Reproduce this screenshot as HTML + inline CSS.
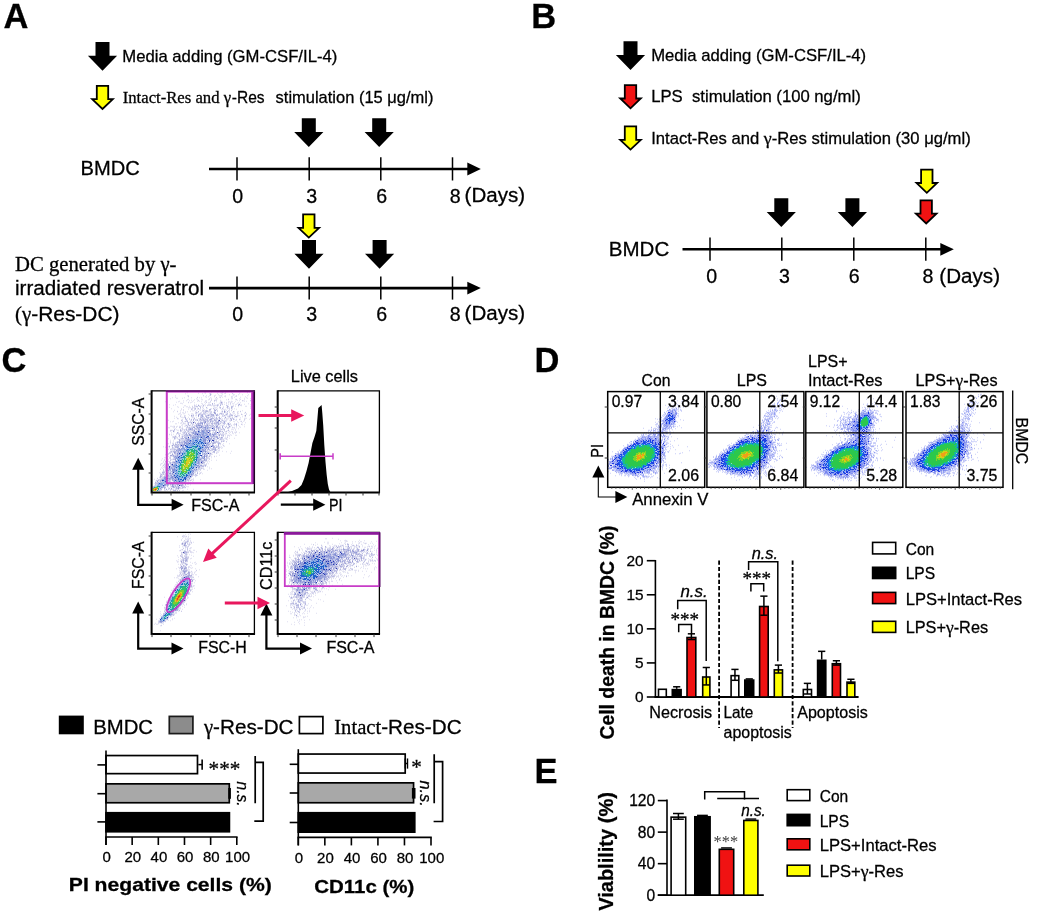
<!DOCTYPE html>
<html lang="en"><head><meta charset="utf-8"><title>Figure</title>
<style>html,body{margin:0;padding:0;background:#fff}svg{display:block;font-family:"Liberation Sans", Arial, Helvetica, sans-serif;fill:#000}text{stroke:#000;stroke-width:.28px}text.ns{stroke:none}</style></head><body>
<svg width="1038" height="917" viewBox="0 0 1038 917">
<rect width="1038" height="917" fill="#fff"/>
<!-- Panel A -->
<text x="3.4" y="28" font-size="34.5" font-weight="bold">A</text>
<polygon points="95.5,42 109.5,42 109.5,55.7 117.1,55.7 102.5,70.7 87.9,55.7 95.5,55.7" fill="#000"/>
<text x="122.3" y="62" font-size="16.2" textLength="215" lengthAdjust="spacingAndGlyphs">Media adding (GM-CSF/IL-4)</text>
<polygon points="96.8,85.8 108.2,85.8 108.2,99.2 112.8,99.2 102.5,109 92.2,99.2 96.8,99.2" fill="#ffff00" stroke="#000" stroke-width="1.8" stroke-linejoin="miter"/>
<text x="122.7" y="102.8" font-size="16" font-family='"Liberation Serif", "Times New Roman", Times, serif' textLength="108.4" lengthAdjust="spacingAndGlyphs">Intact-Res and γ</text>
<text x="231.8" y="102.8" font-size="16.4" textLength="32.8" lengthAdjust="spacingAndGlyphs">-Res</text>
<text x="275.6" y="102.8" font-size="16.4" textLength="157.8" lengthAdjust="spacingAndGlyphs">stimulation (15 μg/ml)</text>
<polygon points="301.8,118.2 315.8,118.2 315.8,131.9 323.4,131.9 308.8,146.9 294.2,131.9 301.8,131.9" fill="#000"/>
<polygon points="372.2,118.2 386.2,118.2 386.2,131.9 393.8,131.9 379.2,146.9 364.6,131.9 372.2,131.9" fill="#000"/>
<text x="80.6" y="175.3" font-size="20.6" textLength="59.2" lengthAdjust="spacingAndGlyphs">BMDC</text>
<line x1="209" y1="169" x2="470.8" y2="169" stroke="#000" stroke-width="2.6"/>
<polygon points="467.3,162.6 480.8,169 467.3,175.4" fill="#000"/>
<line x1="237" y1="157.3" x2="237" y2="180.5" stroke="#000" stroke-width="1.5"/>
<line x1="309.2" y1="157.3" x2="309.2" y2="180.5" stroke="#000" stroke-width="1.5"/>
<line x1="380.8" y1="157.3" x2="380.8" y2="180.5" stroke="#000" stroke-width="1.5"/>
<line x1="452.5" y1="157.3" x2="452.5" y2="180.5" stroke="#000" stroke-width="1.5"/>
<text x="237.6" y="202.8" font-size="19.6" text-anchor="middle">0</text>
<text x="311.6" y="202.8" font-size="19.6" text-anchor="middle">3</text>
<text x="381.6" y="202.8" font-size="19.6" text-anchor="middle">6</text>
<text x="455.2" y="202.8" font-size="19.6" text-anchor="middle">8</text>
<text x="464.6" y="202.4" font-size="20" textLength="60.5" lengthAdjust="spacingAndGlyphs">(Days)</text>
<polygon points="303.1,214.4 314.5,214.4 314.5,227.8 319.1,227.8 308.8,237.6 298.5,227.8 303.1,227.8" fill="#ffff00" stroke="#000" stroke-width="1.8" stroke-linejoin="miter"/>
<polygon points="302,240 316,240 316,253.7 323.6,253.7 309,268.7 294.4,253.7 302,253.7" fill="#000"/>
<polygon points="372.6,240 386.6,240 386.6,253.7 394.2,253.7 379.6,268.7 365,253.7 372.6,253.7" fill="#000"/>
<text x="15" y="271.3" font-size="20.3" font-family='"Liberation Serif", "Times New Roman", Times, serif' textLength="161.5" lengthAdjust="spacingAndGlyphs">DC generated by γ-</text>
<text x="15" y="295.2" font-size="20" textLength="189" lengthAdjust="spacingAndGlyphs">irradiated resveratrol</text>
<text x="15" y="320.8" font-size="20" textLength="104.5" lengthAdjust="spacingAndGlyphs"><tspan font-family='"Liberation Serif", "Times New Roman", Times, serif' font-size="20">(γ</tspan>-Res-DC)</text>
<line x1="209" y1="288.1" x2="470.8" y2="288.1" stroke="#000" stroke-width="2.6"/>
<polygon points="467.3,281.7 480.8,288.1 467.3,294.5" fill="#000"/>
<line x1="237" y1="276.4" x2="237" y2="299.6" stroke="#000" stroke-width="1.5"/>
<line x1="309.2" y1="276.4" x2="309.2" y2="299.6" stroke="#000" stroke-width="1.5"/>
<line x1="380.8" y1="276.4" x2="380.8" y2="299.6" stroke="#000" stroke-width="1.5"/>
<line x1="452.5" y1="276.4" x2="452.5" y2="299.6" stroke="#000" stroke-width="1.5"/>
<text x="237.6" y="321" font-size="19.6" text-anchor="middle">0</text>
<text x="311.6" y="321" font-size="19.6" text-anchor="middle">3</text>
<text x="381.6" y="321" font-size="19.6" text-anchor="middle">6</text>
<text x="455.2" y="321" font-size="19.6" text-anchor="middle">8</text>
<text x="464.6" y="320.4" font-size="20" textLength="60.5" lengthAdjust="spacingAndGlyphs">(Days)</text>
<!-- Panel B -->
<text x="531.2" y="28" font-size="34.5" font-weight="bold">B</text>
<polygon points="623.5,41.3 637.5,41.3 637.5,55 645.1,55 630.5,70 615.9,55 623.5,55" fill="#000"/>
<text x="651.2" y="61.3" font-size="16.2" textLength="215" lengthAdjust="spacingAndGlyphs">Media adding (GM-CSF/IL-4)</text>
<polygon points="624.8,85.1 636.2,85.1 636.2,98.5 640.8,98.5 630.5,108.3 620.2,98.5 624.8,98.5" fill="#f01212" stroke="#000" stroke-width="1.8" stroke-linejoin="miter"/>
<text x="651.2" y="102" font-size="16.4" textLength="209.5" lengthAdjust="spacingAndGlyphs">LPS  stimulation (100 ng/ml)</text>
<polygon points="624.8,126.4 636.2,126.4 636.2,139.8 640.8,139.8 630.5,149.6 620.2,139.8 624.8,139.8" fill="#ffff00" stroke="#000" stroke-width="1.8" stroke-linejoin="miter"/>
<text x="651.2" y="143.8" font-size="16.2" textLength="319.5" lengthAdjust="spacingAndGlyphs">Intact-Res and <tspan font-family='"Liberation Serif", "Times New Roman", Times, serif' font-size="17.5">γ</tspan>-Res stimulation (30 μg/ml)</text>
<polygon points="921.1,169.6 932.5,169.6 932.5,183 937.1,183 926.8,192.8 916.5,183 921.1,183" fill="#ffff00" stroke="#000" stroke-width="1.8" stroke-linejoin="miter"/>
<polygon points="920.5,200.3 931.9,200.3 931.9,213.7 936.5,213.7 926.2,223.5 915.9,213.7 920.5,213.7" fill="#f01212" stroke="#000" stroke-width="1.8" stroke-linejoin="miter"/>
<polygon points="774.3,198.2 788.3,198.2 788.3,211.9 795.9,211.9 781.3,226.9 766.7,211.9 774.3,211.9" fill="#000"/>
<polygon points="845.4,198.2 859.4,198.2 859.4,211.9 867,211.9 852.4,226.9 837.8,211.9 845.4,211.9" fill="#000"/>
<text x="608.8" y="255.8" font-size="20.6" textLength="60.4" lengthAdjust="spacingAndGlyphs">BMDC</text>
<line x1="682.5" y1="249.3" x2="943.8" y2="249.3" stroke="#000" stroke-width="2.6"/>
<polygon points="940.3,242.9 953.8,249.3 940.3,255.7" fill="#000"/>
<line x1="710" y1="237.6" x2="710" y2="260.8" stroke="#000" stroke-width="1.5"/>
<line x1="781.8" y1="237.6" x2="781.8" y2="260.8" stroke="#000" stroke-width="1.5"/>
<line x1="853.8" y1="237.6" x2="853.8" y2="260.8" stroke="#000" stroke-width="1.5"/>
<line x1="925.8" y1="237.6" x2="925.8" y2="260.8" stroke="#000" stroke-width="1.5"/>
<text x="711.8" y="283.2" font-size="19.6" text-anchor="middle">0</text>
<text x="784.4" y="283.2" font-size="19.6" text-anchor="middle">3</text>
<text x="854.3" y="283.2" font-size="19.6" text-anchor="middle">6</text>
<text x="928" y="283.2" font-size="19.6" text-anchor="middle">8</text>
<text x="939.3" y="282.6" font-size="20" textLength="60.7" lengthAdjust="spacingAndGlyphs">(Days)</text>
<!-- Panel C -->
<text x="1.6" y="371.8" font-size="34.5" font-weight="bold">C</text>
<g transform="translate(151 390)" fill="none" stroke-width="1">
<g shape-rendering="crispEdges" transform="translate(0 .5)">
<path d="M0 0m68 30h1m-27 2h1" stroke="#4a4eb0"/>
<path d="M0 0m61 38h1m-15 3h1m9 1h1m8 0h1m-21 2h1m9 2h1m-20 1h1m12 0h1m4 0h1m2 3h1m2 0h2m-5 1h1m-5 2h1m-25 2h1m3 0h1m18 0h1m6 1h1m-11 5h1m-23 2h1m28 0h1m-8 2h1m-24 2h1m22 5h1m-30 2h1m-4 2h1m-1 1h1m26 0h1m-24 5h1m16 4h1m-16 1h1m-9 1h1m17 1h1m-24 1h1m16 1h1m1 2h1m-19 2h1m15 0h1" stroke="#2a3cb4"/>
<path d="M0 0m57 46h1m-9 3h1m-11 1h1m4 0h2m0 1h1m1 0h2m-7 1h1m1 0h1m1 0h1m2 0h2m-14 1h1m3 0h1m4 0h1m2 0h1m1 0h1m-10 1h1m2 1h1m4 0h1m-17 1h2m8 0h2m1 0h1m-13 1h5m8 0h1m1 0h1m-4 1h2m-14 1h2m9 0h1m1 2h1m-3 1h1m-17 1h1m16 0h2m-19 1h1m-2 1h1m18 0h1m-22 1h1m1 1h1m15 0h1m-2 2h1m-19 1h1m1 0h1m15 0h1m-21 1h1m2 1h1m15 2h1m-20 1h1m1 1h1m-3 1h1m14 0h1m1 0h1m-2 1h1m-17 2h1m13 1h1m-3 1h1m1 0h1m-16 1h1m12 0h1m-3 1h1m-13 1h1m2 0h1m8 0h2m-12 1h1m2 0h1m6 0h1m-10 1h1m4 0h1m1 0h2m-8 1h1m5 0h2m-8 1h1m1 0h2m1 0h1m-21 1h1m11 0h1m6 0h2m-19 1h1m-7 2h1m-1 3h1" stroke="#2060cc"/>
<path d="M0 0m45 54h1m-5 2h4m-1 1h2m-4 1h1m4 0h1m-9 1h1m1 0h1m1 0h1m4 0h1m-14 1h2m1 0h1m4 0h2m3 0h1m-14 1h2m6 0h1m2 0h1m-2 1h1m-13 1h1m11 0h2m-2 1h2m-13 1h1m10 0h1m-14 1h2m11 0h1m-15 1h3m10 0h2m-1 1h1m-15 1h1m12 0h1m-15 1h1m12 0h1m-14 1h1m13 0h1m-15 1h1m13 0h1m-16 1h1m11 0h1m-13 1h1m10 0h1m1 0h1m-15 1h2m10 0h1m-13 1h1m11 0h1m-13 1h1m-1 1h2m8 0h2m-12 1h1m9 0h1m-2 1h2m-12 1h2m1 0h1m-4 2h1m1 0h1m4 0h1m-4 1h2m-3 1h1m1 0h2m-5 1h1m1 0h1m-26 10h2m-5 1h1m3 1h1m-1 1h1m-2 1h1" stroke="#20a0a8"/>
<path d="M0 0m40 59h1m-1 1h3m2 0h1m-9 1h1m2 0h3m2 0h1m-10 1h3m3 0h2m-8 1h2m5 0h1m-8 1h2m-3 1h3m2 0h1m1 0h2m-10 2h1m8 0h1m-11 1h1m9 0h1m-11 1h1m8 0h2m-12 1h1m1 0h1m7 0h1m-11 1h1m-2 1h2m8 0h1m-2 1h1m-11 1h1m-1 1h1m-1 2h1m-1 1h1m4 1h1m1 0h1m-3 1h2m-7 2h3m2 0h1m-6 1h2m1 0h1m-5 1h1" stroke="#30c070"/>
<path d="M0 0m39 62h2m-3 1h1m1 0h3m-4 1h4m-5 1h2m1 0h1m-7 1h6m1 0h2m-7 1h1m1 0h1m1 0h2m-4 1h4m-8 1h1m2 0h1m1 0h1m-8 1h1m1 0h1m5 0h1m-9 1h2m4 0h3m-9 1h2m4 0h2m-8 1h2m4 0h1m-9 1h2m1 0h1m3 0h2m-9 1h2m4 0h3m-10 1h2m1 0h1m3 0h2m-8 1h1m2 0h4m-7 1h1m2 0h1m1 0h2m-8 1h5m-4 1h2m-2 1h5m-2 1h1m-31 15h3m-5 1h1m3 0h1m-5 2h1" stroke="#7ccc30"/>
<path d="M0 0m38 67h1m-4 1h4m-3 1h2m1 0h1m-4 1h5m-6 1h4m-4 1h3m-2 1h3m-4 1h2m-4 1h4m-3 1h3m-4 1h1m-1 1h1m-31 20h1m-1 2h1" stroke="#d8d020"/>
<path d="M0 0m35 73h1m-32 25h2m-4 1h2m1 0h1m-2 1h1" stroke="#f09020"/>
<path d="M0 0m4 99h1" stroke="#e04020"/>
</g>
<g transform="scale(0.5) translate(0 .5)">
<path d="M0 0m113 2h1m16 0h1m9 0h1m9 0h1m10 0h1m1 0h1m20 0h1m-115 1h1m62 0h1m1 0h1m12 0h1m1 0h1m1 0h1m23 0h1m-69 1h1m12 0h1m19 0h1m3 0h1m15 0h1m30 0h1m4 0h1m-125 1h1m33 0h1m31 0h1m3 0h1m4 0h1m43 0h1m-99 1h1m14 0h1m8 0h1m14 0h1m7 0h1m4 0h1m2 0h1m13 0h1m-96 1h1m34 0h1m12 0h1m2 0h1m43 0h1m13 0h1m-57 1h1m43 0h1m-32 1h1m8 0h1m12 0h1m10 0h1m7 0h1m7 0h1m10 0h1m-66 1h1m10 0h1m24 0h1m-118 1h1m24 0h2m35 0h1m6 0h1m9 0h1m9 0h1m1 0h1m9 0h1m20 0h1m22 0h1m-119 1h1m64 0h1m6 0h1m14 0h1m5 0h1m1 0h1m33 0h1m-131 1h1m33 0h1m6 0h1m11 0h1m21 0h1m10 0h1m28 0h1m-141 1h1m43 0h1m17 0h1m24 0h1m1 0h1m3 0h1m17 0h1m5 0h1m11 0h1m-136 1h1m22 0h1m13 0h1m12 0h1m2 0h1m3 0h1m18 0h1m10 0h2m6 0h1m24 0h1m27 0h1m-142 1h1m2 0h1m9 0h1m56 0h1m65 0h1m6 0h1m-156 1h1m52 0h1m24 0h1m12 0h1m2 0h1m28 0h2m14 0h1m21 0h1m-126 1h1m25 0h1m15 0h1m37 0h1m14 0h1m1 0h1m-99 1h1m12 0h1m5 0h1m10 0h1m10 0h1m6 0h1m9 0h1m18 0h1m3 0h1m15 0h1m15 0h1m-106 1h1m13 0h1m30 0h1m12 0h1m32 0h1m-108 1h1m4 0h1m5 0h1m7 0h1m10 0h1m12 0h1m2 0h1m64 0h1m5 0h2m1 0h1m12 0h2m-143 1h1m34 0h1m3 0h1m3 0h1m25 0h1m12 0h1m1 0h1m19 0h1m6 0h1m17 0h1m4 0h1m-164 1h1m25 0h1m28 0h1m24 0h1m21 0h1m23 0h1m1 0h1m6 0h1m39 0h1m-153 1h1m12 0h1m10 0h1m4 0h1m26 0h1m2 0h2m7 0h1m26 0h1m12 0h1m1 0h1m-88 1h1m4 0h1m7 0h1m27 0h2m34 0h1m2 0h1m11 0h1m8 0h1m3 0h1m-121 1h1m1 0h1m38 0h1m26 0h1m8 0h1m6 0h1m6 0h1m7 0h1m14 0h1m28 0h1m-140 1h1m39 0h1m4 0h1m17 0h1m32 0h1m2 0h1m2 0h1m28 0h1m-80 1h1m1 0h1m16 0h1m6 0h1m4 0h1m8 0h1m15 0h1m14 0h1m-151 1h1m12 0h1m37 0h1m3 0h1m10 0h1m3 0h1m36 0h1m15 0h1m9 0h1m11 0h1m16 0h1m5 0h1m-175 1h1m14 0h1m66 0h1m9 0h1m2 0h1m24 0h1m13 0h1m-99 1h1m1 0h1m19 0h1m11 0h1m7 0h1m3 0h1m7 0h1m60 0h1m-106 1h1m5 0h1m3 0h1m9 0h1m8 0h1m18 0h1m1 0h1m28 0h1m4 0h1m3 0h1m4 0h1m18 0h1m2 0h1m10 0h1m-150 1h1m17 0h1m1 0h1m9 0h1m4 0h1m4 0h1m9 0h1m28 0h1m3 0h1m8 0h1m8 0h1m19 0h1m24 0h1m-163 1h1m17 0h1m30 0h1m41 0h1m2 0h1m18 0h1m-77 1h1m1 0h1m2 0h1m3 0h1m1 0h1m16 0h1m24 0h1m16 0h1m12 0h1m-75 1h1m9 0h1m18 0h1m41 0h1m43 0h1m-158 1h1m19 0h1m18 0h1m39 0h1m8 0h1m3 0h1m19 0h1m3 0h1m2 0h1m6 0h1m-93 1h1m69 0h1m3 0h1m6 0h1m6 0h1m7 0h1m-111 1h1m2 0h1m16 0h1m10 0h1m3 0h1m5 0h1m4 0h1m33 0h1m5 0h1m-101 1h1m16 0h1m21 0h1m12 0h1m42 0h1m7 0h1m5 0h1m4 0h1m-104 1h1m23 0h1m1 0h1m5 0h1m11 0h1m57 0h1m22 0h1m-131 1h1m25 0h1m99 0h1m-135 1h1m6 0h1m16 0h1m3 0h1m15 0h1m27 0h1m22 0h1m16 0h1m8 0h1m5 0h1m1 0h1m-116 1h1m4 0h1m123 0h1m-127 1h1m6 0h1m18 0h1m10 0h1m14 0h1m35 0h1m6 0h1m5 0h1m8 0h1m-57 1h1m25 0h1m23 0h1m6 0h1m13 0h1m-132 1h1m2 0h1m5 0h2m14 0h1m1 0h1m17 0h1m9 0h1m1 0h1m50 0h1m10 0h1m15 0h1m-137 1h1m18 0h1m9 0h1m95 0h1m10 0h1m7 0h1m2 0h1m-142 1h1m29 0h1m64 0h1m12 0h1m3 0h1m8 0h1m-125 1h1m18 0h1m12 0h1m36 0h1m22 0h1m15 0h1m22 0h1m6 0h1m-128 1h1m18 0h1m78 0h1m8 0h1m9 0h1m-141 1h1m12 0h1m25 0h1m-27 1h1m6 0h1m96 0h1m9 0h1m9 0h1m4 0h1m-138 1h1m9 0h2m6 0h1m5 0h1m15 0h1m49 0h1m12 0h1m11 0h1m-102 1h1m16 0h1m1 0h1m2 0h1m68 0h1m21 0h1m-133 1h1m5 0h1m41 0h1m56 0h1m1 0h1m32 0h1m4 0h1m7 0h1m-148 1h1m1 0h1m17 0h1m69 0h1m12 0h1m33 0h1m-127 1h1m82 0h1m3 0h1m7 0h1m19 0h1m8 0h1m8 0h1m-44 1h1m22 0h1m10 0h1m-153 1h1m24 0h1m17 0h1m69 0h1m1 0h1m5 0h1m12 0h1m1 0h1m15 1h1m-143 1h1m105 0h1m6 0h1m6 0h1m12 0h1m2 0h1m3 0h1m-148 1h1m3 0h1m19 0h2m3 0h1m98 0h1m6 0h1m6 0h1m-121 1h1m11 0h1m84 0h1m-103 1h1m8 0h1m109 0h1m7 0h1m5 0h1m-130 1h2m-13 1h1m2 0h1m16 0h1m3 0h1m69 0h1m23 0h1m-104 1h1m14 0h1m73 0h1m14 0h1m12 0h2m-37 1h1m4 0h1m7 0h1m6 0h1m16 0h1m4 0h1m-127 1h2m5 0h1m71 0h1m19 0h1m5 0h1m3 0h1m3 0h1m-37 1h1m22 0h1m-123 1h2m3 0h1m2 0h1m4 0h1m4 0h1m8 0h1m1 0h1m78 0h1m23 0h1m-130 1h1m4 0h1m2 0h1m11 0h1m113 0h1m10 0h1m-137 1h1m7 0h1m102 0h1m4 0h1m10 0h1m-145 1h1m1 0h1m7 0h1m2 0h1m9 0h1m5 0h1m93 0h1m4 0h1m1 0h1m6 0h1m-111 1h1m104 0h1m-119 1h1m106 0h1m19 0h1m-130 1h1m17 0h1m3 0h1m91 0h1m1 0h1m6 0h1m-120 1h1m114 0h1m-127 1h1m1 0h1m1 0h1m8 0h1m1 0h1m113 0h1m-131 1h1m2 0h1m20 0h1m90 0h1m-115 1h1m24 0h1m82 0h1m13 0h1m-115 1h1m115 0h1m6 0h1m-140 1h1m22 0h1m99 0h1m4 0h1m2 0h1m4 0h2m2 0h1m-131 1h1m134 0h1m-29 1h1m2 0h1m4 0h1m5 0h1m5 0h1m-119 1h1m99 0h1m14 0h1m-129 1h1m2 0h1m4 0h1m5 0h1m94 0h1m1 0h1m-112 1h1m19 0h1m3 0h1m97 0h1m-119 1h1m111 0h1m2 0h1m4 0h1m6 0h1m1 0h1m-122 1h1m99 0h1m-107 1h1m3 0h1m3 0h1m2 0h1m98 0h1m2 0h1m-97 1h1m87 1h1m4 0h1m-111 1h1m5 0h1m6 0h1m95 0h1m-6 1h1m9 0h1m9 0h1m-137 1h1m3 0h1m16 0h1m-7 1h1m106 1h1m-116 1h1m5 0h1m99 0h1m1 0h1m-116 1h1m102 0h1m12 1h1m-110 1h1m5 0h1m105 0h2m-20 3h1m-101 1h1m2 0h1m3 0h1m99 0h1m4 0h1m12 0h1m-20 2h1m4 0h1m-111 1h1m97 0h1m-92 1h1m103 0h2m-115 1h1m115 0h1m-123 1h1m8 0h1m102 0h1m2 0h1m-112 1h1m109 0h1m-103 1h1m105 0h1m-7 1h1m3 0h1m-101 1h1m-8 1h1m98 0h1m3 1h1m-96 1h1m93 1h1m-98 1h1m92 0h1m10 0h1m16 0h1m-123 1h1m111 0h1m-16 1h1m-6 1h1m2 0h1m-13 1h1m37 0h1m-125 2h1m86 0h1m-95 1h1m3 0h1m-1 1h1m104 0h1m-104 2h1m85 0h1m5 0h1m4 0h1m-94 1h1m87 0h1m-96 1h1m4 0h1m-11 1h1m2 0h1m1 0h1m83 0h1m4 0h1m-88 1h1m2 0h1m-15 1h1m91 0h1m-81 1h1m-8 1h1m2 0h1m-11 1h1m6 0h1m5 0h1m87 0h1m8 0h1m-16 1h1m-92 1h1m88 0h1m-86 1h1m3 0h1m76 0h1m7 0h1m-93 1h1m4 0h1m81 1h1m-91 1h1m4 0h1m1 0h1m77 1h1m3 0h1m3 0h1m-98 1h1m8 0h1m82 0h1m-85 1h1m-9 1h1m5 0h1m86 0h1m-90 2h1m89 1h1m-88 1h1m75 0h1m15 0h1m-98 1h1m5 0h1m77 0h1m-82 1h1m80 1h1m11 0h1m4 0h1m-98 1h1m79 0h1m1 0h1m-82 1h1m73 1h1m13 0h1m-19 1h1m0 1h1m3 2h1m-85 1h1m82 0h1m-81 1h1m77 0h1m4 1h1m-13 1h1m6 0h1m-9 5h1m-77 3h1m70 0h1m-73 1h1m-6 1h1m72 0h1m1 0h1m1 1h1m14 0h1m-90 1h1m73 0h1m-8 1h1m-69 1h1m73 0h1m0 2h1m-6 1h1m-74 2h1m65 1h1m2 0h1m3 1h1m-11 1h1m-32 2h1m31 0h1m1 1h1m1 0h1m-40 1h1m3 1h1m-12 2h1m30 0h1m13 1h1m10 0h1m-59 1h1m16 0h1m-17 1h1m4 0h1m23 0h1m8 0h1m-38 1h1m28 0h1m5 0h1" stroke="#7c7ac2"/>
<path d="M0 0m178 3h1m-37 2h1m-25 4h2m-2 1h1m-14 1h1m72 7h1m-59 2h1m8 0h2m-5 1h1m-8 1h1m19 2h1m1 0h2m-3 1h2m-3 1h2m-19 1h2m-1 1h1m19 0h1m32 0h2m-60 1h1m14 0h1m4 0h1m35 0h1m2 0h1m-84 1h2m9 0h1m9 0h2m2 0h1m7 0h2m1 0h1m2 0h2m3 0h2m11 0h1m22 0h2m2 0h1m-92 1h1m6 0h1m9 0h1m28 0h1m18 0h1m-62 1h1m5 0h1m1 0h1m52 0h1m9 0h1m-72 1h2m59 0h1m8 0h1m1 0h1m-100 1h1m33 0h1m39 0h1m13 0h1m8 0h1m-64 1h1m11 0h2m25 0h2m13 0h1m8 0h2m-76 1h1m1 0h1m15 0h1m18 0h1m13 0h1m3 0h1m17 0h1m-73 1h1m5 0h2m2 0h1m25 0h1m17 0h1m-62 1h1m1 0h1m3 0h2m29 0h2m6 0h1m3 0h1m-15 1h2m8 0h1m4 0h1m-27 1h1m4 0h1m7 0h1m8 0h1m1 0h1m-25 1h1m3 0h2m2 0h1m2 0h1m10 0h3m2 0h1m14 0h1m6 0h1m-52 1h2m1 0h1m1 0h1m4 0h2m17 0h1m14 0h2m-55 1h2m14 0h2m1 0h1m5 0h1m1 0h1m4 0h1m15 0h2m2 0h2m4 0h2m10 0h2m12 0h1m-88 1h1m9 0h1m6 0h2m11 0h1m3 0h3m18 0h3m-58 1h2m12 0h2m12 0h1m6 0h1m2 0h1m58 0h1m-99 1h1m13 0h1m21 0h4m9 0h2m11 0h1m-64 1h1m7 0h2m8 0h1m1 0h1m8 0h1m1 0h1m8 0h1m7 0h2m1 0h1m3 0h1m7 0h1m5 0h1m-64 1h2m2 0h1m3 0h2m2 0h1m10 0h1m4 0h1m8 0h2m7 0h1m1 0h1m5 0h3m6 0h1m22 0h1m-87 1h2m4 0h1m1 0h1m4 0h1m5 0h1m1 0h1m3 0h3m2 0h1m3 0h2m5 0h1m7 0h1m7 0h1m8 0h1m-81 1h2m1 0h1m10 0h1m4 0h1m1 0h1m9 0h1m2 0h1m1 0h1m2 0h1m2 0h2m5 0h2m1 0h1m1 0h1m22 0h1m2 0h3m-97 1h1m12 0h2m2 0h1m9 0h2m3 0h1m8 0h1m1 0h1m2 0h3m2 0h1m3 0h1m2 0h1m5 0h1m1 0h1m9 0h1m2 0h3m8 0h1m3 0h1m11 0h2m13 0h2m-96 1h2m8 0h1m3 0h1m2 0h1m9 0h1m3 0h1m17 0h2m8 0h2m1 0h1m1 0h1m10 0h1m1 0h1m-91 1h2m16 0h2m9 0h1m7 0h1m2 0h1m1 0h1m3 0h1m9 0h1m18 0h1m11 0h1m1 0h2m-106 1h1m34 0h1m1 0h1m1 0h1m4 0h1m2 0h1m2 0h1m1 0h1m12 0h1m4 0h1m12 0h1m-82 1h1m29 0h1m2 0h1m4 0h1m3 0h1m1 0h1m1 0h1m8 0h1m3 0h1m3 0h1m2 0h1m1 0h1m11 0h2m13 0h1m-95 1h1m29 0h1m23 0h1m1 0h1m2 0h1m2 0h1m4 0h1m10 0h1m10 0h3m2 0h1m-95 1h1m7 0h1m8 0h2m8 0h1m5 0h3m1 0h1m2 0h1m2 0h1m6 0h4m2 0h1m4 0h1m2 0h1m2 0h1m1 0h2m25 0h1m-97 1h1m1 0h1m5 0h1m3 0h1m2 0h1m6 0h1m6 0h2m1 0h1m2 0h1m3 0h1m2 0h1m1 0h1m2 0h1m2 0h1m7 0h1m4 0h1m3 0h1m3 0h1m19 0h1m3 0h3m3 0h1m6 0h1m-108 1h1m10 0h1m3 0h1m3 0h1m2 0h1m3 0h1m1 0h1m3 0h1m1 0h1m1 0h1m1 0h1m2 0h1m1 0h1m2 0h1m1 0h2m1 0h1m5 0h1m1 0h1m1 0h1m28 0h1m-100 1h2m18 0h1m2 0h1m3 0h1m3 0h2m7 0h1m3 0h1m8 0h1m4 0h1m3 0h1m2 0h3m1 0h1m3 0h2m6 0h2m15 0h3m-92 1h1m2 0h1m10 0h1m6 0h1m4 0h1m1 0h1m1 0h1m1 0h1m1 0h1m1 0h3m1 0h1m1 0h2m2 0h1m3 0h1m3 0h1m4 0h1m5 0h1m5 0h1m3 0h1m-77 1h1m1 0h1m1 0h1m20 0h1m13 0h1m5 0h1m3 0h1m2 0h2m6 0h2m4 0h1m10 0h3m-81 1h1m4 0h1m5 0h1m3 0h1m2 0h1m11 0h1m5 0h1m2 0h1m1 0h1m1 0h2m2 0h1m2 0h2m5 0h1m6 0h1m1 0h3m1 0h2m1 0h1m3 0h1m-69 1h2m1 0h1m5 0h1m12 0h2m3 0h1m1 0h2m5 0h1m13 0h1m1 0h4m10 0h1m3 0h1m-74 1h2m4 0h1m7 0h1m5 0h1m3 0h1m4 0h1m13 0h2m13 0h2m6 0h1m5 0h1m-67 1h1m3 0h1m3 0h2m3 0h2m1 0h1m9 0h2m4 0h1m1 0h1m5 0h3m3 0h2m1 0h1m1 0h1m6 0h1m5 0h1m3 0h1m4 0h1m1 0h1m-91 1h2m7 0h1m5 0h1m2 0h1m9 0h1m1 0h2m6 0h1m3 0h1m2 0h1m5 0h1m6 0h2m3 0h1m3 0h1m3 0h1m1 0h1m7 0h1m7 0h2m2 0h1m11 0h1m-97 1h2m9 0h1m5 0h1m1 0h1m1 0h1m1 0h1m1 0h1m2 0h1m7 0h1m1 0h1m2 0h1m4 0h1m2 0h1m3 0h1m7 0h1m11 0h1m6 0h1m1 0h1m12 0h3m-89 1h1m6 0h1m4 0h1m7 0h1m3 0h1m4 0h1m9 0h1m5 0h1m5 0h3m18 0h2m-86 1h1m1 0h2m8 0h1m3 0h2m2 0h1m1 0h1m4 0h1m1 0h1m2 0h1m2 0h1m2 0h1m1 0h1m4 0h2m1 0h1m10 0h1m1 0h2m20 0h1m-85 1h1m5 0h2m1 0h1m12 0h1m1 0h1m6 0h1m3 0h1m2 0h1m2 0h3m1 0h1m2 0h1m2 0h2m1 0h2m2 0h1m14 0h2m26 0h1m-91 1h2m4 0h1m1 0h2m1 0h1m4 0h1m10 0h1m17 0h1m5 0h1m10 0h1m6 0h1m5 0h2m-100 1h1m13 0h2m10 0h1m5 0h1m4 0h1m12 0h1m1 0h2m11 0h1m2 0h1m5 0h2m2 0h1m5 0h1m7 0h1m6 0h2m-102 1h1m16 0h1m12 0h1m16 0h1m1 0h1m10 0h4m3 0h1m1 0h1m2 0h3m3 0h1m1 0h2m3 0h2m4 0h1m5 0h1m-84 1h2m3 0h2m1 0h2m2 0h1m2 0h2m2 0h1m4 0h1m5 0h1m2 0h1m11 0h1m6 0h1m9 0h2m14 0h1m2 0h1m2 0h1m-85 1h1m2 0h1m7 0h2m3 0h1m1 0h1m2 0h1m1 0h1m3 0h1m16 0h1m1 0h1m1 0h2m6 0h1m3 0h2m2 0h2m5 0h1m1 0h1m7 0h1m-91 1h1m13 0h1m11 0h1m2 0h1m4 0h1m30 0h1m6 0h1m3 0h1m6 0h1m-87 1h1m2 0h1m11 0h1m5 0h1m1 0h2m5 0h2m1 0h1m3 0h1m17 0h1m11 0h1m3 0h1m3 0h1m4 0h1m1 0h1m5 0h1m-102 1h1m12 0h1m6 0h1m3 0h2m2 0h1m1 0h1m1 0h1m1 0h1m4 0h1m1 0h1m2 0h1m6 0h1m14 0h1m3 0h1m14 0h1m2 0h1m5 0h1m1 0h1m2 0h1m1 0h1m-102 1h1m13 0h1m6 0h1m3 0h1m1 0h1m6 0h1m1 0h1m1 0h1m14 0h1m14 0h1m4 0h2m2 0h1m3 0h2m5 0h1m1 0h1m9 0h1m7 0h2m-111 1h1m12 0h2m14 0h1m1 0h1m6 0h1m16 0h1m7 0h1m14 0h1m6 0h1m8 0h1m-96 1h2m12 0h1m1 0h1m6 0h2m4 0h1m1 0h1m3 0h1m10 0h1m18 0h1m15 0h1m2 0h1m2 0h1m4 0h1m1 0h1m11 0h1m6 0h1m-114 1h1m24 0h1m4 0h1m9 0h2m32 0h1m10 0h1m6 0h1m1 0h1m1 0h1m1 0h2m5 0h2m-79 1h1m4 0h1m2 0h2m47 0h1m5 0h3m-86 1h2m9 0h1m1 0h4m2 0h1m6 0h1m33 0h1m10 0h1m1 0h1m2 0h1m2 0h1m2 0h1m9 0h2m-93 1h2m3 0h1m5 0h1m5 0h1m3 0h2m1 0h1m38 0h1m9 0h1m3 0h1m3 0h1m-78 1h1m8 0h1m4 0h1m8 0h1m1 0h1m40 0h1m5 0h1m1 0h1m3 0h1m2 0h1m4 0h1m-89 1h1m12 0h1m1 0h2m2 0h1m1 0h1m37 0h1m1 0h1m4 0h1m2 0h1m6 0h1m5 0h2m2 0h1m2 0h1m-82 1h2m3 0h1m10 0h1m2 0h1m42 0h2m2 0h1m2 0h1m2 0h1m1 0h1m4 0h1m-77 1h2m12 0h3m33 0h1m20 0h1m2 0h1m4 0h1m9 0h1m-100 1h2m11 0h2m8 0h1m44 0h2m1 0h1m3 0h1m3 0h3m3 0h1m1 0h2m-88 1h1m4 0h3m3 0h1m5 0h1m3 0h1m2 0h1m36 0h1m6 0h1m2 0h1m1 0h1m14 0h1m-101 1h1m2 0h2m17 0h1m3 0h1m8 0h1m38 0h1m3 0h1m1 0h1m1 0h2m4 0h1m-89 1h2m15 0h1m3 0h1m2 0h1m8 0h1m41 0h1m2 0h1m6 0h1m5 0h1m4 0h1m1 0h1m-98 1h1m4 0h2m10 0h1m3 0h1m4 0h1m54 0h1m1 0h1m7 0h2m1 0h2m1 0h1m-97 1h1m11 0h1m1 0h2m13 0h1m1 0h1m42 0h1m2 0h2m1 0h1m6 0h2m6 0h1m7 0h1m-104 1h2m12 0h2m1 0h2m55 0h1m4 0h1m5 0h2m1 0h1m2 0h1m1 0h1m8 0h1m-95 1h1m5 0h2m3 0h1m51 0h1m9 0h1m2 0h1m7 0h1m1 0h1m2 0h1m5 0h1m-95 1h3m12 0h1m39 0h1m8 0h1m1 0h1m3 0h1m10 0h2m3 0h1m-87 1h1m8 0h1m2 0h1m1 0h1m56 0h1m3 0h1m9 0h1m-86 1h1m2 0h2m5 0h1m1 0h1m-13 1h1m8 0h1m59 0h1m2 0h1m2 0h1m10 0h1m1 0h2m-89 1h1m3 0h1m2 0h1m47 0h1m7 0h1m4 0h1m4 0h1m2 0h1m1 0h1m4 0h2m-103 1h1m10 0h1m6 0h2m2 0h1m2 0h1m52 0h1m8 0h1m2 0h1m2 0h1m-84 1h1m7 0h1m1 0h1m3 0h1m57 0h2m2 0h2m2 0h1m5 0h1m-93 1h2m7 0h1m3 0h1m6 0h2m58 0h2m1 0h1m2 0h1m5 0h1m1 0h2m-90 1h1m8 0h1m1 0h1m56 0h2m4 0h1m1 0h1m8 0h1m1 0h1m-93 1h1m4 0h2m3 0h1m5 0h1m1 0h2m51 0h1m7 0h1m11 0h1m-92 1h1m4 0h1m1 0h2m2 0h1m2 0h1m54 0h1m2 0h2m17 0h1m-94 1h2m1 0h2m2 0h2m1 0h1m2 0h1m59 0h1m3 0h2m1 0h4m8 0h2m-94 1h1m3 0h1m6 0h1m3 0h1m71 0h1m-94 1h2m4 0h1m6 0h1m1 0h1m7 0h1m57 0h1m9 0h1m2 0h1m1 0h1m1 0h1m-99 1h1m10 0h2m1 0h1m4 0h1m2 0h1m59 0h1m5 0h1m9 0h1m-93 1h1m5 0h1m2 0h1m65 0h2m5 0h1m1 0h1m3 0h2m1 0h1m-92 1h1m1 0h1m4 0h2m8 0h1m65 0h2m2 0h1m5 0h1m1 0h1m-95 1h1m2 0h1m6 0h1m3 0h1m56 0h2m3 0h1m2 0h1m5 0h2m5 0h1m-91 1h1m64 0h2m3 0h1m5 0h1m3 0h2m7 0h1m-97 1h1m4 0h1m2 0h1m2 0h1m2 0h2m58 0h1m3 0h1m5 0h1m1 0h2m1 0h1m-89 1h2m3 0h1m2 0h2m1 0h1m62 0h2m1 0h1m4 0h1m1 0h1m3 0h1m2 0h1m-84 1h1m4 0h1m66 0h1m2 0h1m5 0h2m-80 1h1m61 0h1m3 0h1m1 0h1m1 0h1m6 0h1m2 0h1m3 0h1m-94 1h1m2 0h3m2 0h2m1 0h1m58 0h2m11 0h1m2 0h1m-87 1h1m1 0h1m8 0h1m61 0h1m9 0h1m2 0h1m-87 1h1m3 0h1m3 0h1m66 0h1m6 0h2m1 0h1m-90 1h2m7 0h2m1 0h2m61 0h1m13 0h1m-90 1h2m3 0h1m4 0h1m1 0h2m67 0h2m11 0h1m-97 1h1m10 0h1m1 0h1m67 0h1m1 0h1m-77 1h2m73 0h1m1 0h2m-79 1h1m5 0h1m1 0h1m52 0h1m6 0h1m2 0h1m-76 1h1m1 0h1m1 0h1m1 0h2m1 0h2m1 0h1m60 0h1m1 0h1m-76 1h4m2 0h1m7 0h1m50 0h1m6 0h1m2 0h1m3 0h2m-77 1h1m4 0h1m56 0h1m3 0h4m5 0h1m-74 1h2m6 0h1m58 0h1m1 0h2m1 0h1m-7 1h1m-72 1h1m59 0h1m11 0h2m-74 1h1m5 0h2m56 1h1m5 0h2m1 0h1m3 0h1m-78 1h1m2 0h1m2 0h2m59 0h1m9 0h1m-77 1h1m3 0h1m2 0h1m59 0h1m1 0h2m-72 1h1m62 0h1m5 0h1m-70 1h1m60 0h2m3 0h1m1 0h1m1 0h3m-78 1h1m8 0h1m-15 1h1m6 0h1m8 0h2m57 0h1m-68 1h1m1 0h1m4 0h1m59 0h1m1 0h1m-68 1h2m1 0h2m59 0h2m2 0h1m-71 1h1m7 0h1m55 0h3m-84 1h1m12 0h1m1 0h1m2 0h1m58 0h1m1 0h2m2 0h2m-72 1h2m3 0h1m58 0h1m-69 1h2m3 0h2m4 0h1m54 0h1m11 0h2m-84 1h1m5 0h1m64 0h1m4 0h1m3 0h1m-78 1h1m2 0h1m2 0h2m2 0h1m63 0h1m3 0h1m1 0h2m-83 1h1m2 0h1m11 0h1m56 0h2m2 0h3m3 0h1m-82 1h1m64 0h1m9 0h1m-74 1h1m12 0h1m54 0h1m-70 1h2m1 0h1m60 0h1m3 0h1m-70 1h1m2 0h1m1 0h1m60 0h1m5 0h1m1 0h1m-73 1h1m1 0h1m56 0h1m5 0h1m1 0h2m2 0h1m-84 1h1m11 0h1m1 0h1m7 0h1m51 0h1m1 0h1m1 0h1m-69 1h1m3 0h2m64 0h1m-70 1h1m1 0h1m61 0h1m-70 1h1m7 0h1m6 0h1m49 0h1m-66 1h1m1 0h1m4 0h1m6 0h1m50 0h1m1 0h1m-63 1h1m6 0h1m49 0h1m5 0h1m-71 1h2m1 0h1m1 0h1m2 0h1m4 0h1m2 0h1m-14 1h1m1 0h1m2 0h2m1 0h1m1 0h1m48 0h1m2 0h1m1 0h1m3 0h1m-71 1h1m1 0h1m8 0h1m1 0h1m55 0h2m4 0h1m-71 1h1m1 0h1m54 0h1m-67 1h1m1 0h1m1 0h3m1 0h2m4 0h1m1 0h1m1 0h1m3 0h1m42 0h1m3 0h1m-69 1h1m9 0h1m52 0h1m4 0h1m-71 1h1m1 0h1m17 0h1m44 0h2m2 0h1m2 0h1m2 0h1m-75 1h1m3 0h1m2 0h1m1 0h1m8 0h1m51 0h2m-73 1h1m10 0h1m52 0h1m-64 1h3m2 0h1m1 0h2m-11 1h3m2 0h1m57 0h1m-2 1h1m-6 1h1m-57 1h1m2 0h1m-5 1h1m2 0h1m54 0h1m-62 1h1m4 0h1m20 0h1m-26 1h2m19 0h1m1 0h1m32 0h1m2 0h2m3 0h2m-70 1h2m1 0h1m3 0h1m50 0h1m2 0h1m6 0h1m-68 1h2m23 0h1m-26 1h1m3 0h1m22 0h1m29 0h2m3 0h1m-65 1h1m2 0h1m1 0h1m22 0h3m28 0h1m-62 1h2m25 0h1m4 0h3m20 0h1m-56 1h1m2 0h2m27 0h1m2 0h1m13 0h1m8 0h2m-57 1h1m17 0h1m4 0h1m1 0h2m3 0h1m16 0h1m5 0h1m4 0h1m-61 1h1m23 0h1m4 0h2m3 0h1m1 0h1m1 0h1m2 0h1m12 0h1m5 0h1m-61 1h1m1 0h1m18 0h2m2 0h2m5 0h1m6 0h1m1 0h1m2 0h1m5 0h1m8 0h1m-37 1h1m2 0h1m2 0h1m13 0h1m9 0h1m1 0h1m-59 1h1m21 0h1m1 0h1m1 0h1m16 0h1m3 0h1m8 0h1m-31 1h1m8 0h1m1 0h1m1 0h1m6 0h1m1 0h2m4 0h1m2 0h1m1 0h2m-64 1h1m29 0h1m7 0h1m1 0h1m2 0h1m1 0h2m4 0h1m11 0h1m-42 1h1m2 0h2m16 0h1m3 0h1m1 0h1m1 0h1m1 0h2m4 0h1m1 0h1m3 0h1m-46 1h1m18 0h1m1 0h1m2 0h1m3 0h1m7 0h1m2 0h1m1 0h1m2 0h2m-43 1h1m10 0h1m3 0h1m7 0h1m1 0h1m1 0h1m2 0h1m4 0h2m-37 1h1m8 0h2m3 0h2m9 0h2m2 0h1m-26 1h2m3 0h1m4 0h1m4 0h1m8 0h1m-37 1h1m1 0h2m8 0h1m8 0h1m8 0h1m2 0h1m-35 1h1m21 0h1m5 0h1m1 0h2m3 0h1m-37 1h1m1 0h1m25 0h1m2 0h2m3 0h1" stroke="#4a4eb0"/>
<path d="M0 0m124 49h1m-24 2h2m-1 1h1m-1 1h1m12 2h1m-1 1h1m5 2h1m-14 5h1m14 0h1m-15 1h1m13 0h1m-24 1h1m1 0h1m5 0h2m25 0h1m11 0h1m-49 1h2m1 0h1m31 0h2m9 0h1m-48 1h1m2 0h2m28 0h1m-1 1h1m-38 2h3m2 0h1m12 0h1m-22 1h1m4 0h2m1 0h1m-9 1h1m9 0h1m1 0h1m11 0h1m4 0h1m1 0h1m7 0h2m-32 1h2m1 0h2m8 0h1m17 0h1m-48 1h2m6 0h2m3 0h6m4 0h1m1 0h1m3 0h2m-22 1h1m2 0h2m1 0h1m7 0h4m13 0h1m-45 1h1m14 0h1m7 0h2m2 0h3m2 0h2m11 0h1m-48 1h2m23 0h1m6 0h1m1 0h1m11 0h1m-49 1h1m1 0h1m15 0h1m6 0h1m2 0h1m1 0h1m1 0h1m1 0h1m16 0h1m-49 1h1m14 0h1m6 0h1m3 0h2m1 0h2m15 0h1m-40 1h2m6 0h1m1 0h1m4 0h1m1 0h1m6 0h1m1 0h1m2 0h2m8 0h2m-41 1h1m6 0h2m7 0h6m2 0h3m1 0h1m1 0h2m1 0h1m-33 1h2m7 0h2m3 0h1m1 0h1m2 0h1m3 0h1m1 0h2m2 0h2m-31 1h2m2 0h2m8 0h4m6 0h1m4 0h1m-34 1h2m2 0h4m3 0h1m4 0h2m2 0h6m1 0h1m1 0h2m2 0h1m-35 1h1m1 0h1m4 0h2m4 0h1m1 0h1m1 0h2m1 0h1m5 0h1m1 0h1m16 0h1m-45 1h4m2 0h2m1 0h3m5 0h1m2 0h2m4 0h1m4 0h1m2 0h2m8 0h1m-44 1h1m1 0h1m1 0h5m2 0h1m1 0h1m3 0h2m1 0h1m2 0h2m1 0h2m1 0h1m4 0h2m8 0h1m-43 1h1m2 0h2m3 0h1m2 0h1m1 0h2m2 0h1m1 0h1m4 0h1m1 0h2m3 0h1m1 0h1m2 0h1m4 0h1m-55 1h1m2 0h3m7 0h1m1 0h3m3 0h1m1 0h2m2 0h1m1 0h3m1 0h1m2 0h1m1 0h1m5 0h2m3 0h3m2 0h2m-56 1h1m2 0h1m1 0h1m6 0h1m1 0h1m1 0h1m2 0h1m2 0h2m1 0h2m2 0h1m4 0h1m3 0h4m3 0h2m5 0h1m-55 1h2m1 0h1m1 0h1m8 0h1m5 0h2m1 0h1m3 0h1m2 0h2m1 0h3m8 0h2m3 0h1m-36 1h2m2 0h1m2 0h1m2 0h1m1 0h2m2 0h2m1 0h2m1 0h1m13 0h2m4 0h1m-56 1h1m5 0h1m4 0h1m1 0h2m1 0h1m4 0h1m5 0h2m1 0h1m3 0h2m1 0h1m21 0h2m-51 1h2m3 0h3m2 0h2m9 0h2m2 0h1m5 0h4m4 0h1m9 0h2m-65 1h1m1 0h1m10 0h1m1 0h3m1 0h1m1 0h2m1 0h1m1 0h1m2 0h1m7 0h2m1 0h2m2 0h3m2 0h1m15 0h1m-65 1h1m1 0h1m3 0h1m5 0h1m1 0h1m1 0h1m1 0h1m3 0h2m2 0h1m2 0h2m7 0h2m2 0h1m1 0h4m2 0h1m13 0h1m-65 1h3m1 0h2m4 0h1m2 0h1m2 0h1m2 0h2m3 0h1m1 0h1m4 0h1m2 0h1m1 0h2m2 0h1m2 0h1m3 0h1m2 0h2m3 0h1m-56 1h1m3 0h2m2 0h1m15 0h1m7 0h1m2 0h1m1 0h3m1 0h1m3 0h3m6 0h2m-52 1h3m1 0h1m15 0h1m7 0h1m1 0h2m3 0h2m4 0h1m2 0h2m-47 1h3m1 0h1m4 0h1m11 0h1m8 0h1m1 0h1m2 0h1m1 0h1m3 0h1m1 0h1m2 0h1m-56 1h1m6 0h1m4 0h1m1 0h1m3 0h1m22 0h1m1 0h4m1 0h3m4 0h1m-56 1h1m2 0h2m3 0h1m1 0h1m1 0h6m1 0h2m20 0h3m2 0h1m11 0h1m2 0h1m-72 1h2m12 0h1m2 0h1m1 0h2m2 0h1m1 0h1m2 0h1m2 0h1m19 0h1m2 0h2m12 0h1m5 0h1m-75 1h2m12 0h3m1 0h1m3 0h2m1 0h2m24 0h1m1 0h1m1 0h3m4 0h1m14 0h1m-78 1h1m2 0h1m4 0h2m3 0h1m2 0h2m1 0h1m1 0h2m30 0h2m1 0h1m2 0h1m1 0h3m20 0h1m-72 1h8m1 0h1m34 0h1m1 0h3m3 0h1m6 0h1m-55 1h1m2 0h1m37 0h1m-56 1h2m7 0h2m3 0h3m2 0h1m33 0h3m-53 1h1m3 0h3m2 0h2m6 0h2m19 0h1m16 0h1m-57 1h1m3 0h1m1 0h1m1 0h1m10 0h1m30 0h2m3 0h1m-56 1h1m3 0h3m1 0h1m2 0h1m34 0h1m2 0h1m1 0h2m1 0h1m8 0h1m-69 1h1m5 0h1m1 0h3m35 0h2m3 0h1m4 0h1m1 0h1m9 0h3m-72 1h1m9 0h2m3 0h1m38 0h3m2 0h1m3 0h1m9 0h1m-75 1h3m8 0h1m1 0h1m42 0h3m1 0h4m9 0h1m-64 1h1m1 0h1m2 0h2m1 0h1m34 0h1m1 0h2m1 0h3m2 0h1m-61 1h1m5 0h2m8 0h1m34 0h1m-52 1h3m2 0h3m4 0h1m36 0h1m2 0h2m-55 1h1m1 0h2m1 0h1m6 0h2m32 0h1m1 0h2m5 0h1m4 0h1m-60 1h1m2 0h4m2 0h1m2 0h1m35 0h3m1 0h3m18 0h2m-79 1h1m2 0h1m2 0h1m2 0h1m5 0h1m33 0h3m1 0h1m1 0h1m-56 1h2m1 0h1m1 0h2m1 0h1m3 0h1m38 0h1m1 0h1m2 0h1m1 0h1m-55 1h1m2 0h2m1 0h1m2 0h1m38 0h3m1 0h4m-64 1h2m6 0h1m2 0h1m43 0h1m3 0h1m1 0h1m-62 1h1m6 0h2m1 0h1m1 0h1m1 0h1m43 0h1m2 0h2m-57 1h1m2 0h1m1 0h2m1 0h1m41 0h1m9 0h2m-62 1h2m3 0h1m1 0h1m46 0h1m2 0h2m1 0h1m-62 1h2m4 0h1m44 0h1m1 0h3m1 0h2m-58 1h4m46 0h1m1 0h1m2 0h1m-56 1h1m45 0h1m6 0h1m1 0h1m-56 1h1m52 0h2m-55 1h1m1 0h1m51 0h1m-59 1h2m2 0h1m1 0h1m39 0h1m1 0h1m2 0h1m1 0h1m3 0h1m-60 1h4m4 0h1m41 0h1m2 0h1m4 0h3m-61 1h2m1 0h1m2 0h1m43 0h1m2 0h1m2 0h2m1 0h2m-61 1h1m2 0h1m5 0h2m44 0h1m3 0h1m-59 1h3m5 0h2m44 0h1m2 0h2m-56 1h1m4 0h1m40 0h2m1 0h2m2 0h3m-59 1h2m45 0h2m1 0h3m9 0h1m-62 1h1m2 0h1m42 0h1m1 0h1m1 0h1m6 0h1m-59 1h1m4 0h1m42 0h3m7 0h1m-58 1h1m1 0h1m43 0h1m8 0h1m-57 1h2m43 0h1m2 0h1m1 0h1m3 0h2m-11 1h3m1 0h1m2 0h3m-58 1h1m1 0h1m1 0h1m3 0h1m38 0h1m1 0h3m2 0h1m-54 1h2m1 0h1m3 0h1m41 0h2m-59 1h1m10 0h1m2 0h1m1 0h1m37 0h2m-51 1h1m2 0h1m1 0h1m1 0h1m2 0h1m37 0h2m1 0h3m-56 1h1m3 0h2m1 0h1m5 0h1m-14 1h1m5 0h1m-7 1h2m3 0h1m45 0h1m2 0h1m2 0h3m-59 1h2m2 0h1m45 0h4m4 0h1m-66 1h1m3 0h1m5 0h3m40 0h1m1 0h1m1 0h1m3 0h1m-58 1h2m3 0h3m1 0h1m46 0h3m-60 1h1m1 0h1m5 0h1m1 0h1m40 0h1m4 0h3m-62 1h1m5 0h2m2 0h1m1 0h1m41 0h1m-55 1h4m1 0h2m2 0h1m1 0h1m40 0h1m-53 1h2m2 0h1m2 0h2m2 0h2m43 0h1m-57 1h4m3 0h1m1 0h2m1 0h1m4 0h1m34 0h1m1 0h3m-55 1h1m1 0h1m2 0h3m1 0h2m34 0h1m3 0h2m2 0h1m-58 1h2m2 0h2m3 0h1m2 0h1m1 0h2m3 0h1m29 0h1m3 0h1m2 0h2m-57 1h2m6 0h4m1 0h1m34 0h4m-52 1h1m6 0h1m2 0h1m1 0h1m35 0h1m1 0h2m-45 1h5m38 0h1m-3 1h1m-44 1h1m3 0h1m3 0h1m34 0h2m-52 1h1m4 0h1m1 0h2m2 0h1m36 0h1m3 0h1m-54 1h1m4 0h1m1 0h2m2 0h3m2 0h1m32 0h1m2 0h2m-54 1h2m10 0h2m35 0h3m-44 1h1m3 0h1m1 0h3m30 0h1m1 0h1m-49 1h4m4 0h2m39 0h1m-51 1h2m6 0h2m3 0h2m29 0h4m2 0h1m-52 1h1m1 0h3m1 0h1m2 0h2m2 0h1m4 0h1m25 0h1m2 0h1m3 0h1m-52 1h3m2 0h1m5 0h7m25 0h1m1 0h1m-48 1h3m1 0h1m3 0h1m2 0h5m2 0h1m27 0h3m-53 1h1m1 0h2m1 0h1m1 0h2m2 0h1m3 0h2m1 0h1m1 0h1m1 0h2m25 0h1m4 0h1m-56 1h1m1 0h1m3 0h1m5 0h2m1 0h2m5 0h1m2 0h2m20 0h3m3 0h2m-52 1h1m2 0h1m1 0h1m3 0h3m4 0h5m1 0h1m2 0h1m19 0h1m4 0h1m-55 1h1m1 0h1m4 0h1m1 0h2m1 0h1m1 0h1m2 0h1m9 0h2m1 0h2m22 0h1m-55 1h1m5 0h3m1 0h1m4 0h2m3 0h2m1 0h4m1 0h2m14 0h2m2 0h1m1 0h2m-54 1h2m7 0h1m2 0h3m7 0h1m1 0h1m1 0h1m5 0h2m6 0h1m7 0h1m-50 1h1m6 0h1m2 0h1m1 0h1m1 0h2m8 0h1m1 0h1m4 0h2m7 0h1m1 0h1m6 0h1m-50 1h1m2 0h2m1 0h3m2 0h1m2 0h1m1 0h2m8 0h2m4 0h1m6 0h4m-43 1h1m1 0h1m8 0h1m15 0h2m1 0h5m1 0h1m3 0h1m1 0h1m1 0h1m1 0h1m1 0h2m-48 1h1m8 0h1m2 0h1m2 0h1m7 0h1m1 0h4m2 0h1m3 0h3m3 0h1m4 0h1m-54 1h1m2 0h1m1 0h1m1 0h1m5 0h1m1 0h1m1 0h2m11 0h1m2 0h1m6 0h1m4 0h1m1 0h1m4 0h2m-53 1h1m2 0h2m6 0h1m3 0h2m12 0h1m5 0h2m2 0h1m9 0h2m-54 1h1m1 0h1m37 0h4m-30 1h3m24 0h3m5 0h2m-36 1h3m2 0h2m8 0h3m12 0h1m-40 1h1m3 0h1m3 0h1m1 0h1m13 0h1m2 0h2m2 0h1m9 0h2m-53 1h1m13 0h1m3 0h2m14 0h1m16 0h3m-54 1h1m16 0h2m15 0h1m-39 1h1m17 0h1m1 0h2m18 0h2m4 0h1m-47 1h1m15 0h3m22 0h1m-43 1h1m14 0h1m2 0h2m3 0h2m26 0h1m-37 1h1m1 0h1m33 0h2m-38 1h2m-3 1h1m-3 2h1" stroke="#2a3cb4"/>
<path d="M0 0m113 75h2m-11 7h2m-9 1h1m-3 1h4m6 1h2m-2 1h2m1 0h1m-11 1h1m5 1h1m-6 1h1m8 1h2m-2 1h1m1 0h1m-21 1h2m2 0h1m15 0h2m-22 1h1m3 0h1m2 0h1m3 0h1m-7 1h1m1 0h3m-1 1h1m3 0h1m-2 1h4m-20 1h2m2 0h1m1 0h1m-10 1h1m1 0h1m3 0h3m3 0h1m-18 1h1m2 0h5m1 0h2m1 0h1m1 0h1m2 0h3m2 0h1m4 0h2m-25 1h1m1 0h1m2 0h1m4 0h1m2 0h1m1 0h1m1 0h1m1 0h1m3 0h1m-22 1h2m1 0h1m5 0h1m1 0h8m-18 1h2m1 0h1m1 0h1m4 0h1m5 0h2m-21 1h1m2 0h1m1 0h5m9 0h2m-21 1h1m2 0h1m2 0h1m7 0h4m-21 1h1m1 0h5m2 0h1m3 0h1m4 0h2m5 0h1m-27 1h2m1 0h2m3 0h1m1 0h3m1 0h1m4 0h1m1 0h1m2 0h2m2 0h1m4 0h1m-33 1h5m2 0h1m3 0h1m1 0h2m2 0h4m3 0h1m2 0h1m-33 1h2m2 0h1m1 0h1m1 0h3m3 0h1m4 0h2m2 0h1m2 0h3m1 0h3m-36 1h2m1 0h1m6 0h2m1 0h2m3 0h1m2 0h1m8 0h2m2 0h2m-37 1h1m1 0h2m1 0h2m3 0h5m2 0h2m2 0h1m2 0h5m5 0h2m-35 1h2m1 0h2m1 0h3m1 0h1m1 0h3m1 0h1m2 0h1m4 0h2m1 0h1m10 0h1m-42 1h1m7 0h3m1 0h2m12 0h1m3 0h1m4 0h1m-35 1h1m4 0h1m1 0h1m1 0h1m2 0h1m12 0h1m3 0h2m2 0h3m-36 1h1m1 0h1m14 0h1m10 0h1m2 0h2m2 0h1m-40 1h1m5 0h1m14 0h2m4 0h1m2 0h3m2 0h1m3 0h1m-40 1h2m6 0h1m3 0h1m10 0h1m2 0h2m7 0h3m-40 1h4m4 0h1m1 0h4m12 0h2m2 0h1m7 0h2m-40 1h2m4 0h3m20 0h1m6 0h1m-37 1h1m4 0h3m22 0h1m4 0h2m-41 1h1m3 0h1m4 0h2m22 0h2m4 0h1m-34 1h4m24 0h2m3 0h2m-38 1h1m6 0h1m25 0h1m1 0h1m-34 1h2m1 0h3m26 0h1m-33 1h1m2 0h1m29 0h2m3 0h1m-41 1h3m1 0h4m26 0h1m1 0h2m1 0h2m-39 1h2m29 0h1m-35 1h1m33 0h1m-32 1h1m29 0h2m-40 1h2m1 0h2m3 0h1m29 0h1m1 0h3m-43 1h1m1 0h2m3 0h2m2 0h1m26 0h1m2 0h1m-40 1h1m4 0h2m28 0h2m2 0h1m-40 1h1m1 0h3m30 0h2m-37 1h1m3 0h1m30 0h1m-36 1h1m35 0h1m1 0h1m5 0h1m-52 1h2m5 0h2m34 0h2m-45 1h2m5 0h2m1 0h1m31 0h4m-45 1h4m2 0h1m1 0h2m1 0h1m28 0h2m-41 1h5m1 0h2m32 0h1m-41 1h1m1 0h1m1 0h2m33 0h1m1 0h1m-38 1h1m35 0h2m-45 1h1m5 0h2m31 0h1m2 0h1m1 0h1m-43 1h1m1 0h1m1 0h1m2 0h1m31 0h1m-40 1h6m1 0h1m30 0h2m-42 1h2m2 0h2m3 0h1m26 0h2m3 0h1m-42 1h1m4 0h1m2 0h2m25 0h1m1 0h1m2 0h1m-40 1h1m5 0h1m27 0h6m3 0h1m-39 1h1m28 0h1m1 0h1m-39 1h3m3 0h1m30 0h2m-39 1h2m4 0h1m1 0h1m28 0h1m3 0h2m-48 1h1m2 0h2m4 0h2m27 0h1m4 0h2m1 0h2m-48 1h2m2 0h2m3 0h2m30 0h6m-42 1h5m4 0h1m23 0h5m-38 1h1m3 0h1m28 0h1m2 0h2m-38 1h1m3 0h1m1 0h1m23 0h1m2 0h2m2 0h1m-38 1h1m2 0h1m1 0h2m23 0h1m3 0h1m-33 1h2m1 0h1m30 0h1m-38 1h1m1 0h2m2 0h1m25 0h2m2 0h2m-38 1h3m2 0h1m25 0h3m3 0h1m-37 1h2m2 0h1m24 0h1m2 0h1m-36 1h1m6 0h1m25 0h2m-33 1h2m28 0h1m1 0h2m-35 1h2m1 0h1m7 0h1m16 0h1m1 0h1m3 0h1m-35 1h7m4 0h1m15 0h1m1 0h2m2 0h3m-36 1h2m2 0h1m1 0h1m4 0h1m14 0h1m2 0h1m3 0h1m-31 1h3m23 0h2m-28 1h4m22 0h1m1 0h2m-30 1h1m1 0h1m23 0h3m-30 1h5m2 0h1m16 0h1m1 0h1m1 0h2m-31 1h1m2 0h2m2 0h2m15 0h3m1 0h2m-30 1h3m4 0h1m18 0h3m-27 1h2m2 0h3m-10 1h1m1 0h1m2 0h2m1 0h1m9 0h1m1 0h3m3 0h1m-25 1h1m2 0h1m1 0h2m8 0h1m1 0h2m1 0h1m-20 1h1m4 0h1m1 0h5m3 0h1m4 0h3m-23 1h2m2 0h4m1 0h1m1 0h1m2 0h1m-38 1h2m12 0h2m8 0h3m2 0h1m4 0h1m1 0h1m1 0h1m-39 1h1m13 0h1m14 0h6m1 0h3m-39 1h1m29 0h1m5 0h1m2 0h1m-44 1h4m29 0h2m5 0h1m-38 1h1m20 0h1m6 0h1m1 0h1m1 0h2m-6 1h4m-4 1h2m6 0h2m1 0h1m-43 2h4m1 0h2m30 0h1m-38 1h2m27 0h1m7 0h1m-40 1h1m1 0h3m27 0h1m-35 1h5m-10 1h1m1 0h6m1 0h1m-11 1h4m2 0h1m1 0h4m-13 1h4m1 0h1m2 0h2m-11 1h1m3 0h2m1 0h1m-9 1h1m7 0h3m-15 1h2m11 0h2m-5 1h2m-14 1h1m10 0h1m1 0h1m-15 1h1m12 0h1m-3 4h1" stroke="#2060cc"/>
<path d="M0 0m92 104h1m-4 3h1m5 1h2m-2 1h2m-8 1h2m-3 1h1m-7 3h1m1 0h1m9 0h1m-13 1h4m7 0h2m-16 1h1m1 0h1m1 0h1m2 0h1m2 0h1m-13 1h3m1 0h3m2 0h2m-12 1h2m10 0h3m-15 1h1m7 0h1m4 0h3m-17 1h1m2 0h1m16 0h1m-22 1h2m3 0h1m15 0h1m-20 1h1m11 0h1m-1 1h2m-19 1h1m16 0h1m4 0h1m-24 1h1m17 0h2m2 0h2m-26 1h1m1 0h1m17 0h2m-25 1h1m2 0h3m18 0h1m-25 1h5m18 0h1m-23 1h1m2 0h2m18 0h1m-25 1h2m25 0h1m-26 1h1m21 0h1m2 0h1m-24 1h1m19 0h1m2 1h1m-31 3h2m1 0h1m23 0h1m-26 1h2m23 0h1m-29 1h1m2 1h1m-2 1h1m21 2h3m-3 1h1m1 0h1m-4 1h1m-1 1h1m-25 1h3m-6 1h1m26 0h1m3 0h1m-32 1h1m25 0h1m-1 1h1m0 1h1m-2 1h2m-26 1h1m19 0h1m-2 1h1m-27 1h1m5 0h1m-1 1h2m16 0h3m-24 2h1m-2 1h2m22 0h1m-24 1h1m-1 1h5m18 0h1m-25 1h2m1 0h1m2 0h1m-2 1h1m14 0h1m-3 1h1m-18 1h2m-3 1h6m6 0h2m4 0h2m-18 1h1m15 0h2m-17 1h1m13 0h2m-19 1h2m12 0h1m-12 1h1m3 0h1m4 0h3m-7 1h1m5 0h2m-13 1h1m4 0h1m5 0h1m-9 1h2m2 0h1m-5 1h1m-48 18h1m-5 2h3m2 1h1m-10 1h1m8 0h1m-12 2h1m-1 4h1" stroke="#20a0a8"/>
<path d="M0 0m80 117h1m4 2h1m-8 2h1m-1 1h2m-4 1h2m1 0h1m2 1h2m-13 1h1m11 0h1m-13 2h1m-1 1h1m14 0h2m-17 1h1m15 0h2m-1 1h1m-1 1h1m-1 1h1m-20 1h1m18 0h1m-19 1h2m-2 1h1m-3 1h2m-2 1h1m-4 1h1m2 0h2m-5 1h1m2 0h1m-7 2h2m-2 1h2m20 1h1m-21 3h1m-4 1h2m15 5h1m-3 2h1m-19 4h2m12 0h1m-14 1h1m12 0h1m-13 1h2m7 0h1m-1 1h1m2 1h2m-7 2h1m-3 2h1m4 0h2m-8 1h2m-5 1h1m4 0h1m-7 1h1m-4 1h3m-1 1h1m-57 27h1m9 1h1m-11 1h1" stroke="#30c070"/>
<path d="M0 0m78 126h2m-2 1h1m-3 1h2m-2 1h1m5 3h2m-2 1h1m-11 1h2m6 0h2m-10 1h1m7 0h1m1 3h2m-1 1h1m-21 4h1m13 2h1m-13 1h1m-3 1h1m1 0h1m8 1h1m-1 1h2m-12 3h1m-1 1h2m-2 2h2m-2 1h2m4 0h2m-2 1h1m2 1h1m-7 2h1m-2 1h3m-66 38h1m8 0h1m-2 1h1m-2 1h1" stroke="#7ccc30"/>
<path d="M0 0m76 144h2m-11 4h1m-2 1h2m-3 5h1m-1 3h1m-54 41h1" stroke="#d8d020"/>
<path d="M0 0m10 200h1" stroke="#f09020"/>
</g>
</g>
<path d="M151.6 390.8H254.4V492.5" fill="none" stroke="#000" stroke-width="1.3"/>
<path d="M151.6 390.15V492.5H255.05" fill="none" stroke="#000" stroke-width="2"/>
<line x1="152" y1="492.5" x2="152" y2="495.5" stroke="#333" stroke-width="1"/>
<line x1="171" y1="492.5" x2="171" y2="495.5" stroke="#333" stroke-width="1"/>
<line x1="191" y1="492.5" x2="191" y2="495.5" stroke="#333" stroke-width="1"/>
<line x1="210" y1="492.5" x2="210" y2="495.5" stroke="#333" stroke-width="1"/>
<line x1="230" y1="492.5" x2="230" y2="495.5" stroke="#333" stroke-width="1"/>
<line x1="249" y1="492.5" x2="249" y2="495.5" stroke="#333" stroke-width="1"/>
<line x1="148.6" y1="394" x2="151.6" y2="394" stroke="#333" stroke-width="1"/>
<line x1="148.6" y1="414" x2="151.6" y2="414" stroke="#333" stroke-width="1"/>
<line x1="148.6" y1="434" x2="151.6" y2="434" stroke="#333" stroke-width="1"/>
<line x1="148.6" y1="454" x2="151.6" y2="454" stroke="#333" stroke-width="1"/>
<line x1="148.6" y1="473" x2="151.6" y2="473" stroke="#333" stroke-width="1"/>
<rect x="166.8" y="391.6" width="85.3" height="91.6" fill="none" stroke="#c83cc8" stroke-width="2"/>
<line x1="165.8" y1="391.2" x2="254.4" y2="391.2" stroke="#6a1478" stroke-width="1.5"/>
<line x1="253.5" y1="391" x2="253.5" y2="484" stroke="#6a1478" stroke-width="1.6"/>
<text x="144" y="445.8" font-size="16" textLength="48" lengthAdjust="spacingAndGlyphs" transform="rotate(-90 144 445.8)">SSC-A</text>
<path d="M138.2 468.8V504.8H172.6" fill="none" stroke="#000" stroke-width="2.2"/>
<polygon points="132.2,469.8 138.2,457.8 144.2,469.8" fill="#000"/>
<polygon points="171.6,498.8 183.6,504.8 171.6,510.8" fill="#000"/>
<text x="191.2" y="510.6" font-size="16" textLength="48.2" lengthAdjust="spacingAndGlyphs">FSC-A</text>
<text x="290.8" y="382.3" font-size="16.3" textLength="67.2" lengthAdjust="spacingAndGlyphs">Live cells</text>
<polygon points="286,492.5 292,491 298,488.5 301.5,485 304,479 306.5,471 308.6,463 310.5,453 312.4,443 314.5,437 316.3,431 317.3,420 318.3,408 320,406.5 321.6,405 322.3,413 323.2,425 324.3,445 325.5,462 326.7,475 327.8,484 329,489.5 330.5,492.5" fill="#000"/>
<path d="M277.7 390.8H379.4V492.5" fill="none" stroke="#000" stroke-width="1.3"/>
<path d="M277.7 390.15V492.5H380.05" fill="none" stroke="#000" stroke-width="2"/>
<line x1="278" y1="492.5" x2="278" y2="495.5" stroke="#333" stroke-width="1"/>
<line x1="295" y1="492.5" x2="295" y2="495.5" stroke="#333" stroke-width="1"/>
<line x1="312" y1="492.5" x2="312" y2="495.5" stroke="#333" stroke-width="1"/>
<line x1="329" y1="492.5" x2="329" y2="495.5" stroke="#333" stroke-width="1"/>
<line x1="346" y1="492.5" x2="346" y2="495.5" stroke="#333" stroke-width="1"/>
<line x1="363" y1="492.5" x2="363" y2="495.5" stroke="#333" stroke-width="1"/>
<line x1="379" y1="492.5" x2="379" y2="495.5" stroke="#333" stroke-width="1"/>
<line x1="274.7" y1="407" x2="277.7" y2="407" stroke="#333" stroke-width="1"/>
<line x1="274.7" y1="428" x2="277.7" y2="428" stroke="#333" stroke-width="1"/>
<line x1="274.7" y1="450" x2="277.7" y2="450" stroke="#333" stroke-width="1"/>
<line x1="274.7" y1="471" x2="277.7" y2="471" stroke="#333" stroke-width="1"/>
<line x1="280.2" y1="456.3" x2="333" y2="456.3" stroke="#c83cc8" stroke-width="1.5"/>
<line x1="280.2" y1="453.2" x2="280.2" y2="459.4" stroke="#c83cc8" stroke-width="1.5"/>
<line x1="333" y1="453.2" x2="333" y2="459.4" stroke="#c83cc8" stroke-width="1.5"/>
<line x1="280.8" y1="504.7" x2="315" y2="504.7" stroke="#000" stroke-width="2.2"/>
<polygon points="313.2,498.6 325.4,504.7 313.2,510.8" fill="#000"/>
<text x="329" y="510.8" font-size="16" textLength="13.5" lengthAdjust="spacingAndGlyphs">PI</text>
<g transform="translate(151 532)" fill="none" stroke-width="1">
<g shape-rendering="crispEdges" transform="translate(0 .5)">
<path d="M0 0m32 20h1m0 48h1" stroke="#4a4eb0"/>
<path d="M0 0m33 45h1m-10 13h1m-9 27h1m-8 2h1" stroke="#2a3cb4"/>
<path d="M0 0m32 49h2m2 1h1m-6 1h1m4 0h1m-7 1h2m5 0h1m-12 5h1m6 8h1m-3 3h1m-7 8h1m-10 1h2m-2 3h1m-2 1h1m-2 1h1m3 0h1m-6 1h1m-4 3h1m3 0h1m-3 2h1" stroke="#2060cc"/>
<path d="M0 0m33 51h1m1 0h1m-3 1h3m-2 1h1m1 0h1m-8 1h3m2 0h2m-7 1h2m5 0h1m-2 1h1m-8 1h1m6 0h1m-10 1h2m7 0h2m-12 1h1m9 0h1m-12 1h2m8 0h1m-1 1h1m-11 1h1m8 0h1m-1 1h1m-11 1h1m8 0h2m-13 1h2m-2 1h1m-1 1h1m9 0h1m-12 1h2m8 0h1m-11 1h1m8 0h2m-12 1h1m8 0h2m-11 1h2m-2 1h2m7 0h1m-11 1h3m-3 1h2m5 0h1m-7 1h1m4 0h1m-8 1h2m2 0h4m-6 1h5m-4 1h1m-3 1h2m-3 1h1m1 0h1m-3 1h2m-3 1h2m-4 1h3m-3 1h1m-2 1h1m-1 1h1" stroke="#20a0a8"/>
<path d="M0 0m32 54h2m-3 1h4m-6 1h1m1 0h4m-5 1h5m-7 1h1m4 0h2m-8 1h1m5 0h2m-8 1h1m5 0h1m-8 1h1m5 0h2m-9 1h1m6 0h1m-9 1h2m6 0h1m-9 1h1m6 0h1m-9 1h1m-2 1h2m6 0h1m-9 1h1m6 0h1m-8 1h1m6 0h1m-9 1h2m-2 1h1m5 0h1m-7 1h1m4 0h2m-7 1h2m1 0h3m-6 1h5m-5 1h3m-3 1h2" stroke="#30c070"/>
<path d="M0 0m29 58h4m-5 1h5m-5 1h1m2 0h2m-6 1h1m3 0h1m-6 1h1m4 0h1m-1 1h1m-7 1h1m4 0h1m-7 1h1m5 0h1m-7 1h1m4 0h1m-7 1h1m4 0h1m-6 1h1m4 0h1m-6 1h1m3 0h1m-6 1h5m-5 1h4m-3 1h1" stroke="#7ccc30"/>
<path d="M0 0m29 60h2m-3 1h1m1 0h1m-4 1h1m-2 1h1m3 0h1m-6 2h1m3 0h1m-2 1h1m-5 1h1m-1 1h1m2 0h1m-4 1h1m1 0h1" stroke="#d8d020"/>
<path d="M0 0m29 61h1m-2 1h3m-4 1h1m1 0h1m-4 1h1m2 0h1m-4 1h1m1 0h1m-4 1h1m1 0h1m-3 1h1m1 0h1m-3 1h2m-2 1h1" stroke="#f09020"/>
<path d="M0 0m28 63h1m-2 1h2m-2 1h1m-2 1h1m-1 1h1" stroke="#e04020"/>
</g>
<g transform="scale(0.5) translate(0 .5)">
<path d="M0 0m77 1h1m-3 3h1m2 0h1m-11 1h1m-5 1h1m2 1h1m-6 1h2m1 0h1m5 0h1m3 0h1m-23 1h1m12 0h1m2 0h2m-6 1h1m9 0h1m-13 2h1m4 0h1m4 0h1m5 0h1m-6 1h1m1 0h1m-6 1h1m-12 1h1m7 0h1m4 0h2m-14 1h1m12 0h1m4 0h1m-14 1h2m4 0h1m-2 1h1m3 0h1m3 0h1m-16 1h1m4 0h1m5 0h1m-9 1h1m3 0h1m1 0h1m4 0h1m1 0h1m3 0h1m-22 1h1m12 0h1m3 0h1m-8 1h1m7 0h1m-21 1h1m10 0h1m4 0h1m-18 1h1m11 0h1m1 0h1m2 0h1m1 0h1m-17 1h2m11 0h1m-3 1h1m2 0h1m-21 1h1m13 0h1m2 1h1m-13 1h1m9 0h1m1 0h1m-19 1h1m14 0h1m1 0h1m4 1h1m2 0h1m-18 1h2m3 0h1m2 0h2m3 1h2m-18 2h3m5 0h1m3 0h1m-15 1h1m13 0h1m10 0h1m2 0h1m-31 1h1m1 0h1m16 0h2m1 0h1m-16 1h1m7 0h1m2 0h1m2 1h1m2 0h1m9 0h1m-31 1h1m11 0h1m1 0h1m3 0h1m3 0h1m-23 1h1m11 0h1m1 0h1m5 0h1m2 0h1m-24 1h1m-1 2h1m10 0h1m-13 1h1m1 0h1m13 0h1m-17 1h1m1 0h1m17 0h1m-29 1h1m5 0h2m6 0h1m-8 1h1m13 0h1m10 0h1m-25 1h1m13 0h1m-20 1h1m18 0h1m-1 1h1m6 1h1m-24 1h1m3 0h1m10 0h1m1 0h1m2 0h1m-24 2h1m4 0h1m-1 1h1m-10 1h1m7 0h1m-7 1h1m5 0h1m13 0h1m-19 1h1m16 0h1m-20 1h1m24 0h1m9 0h1m-28 1h1m25 0h1m-25 1h1m19 0h1m-23 1h1m28 0h1m-36 1h1m3 0h1m2 0h2m24 0h1m-30 1h1m13 0h1m5 1h1m-21 1h2m19 0h1m-4 1h1m-3 1h1m-21 1h1m2 0h1m15 0h1m1 0h1m-21 1h1m1 0h1m19 0h1m4 0h1m-9 1h1m5 0h1m-31 1h1m4 0h1m31 0h1m-16 2h2m1 0h1m19 0h1m-7 1h1m-34 1h1m32 0h1m-14 1h1m3 0h1m-24 1h1m1 0h1m19 0h1m7 0h1m-10 1h1m3 0h1m2 0h1m-30 1h1m1 0h1m1 0h2m-4 1h1m20 0h1m6 0h1m-30 1h1m23 0h1m-24 1h1m-4 1h1m3 0h1m1 0h1m17 0h1m1 0h1m1 0h1m4 0h2m-38 1h1m3 0h1m-3 1h1m4 0h1m-9 1h1m4 0h2m-4 1h1m27 0h1m11 0h1m-12 1h2m-40 1h1m3 0h1m2 0h1m1 2h1m1 1h2m25 0h1m1 0h1m-2 1h1m-30 1h1m31 1h1m-35 1h2m-6 2h1m2 1h1m32 0h1m-34 2h1m29 0h1m-33 1h1m29 0h1m-33 1h1m2 1h1m31 1h1m1 0h1m-41 1h1m2 0h3m30 0h1m1 0h1m-4 2h1m0 1h1m-39 1h1m2 0h1m1 0h1m36 0h1m-39 1h1m-5 1h1m35 0h1m1 0h1m-43 2h1m2 0h1m37 0h1m-4 2h1m3 1h1m-40 1h1m33 0h1m-39 1h1m36 0h1m-36 1h1m-3 2h1m37 0h2m-40 2h1m33 1h1m-1 1h1m-36 1h1m-13 1h1m45 1h1m2 0h1m-4 1h1m-39 1h1m34 1h1m-35 1h1m35 0h1m-40 2h1m36 0h1m-39 1h1m-2 2h1m36 0h1m-37 1h2m32 2h1m4 0h1m-6 1h1m4 1h1m-48 1h1m42 0h1m-4 2h1m-38 2h1m40 0h1m-41 1h1m31 0h1m-4 1h1m-31 1h1m32 0h1m3 1h1m-38 2h1m29 0h2m-1 1h1m-4 1h1m5 0h2m-43 1h1m29 1h1m1 0h1m-28 2h1m23 0h1m1 0h1m-32 1h1m26 0h1m-26 2h1m24 0h1m-3 1h2m-27 1h1m22 0h1m-6 3h2m8 2h1m-31 1h1m24 0h1m-32 1h1m20 1h1m9 0h1m-9 1h1m-21 1h1m14 0h1m9 0h1m-12 1h1m0 1h1m-5 2h1m-18 1h1m13 0h1m-9 1h1m-8 1h1m3 0h2m11 0h1m-5 2h1m-3 1h1m1 0h1m-2 10h1" stroke="#7c7ac2"/>
<path d="M0 0m72 18h1m0 1h1m-5 1h2m-3 1h1m-6 1h2m1 0h1m2 0h1m-8 1h2m2 0h1m1 0h2m-7 1h1m5 0h1m-4 1h2m-2 1h1m2 0h1m-5 1h3m1 0h2m-3 1h1m0 2h1m2 4h1m-6 3h1m-2 1h1m1 0h2m-3 1h1m3 0h1m-6 1h1m2 0h2m-9 1h1m4 0h1m1 0h1m1 0h1m-8 1h1m1 0h2m3 0h1m-4 1h1m-1 1h1m2 0h1m-2 1h1m-2 1h1m0 1h1m-4 1h1m-7 1h2m5 0h1m1 0h1m-9 1h1m5 0h1m1 0h1m-9 1h1m2 0h1m4 0h1m1 0h1m-7 1h1m1 0h2m2 0h1m-9 1h1m1 0h1m3 0h1m-6 1h1m3 0h3m-9 1h1m1 0h1m2 0h1m3 0h1m-6 1h1m2 0h1m1 0h1m-10 1h3m2 0h4m-11 1h1m2 0h1m3 0h1m-9 1h2m6 0h1m1 0h1m-10 1h1m1 0h3m0 1h1m-2 1h1m3 0h1m-4 1h1m2 0h2m-2 1h1m2 0h1m-3 1h2m-7 1h1m5 0h1m-7 1h2m-6 1h1m2 0h1m4 0h1m-10 1h3m3 0h1m1 0h1m-9 1h1m1 0h1m1 0h1m6 0h1m-13 1h1m3 0h1m2 0h1m1 0h3m-11 1h1m1 0h2m2 0h1m1 0h1m2 0h1m-12 1h2m1 0h2m1 0h1m1 0h1m2 0h1m-5 1h1m1 0h1m-9 1h1m2 0h1m2 0h1m3 0h1m-11 1h1m8 0h1m-8 1h3m1 0h3m1 0h2m-10 1h1m1 0h1m1 0h1m2 0h1m4 0h1m-11 1h1m1 0h3m1 0h1m-7 1h2m2 0h1m4 0h3m-11 1h2m7 0h2m-11 1h2m5 0h1m2 0h2m-15 1h2m4 0h1m3 0h3m-12 1h1m6 0h1m-5 1h5m3 0h3m-18 1h1m5 0h1m6 0h2m1 0h1m3 0h1m-17 1h2m7 0h1m1 0h1m1 0h4m-13 1h3m4 0h1m1 0h1m2 0h1m-18 1h1m11 0h1m3 0h1m-15 1h1m10 0h1m2 0h1m1 0h1m-21 1h2m14 0h1m4 0h1m-23 1h1m2 0h1m17 0h1m-20 1h1m-1 1h1m18 0h1m-24 1h1m2 0h1m18 0h3m-24 1h1m1 0h1m20 0h1m-25 1h1m23 0h2m-25 1h1m20 0h1m2 0h1m-25 1h3m18 0h1m1 0h1m-26 1h1m1 0h1m19 0h1m-23 1h2m20 1h1m-24 1h1m23 0h1m-25 1h1m-3 1h3m-3 1h2m24 0h1m-28 1h1m26 0h1m-28 1h1m24 0h1m1 0h1m-1 1h1m-2 1h1m-3 3h1m-28 1h1m26 0h2m-3 1h1m1 1h1m-4 1h1m2 0h1m-33 1h1m-2 1h2m27 1h1m-32 1h1m30 0h1m-32 1h1m29 0h1m-31 1h1m30 0h3m-3 1h1m-33 1h1m-3 1h1m0 1h1m29 0h1m-32 2h1m-3 2h1m30 0h1m-2 2h2m-34 1h1m-1 2h1m31 1h1m-4 1h1m-1 1h2m-34 1h2m28 0h1m1 0h1m-32 1h2m26 0h1m-1 2h1m-32 1h3m-5 1h2m-2 1h3m25 3h1m-29 1h2m24 1h1m-27 2h1m23 0h2m-26 1h1m-2 1h1m24 0h2m-3 1h2m-25 1h1m18 0h1m1 0h1m-25 1h1m0 1h1m18 0h1m-21 3h1m-2 1h2m17 0h1m-3 1h2m0 1h1m-4 1h1m-20 1h1m16 1h2m-6 1h1m-18 3h1m14 2h1m-4 1h1m-16 4h2m8 0h1m-11 2h2m1 0h1m1 0h2" stroke="#4a4eb0"/>
<path d="M0 0m67 73h1m-7 1h1m4 4h1m7 10h1m-8 1h1m2 0h4m-6 1h1m2 0h2m1 0h1m-10 1h1m2 0h1m2 0h1m3 0h1m-11 1h1m9 0h1m1 0h1m-13 1h1m6 0h1m2 0h3m-15 1h2m1 0h1m1 0h1m4 0h2m1 0h2m-16 1h1m3 0h1m2 0h1m8 0h2m-17 1h2m2 0h2m5 0h1m1 0h3m-16 1h1m12 0h1m1 0h1m-2 1h2m-16 1h1m11 0h2m-16 1h1m1 0h1m12 0h1m1 0h1m-19 1h1m15 0h2m-18 1h2m-3 1h1m17 0h2m-21 1h1m19 0h1m-20 1h1m17 0h1m-20 1h1m-2 1h1m19 0h1m-24 1h3m-4 1h1m23 0h1m-25 1h1m22 0h2m-25 1h1m-3 1h2m-3 3h1m-1 1h1m23 1h1m-27 1h1m25 1h1m-3 2h1m-28 2h1m26 0h1m-29 1h1m26 0h2m-3 2h2m-30 1h1m-2 1h1m27 1h1m-1 1h1m-30 1h1m27 0h1m-29 1h1m26 0h1m-30 1h1m28 0h1m-3 1h1m0 1h1m-30 1h1m27 0h1m-29 1h1m26 0h1m-2 2h1m-28 3h1m24 0h1m-26 1h1m-2 1h1m24 0h1m-30 1h1m1 0h2m25 0h1m-28 1h1m-1 1h1m24 0h1m-26 1h1m22 0h1m-24 1h1m20 0h2m-25 1h1m23 0h1m-25 1h1m1 0h1m19 0h1m-23 1h2m19 0h1m-22 1h1m-2 1h1m20 0h2m-22 1h1m18 0h1m-19 1h1m15 0h3m-20 1h1m13 1h1m-16 1h1m13 0h1m-16 1h2m13 0h2m-18 1h2m12 0h2m-3 1h1m-2 2h2m-17 1h2m13 0h1m-17 1h2m12 0h2m-19 3h1m-2 1h2m-2 1h1m13 0h1m-3 1h2m-3 1h2m-15 3h1m8 0h1m-11 1h2m7 0h1m-9 1h2m1 0h1m1 0h1m1 0h2m-10 1h2m1 0h4m-6 1h1" stroke="#2a3cb4"/>
<path d="M0 0m69 91h2m-1 1h1m-1 1h2m-1 1h2m-3 1h3m0 1h1m-10 1h2m1 0h8m-7 1h1m1 0h1m1 0h3m-7 1h1m1 0h1m1 0h1m-8 1h2m2 0h1m1 0h1m2 0h1m-12 1h4m1 0h1m2 0h1m2 0h1m-1 1h2m-12 1h2m9 0h2m-1 1h1m-1 1h1m-18 1h2m14 0h2m-19 1h1m17 0h1m-20 1h1m-1 1h1m17 0h2m-22 1h1m1 0h1m17 0h1m-22 1h3m18 0h1m-2 1h1m-20 1h1m-2 1h1m18 0h2m-1 1h1m-24 1h1m20 2h1m-24 1h1m22 0h2m-2 1h1m-26 1h1m23 2h1m-27 2h2m23 0h1m-2 1h1m-25 1h1m22 0h1m-26 1h1m24 0h1m-27 1h2m22 3h1m-27 1h1m24 0h1m-28 1h2m1 0h1m22 0h1m-26 1h1m24 0h1m-27 1h1m-1 1h1m-2 1h2m23 0h2m-27 1h2m-2 1h1m22 0h2m-25 1h1m22 0h1m-24 1h1m22 0h1m-2 1h1m-2 1h1m-23 1h1m21 0h2m-3 1h2m-24 1h1m18 0h1m-20 1h1m17 0h1m-20 1h2m-1 1h1m16 0h2m-19 1h1m15 0h1m-19 2h1m2 1h1m12 0h2m-3 1h2m-15 1h1m8 0h1m1 0h1m-14 1h2m1 0h1m7 0h1m-12 1h3m5 0h2m-11 1h2m7 0h2m-3 1h1m2 0h1m-4 1h1m-12 1h1m8 0h1m1 0h1m-12 1h1m8 0h2m-2 1h1m-12 1h1m10 0h2m-6 1h4m-13 1h1m9 0h1m-12 1h2m7 0h2m-12 1h2m6 0h1m-10 1h2m6 0h1m-8 1h1m6 0h1m-9 1h1m1 0h1m6 0h1m-10 1h3m5 0h1m-11 1h1m7 0h1m-9 1h1m1 0h1m2 0h3m-9 1h3m1 0h1m2 0h1m-7 1h1" stroke="#2060cc"/>
<path d="M0 0m70 101h1m-3 1h2m-1 1h1m2 1h1m-9 1h2m6 0h2m-13 1h2m2 0h1m1 0h1m3 0h1m2 0h1m-14 1h2m2 0h3m2 0h2m2 0h1m-3 1h1m1 0h1m-3 1h3m-5 1h1m-14 1h1m12 0h2m-16 1h1m15 0h2m-18 1h2m14 0h1m-18 1h1m-2 1h1m17 0h2m-22 3h2m-2 1h1m17 1h1m-1 1h1m-22 1h2m19 0h1m-23 1h3m-4 1h1m20 0h2m-23 1h1m20 0h1m-22 1h1m20 0h1m-23 1h2m-3 1h1m-2 1h2m18 1h1m-2 1h2m-2 1h2m-3 1h1m-2 1h1m-22 1h2m-3 1h1m-1 2h1m0 2h1m-1 1h1m16 1h2m-3 1h3m-5 1h2m-19 1h1m16 0h1m-1 1h1m-3 1h1m-13 1h1m11 0h1m-13 1h1m11 0h1m-17 1h2m13 0h1m-16 1h1m3 0h2m4 0h1m3 0h1m-13 1h4m-3 1h1m1 0h1m-5 2h1m-1 1h3m2 0h2m-7 1h2m3 0h1m-7 3h1m-1 1h1m-4 1h1m-2 1h2m-4 1h1m-1 1h2m-5 3h1m3 0h1m-6 1h2m2 0h1m-7 1h2m3 0h1m-6 1h1m3 0h2m-5 2h1m-5 1h2m2 0h2m-4 1h2" stroke="#20a0a8"/>
<path d="M0 0m60 112h1m-1 1h2m-3 1h1m-2 1h2m-7 5h1m-2 1h2m-3 2h1m11 7h1m-2 1h1m-1 1h1m-3 2h1m-1 1h1m-5 3h2m-2 1h1m-16 2h1m10 5h1m-12 2h1m6 0h2m-2 1h1m-8 1h1m4 0h2" stroke="#30c070"/>
</g>
</g>
<path d="M151.6 532.4H254.4V634.1" fill="none" stroke="#000" stroke-width="1.3"/>
<path d="M151.6 531.75V634.1H255.05" fill="none" stroke="#000" stroke-width="2"/>
<line x1="152" y1="634.1" x2="152" y2="637.1" stroke="#333" stroke-width="1"/>
<line x1="171" y1="634.1" x2="171" y2="637.1" stroke="#333" stroke-width="1"/>
<line x1="191" y1="634.1" x2="191" y2="637.1" stroke="#333" stroke-width="1"/>
<line x1="210" y1="634.1" x2="210" y2="637.1" stroke="#333" stroke-width="1"/>
<line x1="230" y1="634.1" x2="230" y2="637.1" stroke="#333" stroke-width="1"/>
<line x1="249" y1="634.1" x2="249" y2="637.1" stroke="#333" stroke-width="1"/>
<line x1="148.6" y1="536" x2="151.6" y2="536" stroke="#333" stroke-width="1"/>
<line x1="148.6" y1="556" x2="151.6" y2="556" stroke="#333" stroke-width="1"/>
<line x1="148.6" y1="576" x2="151.6" y2="576" stroke="#333" stroke-width="1"/>
<line x1="148.6" y1="595" x2="151.6" y2="595" stroke="#333" stroke-width="1"/>
<line x1="148.6" y1="615" x2="151.6" y2="615" stroke="#333" stroke-width="1"/>
<ellipse cx="178.5" cy="595.3" rx="19.6" ry="6.3" fill="none" stroke="#c83cc8" stroke-width="1.7" transform="rotate(-57.6 178.5 595.3)"/>
<text x="144" y="589" font-size="16" textLength="47.5" lengthAdjust="spacingAndGlyphs" transform="rotate(-90 144 589)">FSC-A</text>
<path d="M138.2 612.6V648.6H172.5" fill="none" stroke="#000" stroke-width="2.2"/>
<polygon points="132.2,613.6 138.2,601.6 144.2,613.6" fill="#000"/>
<polygon points="171.5,642.6 183.5,648.6 171.5,654.6" fill="#000"/>
<text x="198.2" y="653.2" font-size="16" textLength="48.6" lengthAdjust="spacingAndGlyphs">FSC-H</text>
<g transform="translate(277 532)" fill="none" stroke-width="1">
<g shape-rendering="crispEdges" transform="translate(0 .5)">
<path d="M0 0m77 26h1m-34 23h1m-29 1h1m26 3h1m-21 10h1" stroke="#4a4eb0"/>
<path d="M0 0m38 20h1m3 0h1m6 0h1m13 0h1m0 1h1m-23 1h1m-7 1h1m-1 1h1m3 0h1m4 0h1m1 0h1m13 0h1m-31 1h1m10 0h1m-16 1h1m10 0h1m5 0h1m-5 1h1m5 0h2m-2 1h1m6 0h1m-22 1h1m7 0h1m4 0h1m3 0h1m1 0h1m4 0h1m-30 1h2m25 0h1m-28 1h1m4 0h1m17 0h1m-30 1h1m22 0h1m11 0h1m2 0h1m-38 2h1m2 0h2m32 2h1m-42 1h1m1 0h2m25 0h1m1 0h1m2 0h1m0 1h1m-36 1h1m1 1h1m23 0h1m-2 1h1m2 0h1m-7 1h1m6 0h1m-31 1h1m21 2h1m-19 1h1m11 1h1m-2 1h1m-5 2h1m2 0h1m7 0h1m-14 2h1m1 0h1m3 0h1m-6 5h1m-6 3h1" stroke="#2a3cb4"/>
<path d="M0 0m39 24h1m-1 2h1m-3 1h1m3 0h2m-2 1h1m1 0h1m-8 1h1m2 0h1m1 0h1m-12 1h1m3 0h5m4 0h1m1 0h1m-18 1h2m4 0h1m1 0h1m2 0h1m4 0h2m5 0h1m-22 1h1m4 0h1m1 0h2m1 0h1m-14 1h2m4 0h3m1 0h1m1 0h2m1 0h1m3 0h1m1 0h1m-22 1h5m1 0h1m1 0h1m2 0h3m2 0h4m1 0h2m-23 1h3m5 0h1m4 0h3m1 0h1m1 0h1m-22 1h1m1 0h1m1 0h2m6 0h1m3 0h1m1 0h2m1 0h1m-24 1h4m10 0h6m3 0h1m-22 1h1m12 0h2m1 0h1m-19 1h2m1 0h1m10 0h1m1 0h3m1 0h1m-20 1h1m13 0h1m1 0h2m-18 1h1m11 0h2m1 0h1m2 0h1m-19 1h1m9 0h3m-16 1h1m1 0h4m6 0h2m1 0h3m-15 1h6m3 0h1m2 0h5m-18 1h1m5 0h1m2 0h1m3 0h2m-15 1h1m3 0h3m6 0h2m-12 1h3m1 0h2" stroke="#2060cc"/>
<path d="M0 0m41 32h1m-1 1h1m-11 2h4m1 0h1m2 0h1m-9 1h1m1 0h1m1 0h2m1 0h2m-13 1h6m3 0h1m-11 1h3m2 0h1m2 0h1m1 0h1m-9 1h1m7 0h1m-12 1h4m5 0h1m1 0h1m-12 1h2m1 0h3m3 0h2m-11 1h4m1 0h2m1 0h1m-7 1h3m1 0h2m-3 1h2" stroke="#20a0a8"/>
<path d="M0 0m33 37h3m-7 1h1m2 0h2m-1 1h3m-6 1h2m-5 1h1m4 1h1m-3 1h1" stroke="#30c070"/>
<path d="M0 0m29 39h1m1 0h2m-4 1h1m2 0h2m-3 1h3" stroke="#7ccc30"/>
</g>
<g transform="scale(0.5) translate(0 .5)">
<path d="M0 0m111 12h1m-16 1h1m1 0h1m24 1h1m12 2h1m27 0h1m-38 1h1m7 0h1m2 0h1m35 0h1m-39 1h1m1 0h1m2 0h1m56 0h1m-48 1h1m5 0h1m4 0h1m4 0h2m20 0h1m-95 1h1m4 0h1m2 0h1m-28 1h1m52 0h1m7 0h1m26 0h1m7 0h1m-39 1h1m16 0h1m13 0h1m9 0h2m2 0h1m7 0h1m3 0h1m-92 1h1m2 0h1m21 0h1m37 0h1m13 0h1m-124 1h1m14 0h1m11 0h1m29 0h1m24 0h1m32 0h1m-98 1h2m62 0h1m11 0h1m10 0h1m23 0h1m8 0h1m-116 1h1m10 0h2m24 0h1m1 0h1m10 0h2m14 0h1m7 0h1m11 0h1m6 0h1m-66 1h1m12 0h1m3 0h1m27 0h1m4 0h1m4 0h1m35 0h1m-106 1h1m21 0h1m1 0h1m13 0h1m52 0h1m2 0h1m5 0h1m-157 1h1m10 0h1m17 0h1m5 0h1m39 0h1m43 0h1m2 0h1m1 0h1m3 0h1m7 0h1m8 0h1m3 0h1m10 0h1m-80 1h1m38 0h1m19 0h2m-135 1h1m13 0h1m3 0h1m10 0h1m15 0h1m40 0h1m19 0h1m42 0h1m-128 1h1m2 0h2m10 0h1m20 0h1m14 0h1m36 0h1m27 0h1m13 0h1m5 0h1m1 0h1m-155 1h1m9 0h1m124 0h1m2 0h1m-143 1h1m5 0h1m18 0h1m7 0h1m80 0h1m9 0h1m29 0h1m-139 1h2m4 0h1m110 0h1m8 0h1m-143 1h1m149 0h1m3 0h1m-148 1h1m146 0h1m-163 1h1m3 0h1m141 0h1m-147 1h1m142 0h1m11 0h1m7 0h1m-162 1h1m2 0h1m10 0h1m123 0h1m12 0h1m-155 1h1m13 0h1m148 0h1m3 0h1m-19 1h1m19 0h1m-169 1h1m14 0h1m-16 1h1m2 0h1m4 0h1m150 0h1m3 0h1m-26 1h1m10 0h1m16 0h1m-179 1h1m7 0h1m6 0h1m161 0h1m-165 1h1m141 0h1m-147 1h1m141 0h1m-4 1h1m14 0h1m-164 1h2m170 0h1m-171 1h1m9 0h1m2 1h1m163 0h1m-21 1h1m5 0h1m9 0h1m-24 1h1m2 0h1m10 0h1m10 0h1m-174 1h1m144 0h1m11 0h1m1 0h1m-164 1h1m6 0h1m143 0h1m14 0h2m3 0h1m5 0h1m-172 1h1m151 0h1m11 0h1m8 0h1m-37 1h1m23 0h2m3 0h1m-171 1h1m156 0h1m-164 1h1m7 0h1m153 0h1m-159 1h1m153 0h1m-153 1h1m2 0h1m160 0h1m13 0h1m-185 1h1m138 0h1m22 0h1m12 0h1m-172 1h1m141 0h1m3 0h1m1 0h1m1 0h1m1 0h1m7 0h1m-159 1h1m153 0h1m4 0h1m-3 1h1m-167 1h1m3 0h1m151 0h1m2 0h1m2 0h1m-157 1h1m120 0h1m18 0h1m9 1h1m22 0h1m5 0h1m-35 1h1m-153 1h1m5 0h1m120 0h1m51 0h1m2 0h1m-60 1h1m6 0h2m19 0h1m5 0h1m3 1h1m2 0h1m13 0h1m-64 1h1m-113 1h1m5 0h1m98 0h1m7 0h1m11 0h1m6 0h1m42 0h1m-67 1h1m8 0h1m4 0h1m1 0h1m2 0h1m7 0h2m2 0h1m2 0h1m-140 1h1m100 0h1m-106 1h1m111 0h2m24 0h1m5 0h1m7 0h1m7 0h1m-46 1h1m-2 1h1m2 0h1m4 0h1m47 0h1m-63 1h1m28 0h1m-37 1h1m3 0h1m16 0h2m-25 1h1m8 1h1m1 0h1m-112 1h1m156 0h1m-64 1h1m4 0h1m4 0h1m3 0h1m-105 1h2m106 0h1m4 0h1m2 0h1m4 0h1m5 0h1m35 0h1m-71 1h1m3 0h1m1 0h1m1 0h1m5 0h1m-104 1h1m111 0h1m43 0h1m-165 1h1m99 0h1m3 0h1m9 0h1m-107 1h1m82 0h1m3 0h1m59 0h1m-66 1h1m4 0h1m13 0h1m-103 1h1m90 0h1m7 1h2m-18 1h1m15 1h1m-6 1h1m8 0h1m-103 1h1m78 0h1m-82 1h1m77 0h1m-79 1h1m80 0h1m15 1h1m-98 1h1m3 0h1m66 0h1m3 1h1m5 0h1m-78 1h1m69 0h1m31 0h1m-108 1h1m70 1h1m15 0h1m-79 1h1m63 1h1m-77 1h1m12 0h1m60 0h1m8 0h1m-77 1h1m76 0h1m-12 1h1m-62 1h1m56 0h1m-60 1h1m59 0h1m3 0h1m3 0h1m18 1h1m-51 1h1m4 0h1m15 0h1m13 0h1m-18 1h1m-56 1h1m45 0h1m1 0h1m-48 1h1m1 0h1m32 0h1m3 0h1m12 0h1m3 0h1m-60 1h1m40 0h1m15 0h1m1 0h1m2 0h1m-18 1h1m1 0h1m6 0h1m-56 1h1m3 0h1m37 0h1m7 0h1m2 0h1m-53 1h1m48 0h1m-55 2h1m3 0h1m2 0h1m33 0h1m4 0h1m2 0h1m-44 1h1m2 0h1m27 0h1m36 0h1m-21 1h1m-9 1h1m-46 1h1m43 0h1m-44 1h1m3 0h1m36 0h1m6 0h1m-40 2h1m27 1h1m-36 1h1m2 0h1m34 1h1m16 0h1m-16 1h1m19 0h1m-19 1h1m-47 1h1m4 1h1m7 0h1m55 0h1m-62 2h1m20 2h1m25 0h1m-25 1h1m7 0h1m-37 1h1m2 1h1m20 0h1m-20 1h1m27 0h1m1 0h1m-44 1h1m50 0h1m-43 3h1m19 0h1m4 0h1m13 0h1m-38 1h1m43 0h1m-41 1h1m7 0h1m6 0h1m11 0h1m-10 1h1m13 0h1m-36 1h1m5 0h1m2 0h1m10 0h1m5 0h1m-23 1h1m3 0h1m18 0h1m-18 1h1m16 1h1m6 0h1m-42 1h1m21 0h1m9 0h1m5 0h1m-35 1h1m36 0h1m-35 1h1m8 0h1m-6 1h1m17 0h1m-18 1h1m25 0h1m16 0h1m-52 1h1m1 0h1m10 0h1m9 0h1m4 0h1m-22 2h1m2 0h1m6 0h1m-10 1h1m10 1h1m-7 1h1m20 0h1m-19 1h1m8 0h1m4 0h1m-3 1h1m-24 1h1m5 0h1m13 0h1m-8 4h1m2 0h1m16 0h1m-26 1h1m14 0h1m-11 2h1m-26 1h1m13 1h1m8 0h1m10 1h1m-10 2h1m-18 1h1m5 1h1m20 1h1" stroke="#7c7ac2"/>
<path d="M0 0m141 23h1m-1 1h2m-2 1h2m-12 1h2m20 0h1m4 0h1m-28 1h1m21 0h1m4 0h1m-52 1h1m11 0h1m3 0h1m2 0h1m14 0h3m20 0h1m24 0h1m-94 1h2m20 0h1m5 0h1m1 0h1m5 0h1m4 0h2m3 0h1m4 0h2m16 0h1m-86 1h3m5 0h2m7 0h2m21 0h1m1 0h1m1 0h1m7 0h1m10 0h1m21 0h1m-92 1h1m8 0h1m20 0h1m2 0h1m4 0h2m6 0h2m18 0h1m3 0h2m13 0h1m-99 1h2m20 0h1m6 0h2m11 0h1m2 0h1m3 0h1m2 0h1m26 0h1m2 0h1m16 0h2m27 0h1m-106 1h1m3 0h2m7 0h1m7 0h1m4 0h2m7 0h1m5 0h1m6 0h2m9 0h1m1 0h1m2 0h1m5 0h1m-92 1h2m20 0h1m5 0h1m3 0h1m5 0h1m7 0h2m11 0h1m3 0h1m2 0h1m7 0h1m1 0h1m1 0h1m1 0h1m3 0h1m5 0h1m8 0h1m9 0h1m1 0h2m5 0h1m1 0h1m-140 1h1m39 0h2m1 0h1m2 0h1m6 0h1m2 0h1m2 0h2m2 0h3m1 0h1m1 0h1m2 0h1m2 0h1m1 0h1m2 0h1m3 0h1m2 0h1m2 0h2m1 0h1m1 0h1m3 0h1m3 0h1m3 0h2m7 0h3m1 0h1m7 0h2m6 0h1m-113 1h2m3 0h3m3 0h1m1 0h2m3 0h1m4 0h1m4 0h1m4 0h2m2 0h1m1 0h1m3 0h3m1 0h1m1 0h1m2 0h1m3 0h1m3 0h1m3 0h1m3 0h1m2 0h1m4 0h2m4 0h1m8 0h1m1 0h3m4 0h1m2 0h3m6 0h2m-125 1h1m11 0h1m1 0h2m5 0h3m10 0h1m5 0h1m2 0h1m1 0h2m1 0h2m4 0h1m7 0h2m4 0h1m7 0h2m6 0h1m1 0h1m3 0h1m2 0h2m1 0h1m2 0h1m11 0h5m1 0h1m4 0h2m-124 1h3m4 0h1m5 0h2m6 0h1m2 0h1m1 0h1m2 0h4m1 0h2m4 0h2m8 0h1m2 0h1m1 0h1m2 0h1m4 0h1m2 0h1m3 0h1m1 0h1m7 0h3m6 0h1m3 0h1m1 0h2m1 0h1m1 0h1m2 0h1m1 0h2m3 0h2m1 0h1m15 0h2m-129 1h1m2 0h2m1 0h1m1 0h1m2 0h1m3 0h2m1 0h1m3 0h1m7 0h1m2 0h1m2 0h1m2 0h1m1 0h2m13 0h1m12 0h1m2 0h2m1 0h3m2 0h2m2 0h1m3 0h1m1 0h2m8 0h2m3 0h1m2 0h1m6 0h1m-115 1h1m3 0h2m2 0h2m3 0h1m7 0h2m7 0h2m4 0h1m4 0h2m9 0h1m8 0h1m1 0h1m10 0h1m3 0h1m2 0h1m1 0h1m1 0h1m5 0h1m2 0h3m4 0h1m6 0h1m4 0h1m-134 1h1m14 0h1m8 0h1m1 0h1m1 0h1m24 0h1m1 0h1m1 0h1m6 0h1m8 0h1m5 0h1m14 0h1m1 0h3m7 0h1m2 0h1m5 0h2m1 0h1m21 0h2m-126 1h1m1 0h1m3 0h1m1 0h1m8 0h1m8 0h1m1 0h1m7 0h1m10 0h1m15 0h1m4 0h1m18 0h1m4 0h2m1 0h3m1 0h1m7 0h2m5 0h1m7 0h1m-125 1h2m10 0h1m3 0h1m26 0h1m10 0h1m11 0h1m6 0h1m9 0h1m1 0h2m1 0h1m13 0h4m1 0h1m3 0h1m4 0h1m7 0h1m2 0h2m5 0h3m-151 1h1m1 0h1m19 0h1m7 0h3m3 0h2m44 0h1m2 0h1m11 0h1m2 0h3m1 0h1m3 0h1m3 0h1m6 0h2m1 0h2m3 0h1m1 0h1m18 0h1m15 0h1m-160 1h3m5 0h1m1 0h1m3 0h2m30 0h1m17 0h1m1 0h1m7 0h4m2 0h1m10 0h1m1 0h2m8 0h2m7 0h2m2 0h1m1 0h2m1 0h1m11 0h1m8 0h1m2 0h1m1 0h1m1 0h1m9 0h1m-163 1h1m6 0h1m1 0h1m1 0h1m1 0h1m2 0h1m4 0h2m43 0h1m3 0h1m22 0h1m9 0h2m5 0h1m11 0h1m2 0h1m1 0h2m4 0h1m1 0h1m11 0h1m1 0h1m1 0h1m-153 1h1m1 0h3m6 0h1m57 0h1m10 0h1m20 0h1m2 0h1m3 0h1m2 0h1m4 0h1m3 0h1m6 0h1m1 0h1m14 0h1m3 0h1m-149 1h1m3 0h1m5 0h1m2 0h2m1 0h1m55 0h1m14 0h1m3 0h1m3 0h1m13 0h1m4 0h1m1 0h1m3 0h1m3 0h2m1 0h1m16 0h1m-138 1h1m69 0h1m11 0h1m1 0h1m4 0h1m4 0h1m3 0h2m3 0h2m1 0h1m3 0h1m3 0h1m2 0h2m2 0h1m16 0h1m-146 1h1m1 0h1m6 0h1m4 0h1m63 0h1m12 0h1m3 0h1m4 0h1m3 0h1m5 0h2m13 0h1m8 0h1m14 0h2m-141 1h1m5 0h1m80 0h2m4 0h1m3 0h1m2 0h1m3 0h1m1 0h2m9 0h2m3 0h1m-139 1h1m6 0h2m2 0h1m1 0h1m3 0h1m5 0h1m59 0h1m9 0h1m1 0h1m2 0h1m4 0h1m11 0h1m6 0h3m1 0h1m6 0h2m1 0h2m-137 1h2m100 0h2m8 0h1m1 0h1m8 0h1m2 0h1m2 0h1m1 0h1m5 0h2m-137 1h1m3 0h1m84 0h1m2 0h1m3 0h1m1 0h1m2 0h1m1 0h3m2 0h1m4 0h1m1 0h1m5 0h3m6 0h1m-133 1h1m3 0h6m4 0h1m80 0h1m9 0h1m2 0h1m1 0h1m5 0h1m1 0h1m2 0h1m4 0h1m2 0h1m2 0h1m8 0h1m-145 1h1m2 0h1m6 0h1m4 0h1m3 0h1m79 0h1m1 0h1m1 0h2m6 0h1m11 0h2m2 0h1m8 0h1m7 0h1m8 0h1m-154 1h1m4 0h1m7 0h1m85 0h1m1 0h1m5 0h1m3 0h2m4 0h2m9 0h1m2 0h2m3 0h2m17 0h1m7 0h1m-163 1h2m1 0h3m3 0h1m1 0h1m1 0h1m2 0h1m76 0h1m6 0h1m2 0h1m2 0h1m2 0h1m3 0h1m2 0h1m23 0h1m12 0h1m-157 1h1m1 0h1m7 0h1m3 0h1m74 0h1m1 0h1m3 0h1m2 0h3m3 0h1m2 0h1m1 0h1m1 0h1m2 0h1m4 0h2m6 0h4m1 0h1m10 0h1m-143 1h1m2 0h2m3 0h1m2 0h1m79 0h1m4 0h1m5 0h2m8 0h4m3 0h1m9 0h1m1 0h1m9 0h1m-140 1h1m1 0h2m1 0h1m87 0h1m2 0h1m6 0h1m4 0h2m2 0h1m2 0h1m2 0h1m19 0h1m-142 1h1m3 0h2m2 0h1m81 0h1m3 0h1m6 0h1m1 0h1m1 0h2m4 0h1m2 0h1m3 0h1m29 0h2m-156 1h1m5 0h1m3 0h1m2 0h2m80 0h2m9 0h1m2 0h1m1 0h1m2 0h2m12 0h3m15 0h1m8 0h1m-151 1h1m3 0h1m1 0h1m1 0h1m89 0h2m1 0h2m6 0h1m7 0h1m5 0h1m-124 1h1m1 0h1m1 0h2m5 0h1m80 0h1m2 0h1m6 0h1m11 0h1m8 0h1m-122 1h1m82 0h1m5 0h1m2 0h2m1 0h1m2 0h1m1 0h1m10 0h1m3 0h2m1 0h1m-123 1h1m3 0h2m1 0h1m5 0h1m71 0h2m3 0h1m16 0h1m4 0h2m9 0h1m-124 1h1m1 0h1m85 0h1m2 0h1m2 0h1m3 0h2m2 0h1m2 0h2m3 0h1m2 0h1m5 0h1m10 0h2m-133 1h1m1 0h1m4 0h1m73 0h1m1 0h1m2 0h1m1 0h1m2 0h1m1 0h2m2 0h1m1 0h1m1 0h2m1 0h1m6 0h2m18 0h1m-133 1h1m1 0h1m82 0h1m1 0h2m3 0h1m9 0h1m3 0h1m21 0h1m-126 1h1m3 0h1m71 0h1m8 0h1m1 0h1m2 0h1m2 0h1m3 0h1m5 0h1m-107 1h1m4 0h1m80 0h2m2 0h2m2 0h1m2 0h1m9 0h2m1 0h1m-110 1h1m1 0h2m90 0h1m5 0h1m5 0h1m3 0h1m11 0h2m-121 1h1m78 0h2m2 0h2m6 0h1m12 0h3m-109 1h1m79 0h1m3 0h1m6 0h3m4 0h2m9 0h1m11 0h2m-41 1h1m4 0h2m-84 1h1m76 0h1m2 0h2m1 0h1m2 0h1m1 0h1m-94 1h1m1 0h1m73 0h1m5 0h1m3 0h1m2 0h2m-94 1h3m3 0h1m71 0h1m2 0h1m7 0h1m3 0h1m-91 1h1m4 0h1m2 0h1m66 0h1m1 0h1m4 0h1m2 0h1m4 0h1m-93 1h1m1 0h1m2 0h2m4 0h2m63 0h1m4 0h2m1 0h2m1 0h1m4 0h1m-96 1h3m4 0h1m1 0h2m2 0h1m64 0h1m2 0h3m5 0h1m4 0h1m-88 1h2m1 0h1m67 0h1m2 0h1m2 0h1m1 0h1m1 0h1m-87 1h1m1 0h1m2 0h2m79 0h1m-86 1h2m72 0h1m4 0h1m1 0h1m6 0h1m-89 1h2m1 0h2m5 0h1m66 0h1m4 0h1m1 0h1m3 0h1m-86 1h1m2 0h1m4 0h1m58 0h1m3 0h1m4 0h1m2 0h1m-81 1h1m2 0h1m66 0h2m1 0h1m1 0h1m5 0h1m2 0h2m24 0h1m-108 1h2m68 0h1m1 0h2m1 0h1m3 0h2m2 0h1m-86 1h1m2 0h1m1 0h1m63 0h1m3 0h2m2 0h1m-78 1h1m5 0h2m56 0h1m3 0h1m4 0h1m2 0h1m-72 1h1m56 0h1m5 0h1m2 0h1m4 0h1m-78 1h1m3 0h1m60 0h1m6 0h1m-75 1h1m1 0h1m61 0h1m7 0h2m1 0h2m-78 1h1m3 0h2m2 0h2m54 0h1m3 0h1m2 0h1m-71 1h1m3 0h2m58 0h1m9 0h1m-73 1h3m2 0h1m50 0h1m2 0h1m5 0h2m4 0h1m1 0h1m-71 1h1m53 0h2m7 0h1m1 0h1m12 0h2m-82 1h1m4 0h2m49 0h1m10 0h1m-67 1h1m3 0h1m1 0h1m50 0h1m2 0h1m1 0h1m4 0h1m-12 1h2m3 0h1m6 0h2m-69 1h1m3 0h1m1 0h1m33 0h1m1 0h1m2 0h1m5 0h1m6 0h1m1 0h1m1 0h1m3 0h1m-66 1h1m11 0h1m5 0h1m25 0h1m1 0h1m3 0h1m2 0h2m2 0h1m1 0h1m1 0h1m-62 1h1m6 0h1m2 0h1m29 0h1m3 0h1m3 0h1m7 0h1m-60 1h1m4 0h1m12 0h1m25 0h3m8 0h1m3 0h2m1 0h1m1 0h1m-65 1h1m5 0h1m1 0h1m21 0h1m1 0h2m6 0h1m20 0h1m-62 1h1m7 0h1m3 0h1m1 0h1m23 0h1m4 0h2m1 0h1m1 0h1m2 0h1m4 0h1m4 0h1m-63 1h1m1 0h1m11 0h1m1 0h1m8 0h2m8 0h1m2 0h1m4 0h1m8 0h1m1 0h1m5 0h1m-60 1h1m21 0h1m2 0h1m2 0h2m2 0h1m2 0h1m1 0h1m2 0h1m2 0h1m2 0h1m4 0h2m3 0h1m6 0h1m-64 1h1m1 0h1m10 0h1m1 0h1m2 0h1m12 0h1m1 0h2m3 0h1m9 0h1m1 0h1m5 0h1m5 0h2m-63 1h1m13 0h1m5 0h1m7 0h3m8 0h1m2 0h1m2 0h2m14 0h1m-57 1h1m4 0h1m5 0h1m10 0h1m1 0h1m2 0h2m1 0h1m1 0h1m4 0h3m2 0h1m-43 1h1m1 0h1m3 0h1m5 0h1m8 0h2m1 0h1m3 0h1m10 0h2m3 0h1m-49 1h1m1 0h1m3 0h3m8 0h1m9 0h1m5 0h1m11 0h4m-46 1h1m3 0h1m5 0h5m11 0h1m16 0h1m-39 1h1m4 0h1m15 0h2m1 0h1m1 0h1m13 0h2m-44 1h2m2 0h3m1 0h1m1 0h2m4 0h1m2 0h1m23 0h1m-43 1h2m5 0h1m8 0h1m1 0h1m17 0h2m-35 1h2m2 0h1m7 0h1m-19 1h1m16 0h1m4 0h2m2 0h1m-28 1h1m1 0h1m1 0h1m3 0h1m5 0h2m1 0h1m3 0h2m1 0h1m1 0h1m10 0h1m-31 1h1m1 0h1m10 0h1m6 0h1m9 0h2m-38 1h1m4 0h1m3 0h1m6 0h1m1 0h2m2 0h1m4 0h1m3 0h1m-24 1h1m3 0h1m1 0h2m-16 1h1m2 0h1m1 0h4m4 0h2m3 0h1m1 0h1m-21 1h1m5 0h2m1 0h1m3 0h1m3 0h1m2 0h1m2 0h1m-20 1h1m2 0h1m1 0h1m17 0h1m1 0h1m-31 1h1m4 0h2m3 0h1m2 0h1m3 0h1m2 0h1m8 0h1m1 0h1m-33 1h1m2 0h1m1 0h1m3 0h1m5 0h1m3 0h1m-21 1h1m3 0h1m3 0h1m2 0h1m2 0h2m2 0h1m2 0h1m1 0h1m2 0h1m1 0h2m-36 1h1m1 0h3m7 0h2m4 0h1m3 0h2m10 0h1m-33 1h1m12 0h1m5 0h1m1 0h1m8 0h1m-15 1h1m1 0h1m2 0h2m-8 1h1m1 0h2m1 0h1m8 0h1m-23 1h1m2 0h1m1 0h1m1 0h1m7 0h1m6 0h1m-25 1h1m1 0h1m7 0h2m-13 1h1m9 0h1m3 0h4m1 0h1m-20 1h1m7 1h1m2 0h1m1 0h1m5 0h1m1 0h2m1 0h1m-14 1h3m1 0h1m5 0h1m3 0h1m-25 1h1m21 0h1m-27 1h2m2 0h1m2 0h4m17 0h1m-31 1h2m1 0h1m2 0h1m12 0h1m2 0h1m7 0h1m-25 1h2m8 0h1m2 0h2m9 0h1m-22 1h1m1 0h1m2 0h2m3 0h1m9 0h1m-19 1h1m1 0h2m4 0h1m8 0h1m-30 1h1m11 0h1m3 0h2m-11 1h2m3 0h1m9 0h2m5 0h1m-16 1h1m1 0h1m7 0h1m-23 1h1m6 0h1m5 0h1m1 0h1m11 0h1m-21 1h1m2 0h2m3 0h1m11 0h1m-21 1h1m8 0h2m7 0h2m-8 2h1m-4 1h2m1 0h1m-12 2h2m3 1h1m-6 1h1m5 0h2m0 1h1m-1 1h1m-6 5h1m-2 1h2" stroke="#4a4eb0"/>
<path d="M0 0m132 34h3m6 1h1m-1 1h2m-27 1h3m23 0h1m3 0h1m-53 1h1m8 0h1m1 0h1m18 0h1m1 0h1m-47 1h1m13 0h1m9 0h2m2 0h2m1 0h2m12 0h2m25 0h1m-75 1h2m14 0h1m13 0h3m17 0h1m17 0h1m5 0h1m4 0h3m-74 1h3m5 0h1m5 0h1m6 0h2m7 0h2m10 0h1m-55 1h4m9 0h2m10 0h1m4 0h1m2 0h1m7 0h2m1 0h1m6 0h1m4 0h2m2 0h2m-68 1h2m3 0h2m6 0h2m2 0h1m2 0h2m1 0h1m2 0h2m5 0h2m1 0h1m6 0h2m1 0h1m2 0h1m14 0h3m-69 1h2m6 0h1m3 0h3m5 0h1m1 0h3m2 0h3m5 0h1m3 0h3m3 0h7m10 0h9m-74 1h1m3 0h1m5 0h2m4 0h1m2 0h2m2 0h1m1 0h1m9 0h1m3 0h3m1 0h1m7 0h1m2 0h1m8 0h3m1 0h1m1 0h1m-66 1h2m2 0h1m2 0h2m3 0h2m1 0h5m2 0h1m3 0h1m1 0h1m3 0h4m4 0h1m5 0h1m1 0h4m6 0h1m1 0h5m1 0h1m3 0h1m11 0h2m-95 1h1m1 0h1m2 0h1m3 0h2m2 0h1m1 0h1m2 0h1m2 0h2m2 0h2m6 0h3m1 0h7m2 0h4m1 0h1m7 0h2m1 0h2m5 0h2m4 0h2m1 0h1m1 0h3m2 0h1m8 0h2m-100 1h1m6 0h2m2 0h2m1 0h2m2 0h1m3 0h2m1 0h1m4 0h4m1 0h2m3 0h1m3 0h3m1 0h3m3 0h1m2 0h1m5 0h1m1 0h2m1 0h2m3 0h2m11 0h1m-86 1h2m3 0h6m1 0h1m2 0h2m1 0h1m15 0h2m3 0h2m2 0h1m1 0h1m2 0h1m1 0h6m1 0h4m7 0h1m2 0h1m2 0h2m5 0h1m-82 1h1m4 0h1m1 0h1m3 0h2m1 0h1m1 0h6m1 0h1m3 0h1m1 0h2m2 0h2m5 0h1m4 0h3m1 0h1m1 0h3m1 0h1m2 0h2m1 0h1m8 0h4m1 0h3m3 0h2m-82 1h1m4 0h1m1 0h1m2 0h1m3 0h2m1 0h2m1 0h3m3 0h2m1 0h1m3 0h2m2 0h6m3 0h1m2 0h1m2 0h1m1 0h2m2 0h5m5 0h2m1 0h1m1 0h1m1 0h2m10 0h2m-93 1h1m10 0h2m1 0h1m1 0h1m2 0h2m1 0h1m2 0h1m5 0h1m1 0h1m7 0h2m1 0h2m1 0h2m3 0h1m3 0h3m3 0h1m2 0h2m3 0h3m1 0h2m3 0h1m12 0h2m-94 1h2m9 0h2m1 0h1m1 0h4m1 0h2m2 0h1m5 0h3m1 0h2m3 0h1m2 0h1m2 0h1m3 0h1m1 0h1m1 0h3m1 0h4m1 0h1m1 0h1m3 0h1m1 0h1m1 0h1m-73 1h1m1 0h2m1 0h1m1 0h1m5 0h3m2 0h2m19 0h1m6 0h2m2 0h1m1 0h1m3 0h1m2 0h3m3 0h1m1 0h3m1 0h1m-70 1h1m1 0h5m2 0h1m2 0h2m1 0h4m19 0h1m4 0h1m1 0h3m2 0h1m3 0h1m1 0h1m5 0h2m2 0h5m3 0h1m1 0h1m-76 1h3m3 0h2m1 0h3m2 0h1m1 0h3m6 0h1m10 0h2m3 0h1m1 0h1m2 0h1m1 0h2m1 0h1m2 0h1m2 0h1m1 0h2m1 0h1m3 0h1m1 0h5m3 0h1m-78 1h1m1 0h4m1 0h1m1 0h2m13 0h2m11 0h1m4 0h1m1 0h6m2 0h1m5 0h3m2 0h2m3 0h2m3 0h1m-85 1h1m3 0h1m5 0h4m2 0h2m1 0h1m31 0h1m3 0h1m2 0h2m2 0h1m1 0h1m1 0h2m1 0h1m6 0h3m2 0h2m6 0h1m1 0h1m-91 1h1m3 0h1m4 0h1m2 0h1m1 0h1m2 0h4m29 0h1m1 0h3m3 0h1m2 0h1m1 0h2m2 0h1m3 0h2m2 0h1m4 0h1m3 0h1m-87 1h2m4 0h2m1 0h1m12 0h1m2 0h1m14 0h1m10 0h1m1 0h3m2 0h2m2 0h2m1 0h2m3 0h2m1 0h3m2 0h1m-77 1h1m2 0h2m1 0h4m10 0h3m15 0h1m15 0h3m1 0h3m1 0h1m4 0h3m2 0h2m1 0h1m1 0h1m-78 1h2m1 0h3m1 0h3m27 0h2m3 0h1m6 0h2m4 0h1m5 0h1m2 0h1m1 0h1m2 0h4m2 0h1m-75 1h2m1 0h2m3 0h2m33 0h1m6 0h1m10 0h2m1 0h2m2 0h1m1 0h1m1 0h2m-74 1h1m1 0h1m1 0h3m1 0h2m1 0h1m31 0h1m2 0h1m1 0h1m4 0h2m1 0h1m1 0h4m1 0h1m1 0h3m2 0h1m1 0h1m-78 1h1m6 0h1m2 0h4m1 0h1m4 0h1m30 0h1m6 0h6m2 0h1m1 0h3m4 0h2m13 0h1m-94 1h2m1 0h2m2 0h1m1 0h2m2 0h2m1 0h1m34 0h1m11 0h2m1 0h4m1 0h1m1 0h2m1 0h1m16 0h1m-93 1h1m1 0h1m4 0h1m1 0h1m1 0h1m2 0h2m45 0h2m3 0h1m2 0h1m2 0h2m6 0h1m-83 1h4m1 0h1m5 0h1m1 0h1m51 0h5m1 0h1m4 0h1m-77 1h2m1 0h1m2 0h2m5 0h2m51 0h2m1 0h2m11 0h1m-88 1h1m5 0h1m3 0h1m1 0h1m1 0h2m3 0h1m1 0h1m43 0h1m3 0h2m1 0h1m14 0h1m-84 1h5m1 0h2m2 0h1m1 0h1m1 0h3m45 0h3m4 0h1m3 0h3m-75 1h1m1 0h1m2 0h4m1 0h3m46 0h2m2 0h1m1 0h1m1 0h1m1 0h1m2 0h2m-75 1h2m1 0h3m1 0h2m1 0h1m51 0h1m1 0h1m6 0h4m4 0h2m-81 1h1m3 0h1m5 0h2m42 0h4m4 0h2m3 0h3m-70 1h2m2 0h2m4 0h1m42 0h1m1 0h1m1 0h1m8 0h1m1 0h1m3 0h1m-69 1h1m2 0h1m3 0h1m42 0h1m1 0h1m2 0h4m2 0h6m-70 1h2m1 0h1m2 0h2m46 0h4m1 0h1m1 0h4m2 0h1m6 0h1m-72 1h2m1 0h2m1 0h2m44 0h1m2 0h1m2 0h2m1 0h2m7 0h2m-72 1h1m3 0h2m45 0h3m3 0h1m1 0h1m1 0h2m-59 1h2m52 0h1m2 0h1m-58 1h1m3 0h1m43 0h2m1 0h3m1 0h1m1 0h1m-60 1h3m47 0h1m4 0h2m-72 1h2m7 0h4m1 0h1m1 0h2m39 0h2m4 0h2m1 0h1m2 0h7m-67 1h1m1 0h3m2 0h1m42 0h2m4 0h1m1 0h2m3 0h3m-67 1h1m4 0h1m2 0h1m40 0h1m1 0h1m2 0h2m1 0h1m5 0h2m1 0h1m-69 1h1m1 0h1m5 0h3m38 0h1m2 0h1m2 0h5m3 0h1m1 0h2m-67 1h1m7 0h1m4 0h1m37 0h2m1 0h2m1 0h1m1 0h5m-61 1h2m2 0h1m2 0h1m2 0h1m40 0h3m1 0h1m2 0h1m2 0h1m-61 1h8m1 0h1m37 0h4m1 0h1m1 0h3m1 0h1m1 0h3m-61 1h4m2 0h1m36 0h2m1 0h2m2 0h1m1 0h1m1 0h1m1 0h4m-59 1h1m1 0h6m31 0h1m3 0h1m1 0h1m1 0h2m1 0h1m1 0h1m8 0h1m-62 1h1m5 0h1m4 0h2m10 0h2m4 0h1m1 0h2m6 0h3m1 0h9m5 0h1m3 0h1m-67 1h2m1 0h2m1 0h3m2 0h2m2 0h1m19 0h2m11 0h2m2 0h2m1 0h1m5 0h2m-63 1h2m4 0h2m1 0h5m2 0h2m19 0h1m3 0h3m1 0h1m1 0h4m1 0h2m8 0h1m1 0h1m-61 1h3m2 0h1m4 0h1m2 0h1m17 0h1m2 0h1m1 0h1m1 0h2m1 0h1m1 0h1m1 0h1m2 0h1m1 0h1m6 0h2m-61 1h3m1 0h2m1 0h7m3 0h1m5 0h1m4 0h1m2 0h3m1 0h1m2 0h1m1 0h4m1 0h1m3 0h1m1 0h1m1 0h1m-54 1h1m2 0h1m1 0h1m1 0h1m1 0h1m2 0h1m1 0h1m4 0h1m1 0h1m1 0h1m1 0h1m1 0h2m3 0h2m1 0h1m1 0h2m3 0h1m2 0h3m-48 1h4m1 0h1m1 0h3m1 0h3m1 0h1m1 0h1m2 0h2m2 0h1m1 0h1m1 0h1m1 0h2m1 0h2m3 0h2m1 0h1m3 0h2m8 0h2m-55 1h1m1 0h1m3 0h1m1 0h2m2 0h2m1 0h2m1 0h1m2 0h1m2 0h1m2 0h1m1 0h2m1 0h2m1 0h1m3 0h2m3 0h1m-43 1h1m1 0h2m1 0h1m1 0h2m3 0h1m2 0h2m2 0h1m1 0h1m3 0h4m1 0h1m1 0h2m1 0h2m1 0h1m-40 1h5m5 0h5m5 0h2m4 0h1m2 0h4m2 0h2m1 0h2m-38 1h1m3 0h1m1 0h1m5 0h1m1 0h3m4 0h1m1 0h1m1 0h1m1 0h1m10 0h2m-40 1h2m4 0h1m1 0h1m4 0h1m1 0h3m4 0h3m1 0h4m-23 1h1m6 0h1m5 0h4m4 0h2m3 0h1m-23 1h1m3 0h1m2 0h1m1 0h1m5 0h1m2 0h2m8 0h1m-38 1h1m2 0h2m4 0h2m1 0h3m8 0h2m12 0h2m-36 1h2m4 0h2m3 0h1m1 0h1m4 0h3m-26 1h1m4 0h2m1 0h3m5 0h1m1 0h1m-20 1h2m8 0h1m-10 1h1m2 0h1m7 0h1m-11 1h1m1 0h1m7 0h1m1 0h3m8 0h2m-24 1h2m8 0h1m1 0h1m-10 1h1m6 0h1m1 0h1m3 0h1m-17 1h2m2 0h1m3 0h1m1 0h2m-14 1h2m7 0h1m1 0h2m-13 1h2m8 0h2m1 0h2m1 0h1m1 0h2m-9 1h1m-3 1h3m-2 1h1m-9 1h1m3 0h1m4 0h1m-6 1h1m-2 1h1m1 0h1m8 0h1m-21 1h2m7 0h2m-12 1h3m17 0h2m-6 2h1m-2 1h2m-9 11h1" stroke="#2a3cb4"/>
<path d="M0 0m89 49h1m-11 1h1m10 0h1m-12 1h1m9 0h2m-18 3h1m3 0h1m1 0h1m-7 1h1m2 0h3m7 0h1m1 0h1m8 0h1m-25 1h4m1 0h1m2 0h1m2 0h2m3 0h1m-23 1h2m2 0h1m1 0h1m1 0h2m3 0h2m3 0h1m2 0h2m-24 1h3m1 0h2m2 0h3m8 0h5m-32 1h1m8 0h4m3 0h1m1 0h2m6 0h3m2 0h1m-32 1h2m18 0h1m3 0h4m2 0h1m12 0h1m-43 1h1m7 0h1m10 0h2m3 0h2m3 0h2m2 0h1m3 0h1m-37 1h3m4 0h1m2 0h1m3 0h1m1 0h2m4 0h2m2 0h1m8 0h3m-37 1h3m2 0h2m2 0h2m3 0h1m1 0h1m4 0h1m1 0h3m8 0h2m-40 1h3m2 0h2m1 0h2m1 0h2m2 0h2m4 0h2m5 0h2m8 0h2m-41 1h2m5 0h1m1 0h2m2 0h1m2 0h1m5 0h1m5 0h3m6 0h3m-43 1h1m4 0h1m1 0h5m7 0h1m4 0h1m8 0h1m1 0h3m3 0h2m-38 1h2m1 0h2m1 0h2m6 0h2m15 0h3m2 0h1m-48 1h1m16 0h2m2 0h2m2 0h1m1 0h2m6 0h2m1 0h1m8 0h2m-50 1h1m17 0h1m3 0h1m3 0h2m1 0h1m6 0h1m1 0h1m9 0h1m-49 1h2m4 0h1m7 0h2m12 0h1m11 0h1m4 0h1m5 0h2m-47 1h2m7 0h1m12 0h3m9 0h2m2 0h2m-36 1h2m10 0h1m12 0h1m2 0h2m4 0h2m-45 1h3m2 0h2m3 0h1m22 0h1m3 0h1m6 0h1m-6 1h2m-46 2h2m3 0h2m31 0h1m3 0h2m-39 1h3m30 0h1m4 0h4m-39 1h2m24 0h1m8 0h1m3 0h1m-46 1h1m6 0h1m2 0h1m29 0h2m-42 1h4m26 0h2m3 0h1m4 0h3m-13 1h1m3 0h2m4 0h1m1 0h1m-44 1h1m2 0h1m33 0h1m2 0h1m-40 1h4m28 0h2m2 0h1m-38 1h2m1 0h1m27 0h1m1 0h1m2 0h1m-37 1h4m28 0h4m-34 1h1m24 0h2m6 0h1m-9 1h1m7 0h2m-34 1h2m22 0h1m-26 1h1m1 0h1m16 0h1m3 0h2m1 0h1m-27 1h1m2 0h3m2 0h1m1 0h1m1 0h1m2 0h1m2 0h1m2 0h6m4 0h1m-28 1h1m1 0h5m4 0h1m1 0h2m2 0h1m1 0h1m2 0h1m4 0h1m-29 1h1m4 0h1m6 0h1m2 0h4m-17 1h4m6 0h1m2 0h2m1 0h1m-16 1h1m12 0h2m5 0h2m-15 1h2m4 0h1m-12 1h2m4 0h3m-14 1h1m5 4h1" stroke="#2060cc"/>
<path d="M0 0m76 66h1m-1 1h1m0 3h1m-1 1h1m-14 2h2m2 0h2m0 3h1m3 0h1m-5 1h2m2 0h1m-21 1h2m21 0h1m-1 1h1m-8 1h2m-1 1h1m-14 3h2m-1 1h1m14 0h1m-11 3h2m3 0h1" stroke="#20a0a8"/>
<path d="M0 0m64 72h1m-4 4h1m-2 1h2m-2 1h2" stroke="#30c070"/>
<path d="M0 0m60 79h1" stroke="#7ccc30"/>
</g>
</g>
<path d="M277.7 532.4H379.4V634.1" fill="none" stroke="#000" stroke-width="1.3"/>
<path d="M277.7 531.75V634.1H380.05" fill="none" stroke="#000" stroke-width="2"/>
<line x1="278" y1="634.1" x2="278" y2="637.1" stroke="#333" stroke-width="1"/>
<line x1="297" y1="634.1" x2="297" y2="637.1" stroke="#333" stroke-width="1"/>
<line x1="316" y1="634.1" x2="316" y2="637.1" stroke="#333" stroke-width="1"/>
<line x1="336" y1="634.1" x2="336" y2="637.1" stroke="#333" stroke-width="1"/>
<line x1="355" y1="634.1" x2="355" y2="637.1" stroke="#333" stroke-width="1"/>
<line x1="374" y1="634.1" x2="374" y2="637.1" stroke="#333" stroke-width="1"/>
<line x1="274.7" y1="540" x2="277.7" y2="540" stroke="#333" stroke-width="1"/>
<line x1="274.7" y1="556" x2="277.7" y2="556" stroke="#333" stroke-width="1"/>
<line x1="274.7" y1="572" x2="277.7" y2="572" stroke="#333" stroke-width="1"/>
<line x1="274.7" y1="588" x2="277.7" y2="588" stroke="#333" stroke-width="1"/>
<line x1="274.7" y1="604" x2="277.7" y2="604" stroke="#333" stroke-width="1"/>
<line x1="274.7" y1="620" x2="277.7" y2="620" stroke="#333" stroke-width="1"/>
<path d="M284.8 586.2V533.3H379.2V586.2Z" fill="none" stroke="#c83cc8" stroke-width="1.8"/>
<line x1="283.9" y1="533.4" x2="380" y2="533.4" stroke="#8a1a9a" stroke-width="2.6"/>
<line x1="379.7" y1="532.4" x2="379.7" y2="587" stroke="#5a1268" stroke-width="1.5"/>
<text x="272" y="590" font-size="16" textLength="48.5" lengthAdjust="spacingAndGlyphs" transform="rotate(-90 272 590)">CD11c</text>
<path d="M266.4 614.6V648.6H301" fill="none" stroke="#000" stroke-width="2.2"/>
<polygon points="260.4,615.6 266.4,603.6 272.4,615.6" fill="#000"/>
<polygon points="300,642.6 312,648.6 300,654.6" fill="#000"/>
<text x="326.4" y="653.2" font-size="16" textLength="48" lengthAdjust="spacingAndGlyphs">FSC-A</text>
<line x1="258.5" y1="415.5" x2="293" y2="415.5" stroke="#e8175d" stroke-width="3"/>
<polygon points="291.2,409.3 304.2,415.5 291.2,421.7" fill="#e8175d"/>
<line x1="224.8" y1="603" x2="260" y2="603" stroke="#e8175d" stroke-width="3"/>
<polygon points="257.5,596.8 270,603 257.5,609.2" fill="#e8175d"/>
<line x1="290.8" y1="480.7" x2="211.8" y2="553.85" stroke="#e8175d" stroke-width="3"/>
<polygon points="208.33,548.62 203,562 216.75,557.72" fill="#e8175d"/>
<rect x="58.8" y="715.6" width="25" height="18.7" fill="#000"/>
<text x="93.2" y="734.3" font-size="20" textLength="59.8" lengthAdjust="spacingAndGlyphs">BMDC</text>
<rect x="169.3" y="716.4" width="23.6" height="17.2" fill="#8c8c8c" stroke="#1a1a1a" stroke-width="1.7"/>
<text x="204" y="734.3" font-size="20" textLength="89.5" lengthAdjust="spacingAndGlyphs"><tspan font-family='"Liberation Serif", "Times New Roman", Times, serif' font-size="20">γ</tspan>-Res-DC</text>
<rect x="299.4" y="716.6" width="23.5" height="17" fill="#fff" stroke="#000" stroke-width="1.7"/>
<text x="334.2" y="734.3" font-size="20" textLength="127.4" lengthAdjust="spacingAndGlyphs"><tspan font-family='"Liberation Serif", "Times New Roman", Times, serif' font-size="20">Intact</tspan>-Res-DC</text>
<line x1="198.34" y1="764.6" x2="202.14" y2="764.6" stroke="#000" stroke-width="1.5"/>
<line x1="202.14" y1="759.4" x2="202.14" y2="769.8" stroke="#000" stroke-width="1.6"/>
<rect x="106" y="755.55" width="91.49" height="18.1" fill="#fff" stroke="#000" stroke-width="1.7"/>
<rect x="106" y="783.85" width="123.28" height="18.9" fill="#a8a8a8" stroke="#000" stroke-width="1.7"/>
<rect x="106" y="812.75" width="123.41" height="19" fill="#000" stroke="#000" stroke-width="1.7"/>
<line x1="106" y1="750.5" x2="106" y2="845" stroke="#000" stroke-width="1.6"/>
<line x1="105.2" y1="837" x2="237.6" y2="837" stroke="#000" stroke-width="1.6"/>
<line x1="106" y1="837" x2="106" y2="845" stroke="#000" stroke-width="1.6"/>
<text x="106.6" y="862" font-size="15" text-anchor="middle">0</text>
<line x1="132.16" y1="837" x2="132.16" y2="845" stroke="#000" stroke-width="1.6"/>
<text x="132.76" y="862" font-size="15" text-anchor="middle">20</text>
<line x1="158.32" y1="837" x2="158.32" y2="845" stroke="#000" stroke-width="1.6"/>
<text x="158.92" y="862" font-size="15" text-anchor="middle">40</text>
<line x1="184.48" y1="837" x2="184.48" y2="845" stroke="#000" stroke-width="1.6"/>
<text x="185.08" y="862" font-size="15" text-anchor="middle">60</text>
<line x1="210.64" y1="837" x2="210.64" y2="845" stroke="#000" stroke-width="1.6"/>
<text x="211.24" y="862" font-size="15" text-anchor="middle">80</text>
<line x1="236.8" y1="837" x2="236.8" y2="845" stroke="#000" stroke-width="1.6"/>
<text x="237.6" y="862" font-size="15" text-anchor="middle">100</text>
<line x1="97.4" y1="764.9" x2="106" y2="764.9" stroke="#000" stroke-width="1.6"/>
<line x1="97.4" y1="793.7" x2="106" y2="793.7" stroke="#000" stroke-width="1.6"/>
<line x1="97.4" y1="821.9" x2="106" y2="821.9" stroke="#000" stroke-width="1.6"/>
<line x1="229.6" y1="788" x2="229.6" y2="798.8" stroke="#000" stroke-width="2.6"/>
<text x="208.6" y="775.8" font-size="21.2" font-family='"Liberation Serif", "Times New Roman", Times, serif'>***</text>
<text x="236.8" y="781.6" font-size="16.5" textLength="25" lengthAdjust="spacingAndGlyphs" transform="rotate(90 236.8 781.6)" font-style="italic">n.s.</text>
<path d="M255.2 756V803.2M255.2 762.4H263.2V821.2H254.3" fill="none" stroke="#000" stroke-width="1.7"/>
<text x="68.8" y="890.9" font-size="18.6" font-weight="bold" textLength="203" lengthAdjust="spacingAndGlyphs">PI negative cells (%)</text>
<line x1="406.05" y1="763.55" x2="407.51" y2="763.55" stroke="#000" stroke-width="1.5"/>
<line x1="407.51" y1="758.45" x2="407.51" y2="768.65" stroke="#000" stroke-width="1.4"/>
<rect x="298.3" y="754.05" width="106.9" height="19" fill="#fff" stroke="#000" stroke-width="1.7"/>
<rect x="298.3" y="782.85" width="115.26" height="19.9" fill="#a8a8a8" stroke="#000" stroke-width="1.7"/>
<rect x="298.3" y="812.75" width="116.46" height="19.4" fill="#000" stroke="#000" stroke-width="1.7"/>
<line x1="298.3" y1="749.2" x2="298.3" y2="845.4" stroke="#000" stroke-width="1.6"/>
<line x1="297.5" y1="837.4" x2="431.8" y2="837.4" stroke="#000" stroke-width="1.6"/>
<line x1="298.3" y1="837.4" x2="298.3" y2="845.4" stroke="#000" stroke-width="1.6"/>
<text x="298.9" y="863.4" font-size="15" text-anchor="middle">0</text>
<line x1="324.84" y1="837.4" x2="324.84" y2="845.4" stroke="#000" stroke-width="1.6"/>
<text x="325.44" y="863.4" font-size="15" text-anchor="middle">20</text>
<line x1="351.38" y1="837.4" x2="351.38" y2="845.4" stroke="#000" stroke-width="1.6"/>
<text x="351.98" y="863.4" font-size="15" text-anchor="middle">40</text>
<line x1="377.92" y1="837.4" x2="377.92" y2="845.4" stroke="#000" stroke-width="1.6"/>
<text x="378.52" y="863.4" font-size="15" text-anchor="middle">60</text>
<line x1="404.46" y1="837.4" x2="404.46" y2="845.4" stroke="#000" stroke-width="1.6"/>
<text x="405.06" y="863.4" font-size="15" text-anchor="middle">80</text>
<line x1="431" y1="837.4" x2="431" y2="845.4" stroke="#000" stroke-width="1.6"/>
<text x="431.8" y="863.4" font-size="15" text-anchor="middle">100</text>
<line x1="289.7" y1="764.3" x2="298.3" y2="764.3" stroke="#000" stroke-width="1.6"/>
<line x1="289.7" y1="793" x2="298.3" y2="793" stroke="#000" stroke-width="1.6"/>
<line x1="289.7" y1="822.5" x2="298.3" y2="822.5" stroke="#000" stroke-width="1.6"/>
<line x1="405.2" y1="758.4" x2="405.2" y2="768.6" stroke="#000" stroke-width="1.3"/>
<line x1="413.7" y1="788" x2="413.7" y2="798.6" stroke="#000" stroke-width="3.6"/>
<text x="411.2" y="774.4" font-size="21.2" font-family='"Liberation Serif", "Times New Roman", Times, serif'>*</text>
<text x="419.9" y="780.4" font-size="16.8" textLength="26.4" lengthAdjust="spacingAndGlyphs" transform="rotate(90 419.9 780.4)" font-style="italic">n.s.</text>
<path d="M434.2 754.3V803.2M434.2 761.7H442.6V821.5H433.6" fill="none" stroke="#000" stroke-width="1.7"/>
<text x="314.3" y="893.4" font-size="18.6" font-weight="bold" textLength="100" lengthAdjust="spacingAndGlyphs">CD11c (%)</text>
<!-- Panel D -->
<text x="534.4" y="372.2" font-size="34.5" font-weight="bold">D</text>
<g transform="translate(607 391)" fill="none" stroke-width="1">
<g shape-rendering="crispEdges" transform="translate(0 .5)">
<path d="M0 0m61 21h2m-1 2h1m2 1h1m1 2h1m-2 1h1m0 1h1m-10 1h1m8 1h1m-9 1h1m-18 16h1m5 0h1m-6 1h1m-14 1h1m12 0h1m1 0h2m-19 1h1m5 0h1m10 0h1m-17 1h2m17 0h1m3 0h2m-27 1h1m20 0h1m2 0h1m4 0h1m-6 1h1m-29 1h1m33 0h1m-36 1h1m27 0h1m-31 1h1m31 0h1m2 1h1m-5 1h1m-36 1h1m35 1h1m2 1h1m-4 2h1m-45 1h1m2 2h1m41 1h1m-47 1h1m44 0h2m-48 1h1m-2 1h1m4 0h1m-6 2h2m42 0h1m-41 1h1m-7 1h2m5 0h1m32 0h1m2 0h1m-39 1h1m35 0h1m-35 2h2m31 1h1m-26 1h2m-6 1h1m3 0h2m3 0h1m9 0h1m-9 1h1m5 0h1m1 0h1m1 0h1m-8 1h1" stroke="#2238e2"/>
<path d="M0 0m64 22h1m-4 2h1m1 0h1m-3 1h1m2 0h2m-4 1h1m-1 1h3m-6 1h2m3 0h2m-5 1h3m-2 1h1m-1 1h1m-4 1h1m2 0h1m-27 17h1m2 0h1m1 0h1m-2 1h2m1 0h1m-8 1h2m7 0h1m-17 1h4m4 0h1m4 0h1m2 0h1m-20 1h3m20 0h1m2 0h1m-28 1h1m-2 1h1m24 1h1m-30 1h4m26 0h1m-33 1h2m29 0h1m-33 2h1m32 0h2m1 0h1m-38 1h1m32 0h1m0 1h1m-38 1h2m35 0h2m-2 1h1m-38 1h1m-5 1h1m40 0h1m-43 1h1m3 0h1m37 0h1m-4 1h1m-38 1h4m33 0h2m-5 2h3m-37 1h2m33 0h2m-39 1h1m1 0h3m28 0h2m-29 1h1m26 0h2m-31 1h2m0 1h2m24 0h2m-29 1h1m1 0h1m18 0h1m3 0h1m-19 1h1m13 0h1m1 0h1m-22 1h1m4 0h1m1 0h2m5 0h1m1 0h2m-9 1h1m1 0h2m-1 1h1m2 0h1" stroke="#1c40e4"/>
<path d="M0 0m62 24h1m2 2h1m-5 1h1m3 0h1m-4 1h2m-28 22h3m-1 1h2m3 0h2m-10 1h2m1 0h1m1 0h2m-12 1h2m4 0h1m1 0h2m4 0h1m3 0h1m-23 1h1m1 0h1m3 0h1m12 0h4m-23 1h2m16 0h1m1 0h4m-23 1h1m19 0h2m-25 1h1m2 0h1m20 0h2m-29 1h2m27 0h1m-32 1h3m26 0h2m-32 1h3m-4 1h3m28 0h1m2 0h1m-36 1h3m30 0h1m1 0h1m-36 1h2m-6 1h1m1 0h1m2 0h1m30 0h1m-37 1h1m1 0h1m1 0h1m31 0h1m-37 1h1m1 0h2m31 0h3m-37 1h2m32 0h1m-35 1h2m31 1h1m-35 1h2m30 0h1m1 0h1m-36 1h4m27 0h1m-31 1h1m1 0h2m24 0h1m2 0h2m-32 1h3m24 0h1m-29 1h1m23 0h1m2 0h2m-27 1h3m19 0h3m2 0h1m-25 1h2m17 0h1m-20 1h3m9 0h1m2 0h1m2 0h1m-18 1h1m2 0h3m2 0h7m2 0h1m-12 1h1m2 0h1m2 0h1" stroke="#1f5aea"/>
<path d="M0 0m34 53h2m4 0h4m-15 1h2m2 0h1m8 0h2m-19 1h1m2 0h2m2 0h2m9 0h1m-20 1h2m2 0h1m14 0h2m1 0h1m-22 1h2m1 0h1m18 0h1m-25 1h1m22 0h1m-25 1h1m24 0h1m-1 2h1m-29 1h1m28 0h1m-31 1h1m28 0h1m-33 2h1m1 0h1m27 2h2m-3 1h2m-2 1h2m-32 1h2m-1 1h1m0 2h2m-2 1h1m1 0h1m18 0h2m-21 1h1m16 0h1m-5 1h1m1 0h1m1 0h1m-14 1h2m2 0h3m1 0h2m-7 1h1" stroke="#1c9cd8"/>
<path d="M0 0m31 54h1m3 0h7m-12 1h2m2 0h3m3 0h3m-14 1h1m2 0h1m1 0h1m1 0h1m8 0h1m-2 1h1m1 0h1m-21 1h1m15 0h1m2 0h1m1 0h1m-25 1h1m22 0h1m-25 1h2m22 0h2m-28 1h2m-2 1h1m25 0h2m-29 1h2m24 0h2m-29 1h1m1 0h1m24 0h3m-30 1h1m25 0h4m-32 1h3m26 0h2m-32 1h3m26 0h1m-30 1h3m25 0h1m-29 1h3m25 0h1m-28 1h2m23 0h1m1 0h1m-28 1h2m21 0h3m-26 1h2m1 0h1m19 0h1m-22 1h3m13 0h1m1 0h2m1 0h1m-23 1h1m2 0h1m14 0h1m-19 1h1m1 0h2m3 0h2m1 0h1m2 0h3m1 0h1m-16 1h8m2 0h2m1 0h1m1 0h1m-15 1h2m2 0h1" stroke="#18c088"/>
<path d="M0 0m37 55h3m-10 1h2m1 0h1m1 0h1m1 0h6m-14 1h15m1 0h1m-22 1h2m1 0h15m1 0h2m-21 1h22m-22 1h14m1 0h7m-24 1h9m3 0h1m4 0h8m-26 1h8m10 0h7m-25 1h8m10 0h6m-26 1h1m1 0h7m11 0h6m-26 1h7m12 0h1m1 0h4m-25 1h8m11 0h7m-27 1h8m12 0h6m-26 1h8m9 0h8m-25 1h9m6 0h2m1 0h7m-25 1h11m2 0h10m1 0h1m-25 1h21m-21 1h1m1 0h19m-18 1h13m1 0h1m2 0h1m-20 1h1m1 0h14m-14 1h3m2 0h1m1 0h2m3 0h1m-7 1h1" stroke="#2cc84c"/>
<path d="M0 0m38 60h1m-8 1h3m1 0h4m-10 1h3m1 0h2m1 0h1m1 0h1m-10 1h2m3 0h1m3 0h1m-11 1h1m8 0h2m-13 1h4m7 0h1m1 0h1m-13 1h2m8 0h1m-12 1h4m4 0h4m-12 1h3m4 0h2m-8 1h3m1 0h2m2 0h1m-7 1h2" stroke="#7cd428"/>
<path d="M0 0m32 62h1m2 0h1m1 0h1m-7 1h2m4 0h1m-9 1h1m4 0h1m-3 1h1m2 0h2m-8 1h1m5 0h2m-8 2h1m1 0h2m-3 1h1" stroke="#d0d418"/>
<path d="M0 0m33 63h1m1 0h2m-7 1h4m1 0h2m-7 1h2m1 0h2m-5 1h5m-5 1h4m-4 1h1" stroke="#f0a018"/>
</g>
<g transform="scale(0.5) translate(0 .5)">
<path d="M0 0m151 18h1m-12 1h1m-6 1h1m-6 1h1m17 0h1m-14 1h1m4 5h1m-24 1h1m14 0h1m10 0h1m9 0h1m-29 1h1m11 0h1m-15 2h1m3 0h1m5 0h1m8 0h1m-21 1h1m23 0h1m5 0h1m-20 1h1m3 0h1m5 0h1m-23 1h1m16 0h2m2 0h1m-15 1h1m1 0h1m4 0h1m3 0h1m-16 1h1m6 0h2m4 0h1m9 0h1m-24 1h3m6 0h3m3 0h1m1 0h2m-23 1h1m5 0h1m4 0h1m1 0h3m1 0h2m7 0h1m1 0h1m-29 1h1m1 0h2m1 0h2m1 0h1m1 0h2m5 0h1m-15 1h1m1 0h1m2 0h4m1 0h2m1 0h1m5 0h1m5 0h1m-30 1h1m6 0h2m3 0h1m4 0h3m-24 1h1m10 0h1m3 0h2m1 0h1m2 0h1m-22 1h1m11 0h4m1 0h1m1 0h1m1 0h1m1 0h2m-24 1h1m4 0h1m1 0h1m1 0h1m1 0h1m6 0h1m1 0h1m1 0h2m1 0h1m-25 1h1m2 0h2m1 0h4m9 0h2m1 0h1m2 0h1m-28 1h1m6 0h2m13 0h3m-27 1h1m3 0h1m2 0h3m6 0h2m2 0h1m1 0h1m1 0h1m1 0h1m-22 1h2m9 0h1m2 0h3m1 0h1m6 0h1m-34 1h1m3 0h1m3 0h1m1 0h2m11 0h1m1 0h3m2 0h1m-28 1h1m5 0h1m5 0h1m8 0h1m2 0h1m-31 1h1m8 0h6m3 0h1m8 0h3m6 0h1m-36 1h1m10 0h1m16 0h1m1 0h1m-30 1h1m4 0h1m1 0h2m1 0h1m12 0h2m-19 1h1m1 0h1m2 0h1m14 0h1m1 0h1m-42 1h1m7 0h1m8 0h2m1 0h2m17 0h1m-35 1h1m5 0h2m6 0h1m16 0h1m4 0h1m-34 1h1m8 0h1m1 0h3m14 0h1m13 0h1m-36 1h2m19 0h1m1 0h1m17 0h1m-45 1h1m1 0h1m2 0h1m1 0h1m2 0h1m9 0h1m1 0h4m1 0h1m1 0h1m-29 1h1m1 0h3m2 0h2m12 0h2m4 0h3m-36 1h1m2 0h1m7 0h3m1 0h1m10 0h1m2 0h1m3 0h1m-41 1h1m7 0h1m8 0h1m6 0h1m6 0h1m2 0h2m1 0h2m5 0h1m-28 1h4m10 0h1m5 0h3m-35 1h1m8 0h3m3 0h2m2 0h1m5 0h1m2 0h1m1 0h1m1 0h1m-35 1h1m8 0h1m2 0h1m1 0h1m2 0h1m12 0h1m2 0h3m-35 1h1m8 0h2m3 0h2m1 0h4m3 0h1m2 0h5m4 0h1m-40 1h2m8 0h2m3 0h1m1 0h1m2 0h1m1 0h2m2 0h4m2 0h1m2 0h1m1 0h1m-33 1h1m6 0h1m2 0h1m1 0h1m2 0h4m1 0h1m1 0h1m2 0h1m5 0h1m-32 1h1m6 0h1m2 0h1m2 0h3m3 0h2m3 0h1m17 0h1m-46 1h1m5 0h2m2 0h1m4 0h1m1 0h1m1 0h4m4 0h3m2 0h1m1 0h1m2 0h1m-34 1h2m3 0h1m3 0h1m1 0h2m2 0h1m1 0h1m2 0h3m7 0h2m6 0h1m-53 1h1m10 0h1m2 0h2m5 0h1m6 0h1m3 0h1m3 0h1m3 0h1m2 0h1m-44 1h1m14 0h2m2 0h1m4 0h1m2 0h1m1 0h2m2 0h1m1 0h1m3 0h2m18 0h1m-76 1h1m21 0h2m6 0h1m2 0h1m4 0h3m1 0h3m2 0h1m1 0h1m4 0h1m-36 1h1m5 0h1m12 0h1m2 0h2m1 0h2m1 0h1m2 0h2m3 0h1m8 0h1m-50 1h1m7 0h1m4 0h1m1 0h2m1 0h2m5 0h1m2 0h2m6 0h1m-32 1h1m2 0h1m3 0h1m4 0h1m1 0h1m2 0h4m4 0h1m2 0h1m9 0h1m-50 1h1m1 0h1m3 0h1m3 0h1m3 0h1m9 0h1m2 0h2m1 0h1m2 0h1m1 0h1m6 0h1m-37 1h1m4 0h3m8 0h1m1 0h1m7 0h1m-33 1h1m4 0h1m13 0h3m1 0h1m3 0h1m1 0h1m5 0h2m-33 1h1m5 0h1m4 0h1m9 0h1m1 0h3m1 0h1m7 0h1m2 0h1m1 0h1m-34 1h1m3 0h1m1 0h1m1 0h2m2 0h1m8 0h1m2 0h1m1 0h1m12 0h1m-58 1h1m2 0h1m7 0h1m2 0h2m3 0h1m9 0h2m1 0h2m1 0h4m4 0h1m2 0h1m-40 1h1m5 0h1m1 0h1m1 0h2m2 0h1m1 0h2m1 0h2m5 0h1m1 0h2m3 0h1m1 0h2m-46 1h1m8 0h1m4 0h1m6 0h1m5 0h1m4 0h1m7 0h1m5 0h2m6 0h1m-51 1h1m1 0h1m4 0h1m2 0h2m3 0h2m1 0h1m1 0h1m3 0h4m2 0h1m1 0h1m2 0h1m14 0h1m-59 1h1m2 0h2m10 0h1m1 0h1m6 0h2m1 0h2m5 0h2m1 0h1m5 0h1m12 0h1m-58 1h1m2 0h1m11 0h1m1 0h1m4 0h1m3 0h1m7 0h1m1 0h1m1 0h1m2 0h1m3 0h2m2 0h1m-45 1h1m7 0h4m8 0h2m1 0h1m3 0h3m6 0h1m2 0h2m1 0h1m-45 1h1m1 0h2m2 0h1m1 0h1m2 0h1m3 0h1m1 0h1m1 0h1m1 0h1m1 0h2m1 0h1m3 0h1m1 0h2m3 0h1m6 0h1m1 0h2m1 0h1m1 0h1m-62 1h1m4 0h1m1 0h1m2 0h1m3 0h1m3 0h2m1 0h5m1 0h1m1 0h1m4 0h2m1 0h2m7 0h1m2 0h2m2 0h2m3 0h1m9 0h1m-60 1h5m1 0h1m3 0h1m1 0h1m1 0h1m1 0h3m3 0h3m4 0h1m1 0h1m1 0h1m7 0h2m9 0h1m-60 1h1m1 0h1m2 0h1m6 0h3m1 0h1m1 0h3m7 0h1m3 0h2m4 0h1m1 0h1m12 0h1m6 0h1m-62 1h1m4 0h2m4 0h2m5 0h1m2 0h1m2 0h2m1 0h1m1 0h1m6 0h1m1 0h1m1 0h1m4 0h1m12 0h2m-59 1h1m1 0h1m1 0h3m1 0h2m3 0h3m1 0h2m1 0h1m2 0h1m1 0h2m1 0h2m1 0h1m3 0h2m1 0h1m2 0h1m5 0h1m4 0h2m23 0h1m-84 1h1m3 0h1m2 0h1m3 0h1m1 0h2m2 0h1m2 0h2m1 0h1m1 0h3m3 0h1m1 0h2m1 0h1m1 0h2m2 0h1m2 0h2m3 0h1m6 0h2m6 0h1m-61 1h4m1 0h2m1 0h1m1 0h2m1 0h1m2 0h1m1 0h1m2 0h3m7 0h2m1 0h4m1 0h1m3 0h2m2 0h2m4 0h1m4 0h1m-67 1h1m1 0h1m2 0h1m2 0h1m1 0h2m1 0h2m1 0h1m14 0h1m9 0h3m3 0h2m3 0h1m4 0h1m3 0h1m2 0h1m-65 1h1m3 0h2m2 0h1m3 0h4m11 0h1m3 0h1m8 0h2m2 0h3m2 0h1m1 0h5m6 0h1m17 0h1m-82 1h1m5 0h3m1 0h1m1 0h3m2 0h1m22 0h1m2 0h3m1 0h1m1 0h3m1 0h2m1 0h1m17 0h1m-81 1h3m3 0h1m5 0h1m1 0h4m1 0h1m3 0h1m21 0h1m1 0h1m1 0h1m4 0h1m1 0h2m2 0h2m3 0h1m1 0h3m-64 1h1m1 0h2m5 0h1m1 0h1m2 0h1m1 0h1m1 0h1m10 0h1m10 0h2m3 0h1m1 0h3m6 0h1m2 0h1m1 0h1m4 0h2m-76 1h1m6 0h2m2 0h2m8 0h4m1 0h1m20 0h3m3 0h2m1 0h1m6 0h2m2 0h1m1 0h1m-63 1h2m2 0h1m38 0h1m3 0h1m1 0h1m3 0h1m1 0h1m14 0h1m-77 1h1m2 0h1m45 0h1m2 0h2m1 0h1m2 0h3m2 0h1m8 0h1m2 0h1m-82 1h1m7 0h2m50 0h1m5 0h1m4 0h1m5 0h2m7 0h1m-87 1h1m2 0h1m2 0h1m2 0h2m49 0h1m6 0h1m2 0h4m1 0h1m3 0h1m-75 1h1m3 0h1m50 0h1m3 0h3m1 0h1m2 0h2m4 0h1m25 0h1m-111 1h1m7 0h2m2 0h1m2 0h1m54 0h1m1 0h1m1 0h1m4 0h1m17 0h1m-91 1h4m61 0h1m1 0h1m1 0h1m2 0h1m10 0h1m-81 1h1m2 0h2m55 0h1m1 0h1m1 0h5m3 0h1m1 0h1m3 0h1m4 0h1m33 0h1m-126 1h1m1 0h1m1 0h1m2 0h2m62 0h9m4 0h1m12 0h1m-96 1h3m4 0h2m60 0h1m2 0h2m6 0h1m-84 1h2m1 0h1m65 0h1m1 0h4m4 0h1m-81 1h1m1 0h5m64 0h3m2 0h1m3 0h1m2 0h1m9 0h1m-95 1h3m70 0h2m3 0h1m1 0h1m4 0h1m-88 1h1m1 0h1m73 0h3m2 0h1m1 0h1m5 0h1m17 0h1m-114 1h1m6 0h1m2 0h2m68 0h1m1 0h1m4 0h1m1 0h1m1 0h1m-86 1h1m4 0h1m66 0h2m1 0h1m1 0h1m1 0h2m2 0h1m10 0h1m39 0h1m-137 1h2m3 0h1m75 0h1m1 0h2m3 0h1m-107 1h1m10 0h2m3 0h1m3 0h3m75 0h2m1 0h1m1 0h1m6 0h1m1 0h1m-96 1h3m1 0h1m74 0h1m6 0h1m8 0h1m-101 1h1m3 0h1m4 0h1m74 0h1m2 0h1m4 0h3m33 0h1m-128 1h1m2 0h2m77 0h2m1 0h3m2 0h2m31 0h1m-131 1h2m1 0h2m2 0h2m84 0h2m1 0h1m2 0h1m20 0h1m7 0h1m-126 1h2m1 0h1m88 0h1m2 0h1m-95 1h1m1 0h3m81 0h2m2 0h1m1 0h3m-95 1h1m1 0h1m76 0h1m3 0h2m1 0h1m1 0h2m2 0h1m1 0h1m-100 1h1m2 0h2m2 0h1m79 0h1m2 0h1m1 0h2m4 0h1m1 0h1m1 0h1m-109 1h1m1 0h1m1 0h2m1 0h1m5 0h1m81 0h1m3 0h1m5 0h1m-102 1h1m2 0h4m83 0h2m2 0h1m2 0h2m5 0h1m-107 1h1m3 0h1m1 0h1m86 0h3m2 0h1m1 0h1m2 0h1m-105 1h1m3 0h2m-9 1h2m1 0h2m2 0h1m7 0h1m81 0h1m3 0h2m3 0h2m2 0h1m-111 1h1m3 0h1m3 0h1m5 0h1m77 0h1m8 0h1m1 0h1m1 0h1m-110 1h1m3 0h1m1 0h1m1 0h1m1 0h1m3 0h4m78 0h1m9 0h1m7 0h1m-115 1h1m3 0h1m2 0h2m1 0h1m2 0h1m4 0h2m78 0h3m7 0h1m-109 1h1m6 0h1m6 0h2m83 0h3m1 0h1m1 0h3m-101 1h2m2 0h1m1 0h1m1 0h1m82 0h2m2 0h1m6 0h2m-107 1h3m9 0h1m76 0h2m1 0h2m2 0h3m-104 1h1m1 0h2m1 0h2m3 0h2m2 0h2m78 0h1m3 0h2m1 0h1m1 0h5m2 0h1m-107 1h2m4 0h3m85 0h3m1 0h2m1 0h2m6 0h1m1 0h1m-114 1h1m2 0h1m1 0h3m4 0h1m1 0h1m76 0h3m1 0h1m1 0h2m2 0h1m2 0h1m39 0h1m-145 1h1m2 0h3m7 0h2m76 0h1m4 0h3m10 0h1m-112 1h1m1 0h1m2 0h1m6 0h4m77 0h1m6 0h1m1 0h1m2 0h1m-106 1h1m2 0h1m4 0h1m1 0h1m79 0h3m23 0h1m-114 1h1m1 0h1m1 0h1m2 0h1m79 0h1m1 0h2m2 0h3m3 0h2m1 0h1m2 0h1m1 0h1m3 0h1m-115 1h2m15 0h1m68 0h2m5 0h2m4 0h1m3 0h1m1 0h1m2 0h1m8 0h1m5 0h1m-123 1h1m9 0h1m76 0h2m2 0h1m3 0h1m2 0h1m1 0h2m7 0h1m-111 1h2m6 0h1m2 0h2m3 0h2m2 0h2m67 0h1m1 0h2m2 0h3m1 0h1m5 0h1m1 0h1m9 0h1m-118 1h1m3 0h1m2 0h1m2 0h2m1 0h1m5 0h1m63 0h1m1 0h1m2 0h1m1 0h1m3 0h3m3 0h2m1 0h2m4 0h1m-108 1h1m3 0h6m2 0h1m1 0h1m1 0h1m1 0h3m53 0h1m6 0h2m1 0h1m1 0h1m2 0h3m2 0h2m2 0h1m3 0h1m4 0h1m-107 1h2m1 0h1m5 0h1m1 0h5m1 0h1m62 0h4m3 0h1m4 0h1m26 0h1m-122 1h1m3 0h3m2 0h1m4 0h1m60 0h2m1 0h2m2 0h2m1 0h1m3 0h3m2 0h1m3 0h2m7 0h1m-108 1h5m1 0h1m4 0h1m10 0h1m2 0h1m50 0h1m1 0h1m2 0h1m3 0h1m2 0h2m1 0h2m11 0h1m11 0h1m-105 1h1m1 0h2m1 0h1m2 0h2m2 0h1m51 0h1m4 0h1m5 0h1m4 0h2m-86 1h2m5 0h1m2 0h1m1 0h2m2 0h1m47 0h2m3 0h1m1 0h2m1 0h1m15 0h2m1 0h1m5 0h1m-101 1h4m4 0h3m2 0h3m1 0h1m5 0h2m32 0h1m1 0h1m3 0h1m1 0h4m1 0h1m3 0h1m2 0h2m2 0h1m1 0h1m3 0h1m-84 1h1m2 0h1m3 0h2m2 0h2m2 0h1m3 0h1m1 0h1m32 0h1m1 0h1m1 0h3m4 0h3m2 0h1m2 0h3m2 0h1m1 0h1m3 0h1m-83 1h2m5 0h1m3 0h1m2 0h3m1 0h1m5 0h2m26 0h1m3 0h1m2 0h1m1 0h2m2 0h5m4 0h1m12 0h1m2 0h1m-104 1h1m14 0h1m2 0h1m2 0h1m2 0h1m3 0h5m5 0h2m13 0h1m6 0h1m1 0h1m3 0h1m4 0h2m2 0h1m13 0h2m1 0h1m2 0h1m-81 1h1m4 0h2m2 0h2m3 0h1m1 0h2m2 0h3m4 0h1m3 0h1m6 0h2m7 0h1m3 0h1m4 0h1m2 0h1m2 0h2m1 0h1m12 0h1m1 0h1m1 0h1m-82 1h1m3 0h1m2 0h1m3 0h1m3 0h1m1 0h1m5 0h2m2 0h1m1 0h1m8 0h3m4 0h2m3 0h1m10 0h1m2 0h3m6 0h2m1 0h2m-90 1h1m21 0h1m7 0h1m1 0h2m4 0h1m1 0h1m1 0h2m1 0h1m2 0h1m6 0h1m6 0h1m4 0h1m4 0h1m1 0h1m1 0h2m11 0h2m1 0h2m13 0h1m-90 1h2m1 0h1m2 0h1m2 0h1m6 0h1m4 0h1m2 0h3m3 0h1m2 0h1m1 0h1m2 0h1m1 0h1m4 0h2m1 0h1m3 0h1m11 0h1m-52 1h1m4 0h1m1 0h1m1 0h2m3 0h3m1 0h3m3 0h1m3 0h3m14 0h1m3 0h1m9 0h1m-74 1h1m3 0h1m7 0h1m5 0h1m8 0h1m4 0h1m6 0h1m3 0h1m4 0h2m14 0h1m-49 1h1m9 0h3m1 0h1m1 0h1m1 0h4m7 0h1m2 0h1m-57 1h1m12 0h1m5 0h1m1 0h1m4 0h1m1 0h1m7 0h1m3 0h2m7 0h1m4 0h2m1 0h1m3 0h1m14 0h1m-30 1h1m8 0h1m2 0h1m2 0h2m1 0h2m1 0h1m-42 1h1m16 0h2m1 0h1m7 0h2m2 0h2m12 0h1m1 0h1m-38 1h1m17 0h1m9 0h1m-16 1h1m7 0h1m3 0h1m1 0h1m5 0h1m12 0h1m6 0h1m-51 1h1m8 0h1m-1 1h1m38 0h1m-47 1h1m14 0h1m57 1h1m-26 1h1m-34 2h1" stroke="#2238e2"/>
<path d="M0 0m133 44h1m-7 1h1m2 0h2m-5 1h2m2 0h2m1 0h1m-8 1h2m2 0h2m2 1h1m-12 2h1m8 0h1m-8 1h2m4 0h2m-13 1h1m5 0h2m3 0h1m-13 1h2m4 0h1m1 0h1m-10 1h1m1 0h1m-4 1h3m13 0h1m-13 2h1m-4 1h1m1 0h1m6 0h2m-11 1h3m-4 1h5m3 0h3m-8 1h1m5 0h2m-7 1h2m-3 1h2m-2 1h1m1 0h1m4 0h1m-8 1h3m-2 1h1m-5 6h1m-49 21h1m18 3h1m-14 1h2m-7 1h1m3 0h2m11 0h1m14 0h1m-33 1h1m3 0h2m7 0h1m11 0h1m-19 1h2m4 0h2m2 0h2m-19 1h1m6 0h1m5 0h1m3 0h1m6 0h1m-31 1h1m14 0h1m3 0h2m-24 1h3m16 0h4m17 0h1m-37 1h3m17 0h2m5 0h1m-42 1h1m3 0h2m9 0h3m22 0h3m-44 1h1m7 0h1m14 0h1m15 0h5m-37 1h2m31 0h1m2 0h2m-42 1h1m34 0h1m11 0h2m-54 1h1m5 0h1m33 0h1m9 0h1m1 0h1m-56 1h1m44 0h1m11 0h1m-14 1h1m13 0h1m-58 1h1m4 0h1m47 0h1m1 0h2m-58 1h2m54 0h1m-1 1h1m-1 1h1m-63 1h1m-1 1h1m63 0h1m-69 1h2m62 0h3m-3 1h1m-70 1h1m65 0h1m1 0h1m0 2h1m4 0h1m-77 1h1m70 0h1m3 0h1m-77 1h1m1 0h1m0 1h1m72 0h3m-82 1h1m5 0h1m67 0h1m6 0h1m2 0h1m-85 1h1m4 0h2m-6 1h2m2 0h2m1 0h1m64 0h1m3 0h1m-80 1h1m3 0h1m-5 1h1m74 0h1m1 0h1m-81 1h3m76 0h1m2 0h1m-83 1h2m4 0h2m-12 1h2m2 0h1m81 0h2m-86 1h2m1 0h1m1 0h1m74 0h2m2 0h1m-85 1h1m4 0h1m72 0h1m5 0h4m-90 1h1m7 0h1m71 0h2m5 0h1m-85 1h2m2 0h3m67 0h1m2 0h1m1 0h2m-81 1h1m79 0h1m-83 1h1m80 0h2m-82 1h1m3 0h1m72 0h1m2 0h1m-85 1h2m6 0h2m70 0h1m-80 1h1m3 0h3m64 0h1m8 0h2m-78 1h2m65 0h1m-68 1h1m64 0h1m-66 1h1m63 0h1m2 1h1m1 0h1m1 0h2m-6 1h2m1 0h2m-76 1h2m6 0h1m-9 1h3m5 0h1m3 0h1m68 0h2m-83 1h1m70 0h2m-68 1h1m-7 1h2m60 0h2m1 0h1m-56 1h1m1 0h2m46 0h2m1 0h1m1 0h1m4 0h1m-66 1h1m4 0h2m2 0h2m3 0h1m33 0h1m6 0h1m16 0h1m-59 1h1m32 0h2m4 0h2m1 0h1m-51 1h2m2 0h1m2 0h1m5 0h1m35 0h1m5 0h1m1 0h1m-55 1h2m3 0h1m5 0h1m41 0h1m2 0h1m-57 1h1m3 0h1m9 0h1m7 0h2m14 0h1m-25 1h2m6 0h1m1 0h1m18 0h1m-30 1h3m6 0h1m4 0h2m1 0h1m1 0h2m1 0h2m-22 1h2m5 0h1m7 0h3m8 0h1m-27 1h1m2 0h2m3 0h2m5 0h1m18 0h1m-40 1h1m7 0h1m4 0h1m0 1h2m15 0h1" stroke="#1c40e4"/>
<path d="M0 0m127 50h1m-2 2h1m-5 1h1m6 0h1m-8 3h1m0 4h1m-1 1h1m-47 37h1m10 1h1m-9 4h1m-3 1h2m-1 1h1m8 0h1m-24 1h1m1 0h1m-4 1h3m7 0h2m16 0h1m5 2h1m-8 2h1m-39 2h1m47 0h1m-5 3h1m-61 3h1m58 1h1m0 1h1m3 2h1m-74 2h2m66 1h2m-1 1h1m0 4h1m1 0h2m-75 2h1m68 1h2m-69 4h1m-2 1h2m60 1h2m-2 1h1m-4 2h1m-61 1h1m55 0h1m-57 1h1m56 0h2m-59 3h1m2 0h2m46 2h1m5 0h1m-6 1h2m-48 1h1m40 0h1m-50 1h1m6 0h1m39 1h1m2 0h1m-44 1h1m-3 1h2m3 0h1m12 0h1m18 0h1m-37 1h1m2 0h1m3 0h1m10 0h1m16 0h2m-12 1h2m13 0h1m-19 1h1m3 0h1m-8 1h1m7 0h1" stroke="#1f5aea"/>
<path d="M0 0m89 105h1m-23 2h1m1 1h1m28 0h1m-31 1h1m27 8h1m-55 3h2m54 7h1m-68 2h3m58 8h1m-67 7h1m55 0h1m6 2h1m-68 2h1m3 0h1m53 2h2m-49 3h1m23 0h1m-7 1h1m-2 1h1m-17 1h1m14 0h1m3 2h1" stroke="#1c9cd8"/>
<path d="M0 0m88 108h1m7 8h1m-54 5h1m-13 28h1m24 3h1" stroke="#18c088"/>
<path d="M0 0m68 108h1m-13 45h1m-7 1h1" stroke="#2cc84c"/>
</g>
</g>
<rect x="607.7" y="391.6" width="97" height="95.7" fill="none" stroke="#000" stroke-width="1.5"/>
<line x1="660.3" y1="391.6" x2="660.3" y2="487.3" stroke="#000" stroke-width="1.3"/>
<line x1="607.7" y1="432.8" x2="704.7" y2="432.8" stroke="#000" stroke-width="1.3"/>
<line x1="611.8" y1="487.3" x2="611.8" y2="488.9" stroke="#444" stroke-width="0.8"/>
<line x1="615.9" y1="487.3" x2="615.9" y2="488.9" stroke="#444" stroke-width="0.8"/>
<line x1="620" y1="487.3" x2="620" y2="488.9" stroke="#444" stroke-width="0.8"/>
<line x1="624.1" y1="487.3" x2="624.1" y2="488.9" stroke="#444" stroke-width="0.8"/>
<line x1="628.2" y1="487.3" x2="628.2" y2="488.9" stroke="#444" stroke-width="0.8"/>
<line x1="632.3" y1="487.3" x2="632.3" y2="489.9" stroke="#444" stroke-width="0.8"/>
<line x1="636.4" y1="487.3" x2="636.4" y2="488.9" stroke="#444" stroke-width="0.8"/>
<line x1="640.5" y1="487.3" x2="640.5" y2="488.9" stroke="#444" stroke-width="0.8"/>
<line x1="644.6" y1="487.3" x2="644.6" y2="488.9" stroke="#444" stroke-width="0.8"/>
<line x1="648.7" y1="487.3" x2="648.7" y2="488.9" stroke="#444" stroke-width="0.8"/>
<line x1="652.8" y1="487.3" x2="652.8" y2="488.9" stroke="#444" stroke-width="0.8"/>
<line x1="656.9" y1="487.3" x2="656.9" y2="489.9" stroke="#444" stroke-width="0.8"/>
<line x1="661" y1="487.3" x2="661" y2="488.9" stroke="#444" stroke-width="0.8"/>
<line x1="665.1" y1="487.3" x2="665.1" y2="488.9" stroke="#444" stroke-width="0.8"/>
<line x1="669.2" y1="487.3" x2="669.2" y2="488.9" stroke="#444" stroke-width="0.8"/>
<line x1="673.3" y1="487.3" x2="673.3" y2="488.9" stroke="#444" stroke-width="0.8"/>
<line x1="677.4" y1="487.3" x2="677.4" y2="488.9" stroke="#444" stroke-width="0.8"/>
<line x1="681.5" y1="487.3" x2="681.5" y2="489.9" stroke="#444" stroke-width="0.8"/>
<line x1="685.6" y1="487.3" x2="685.6" y2="488.9" stroke="#444" stroke-width="0.8"/>
<line x1="689.7" y1="487.3" x2="689.7" y2="488.9" stroke="#444" stroke-width="0.8"/>
<line x1="693.8" y1="487.3" x2="693.8" y2="488.9" stroke="#444" stroke-width="0.8"/>
<line x1="697.9" y1="487.3" x2="697.9" y2="488.9" stroke="#444" stroke-width="0.8"/>
<line x1="702" y1="487.3" x2="702" y2="488.9" stroke="#444" stroke-width="0.8"/>
<line x1="604.7" y1="407" x2="607.7" y2="407" stroke="#333" stroke-width="1"/>
<line x1="604.7" y1="458" x2="607.7" y2="458" stroke="#333" stroke-width="1"/>
<text x="611.7" y="407.4" font-size="15.6" textLength="30.4" lengthAdjust="spacingAndGlyphs">0.97</text>
<text x="699.1" y="407.4" font-size="15.6" text-anchor="end" textLength="31" lengthAdjust="spacingAndGlyphs">3.84</text>
<text x="699.1" y="481.4" font-size="15.6" text-anchor="end" textLength="31" lengthAdjust="spacingAndGlyphs">2.06</text>
<g transform="translate(706 391)" fill="none" stroke-width="1">
<g shape-rendering="crispEdges" transform="translate(0 .5)">
<path d="M0 0m60 39h1m-5 2h1m-5 3h1m5 0h1m-17 1h1m16 0h1m-14 1h1m6 0h2m1 0h2m-15 1h1m2 0h1m11 0h1m-20 1h2m3 0h2m11 0h1m-23 1h1m-4 1h1m2 0h1m1 0h1m-5 1h1m30 0h1m-32 1h1m-3 1h1m30 1h1m-3 1h2m1 3h1m-3 1h1m-46 4h1m-2 1h1m-1 2h1m43 0h1m-3 3h2m-46 2h1m40 0h1m3 0h1m1 0h1m-49 2h2m39 0h1m-39 1h2m-3 1h1m1 0h1m33 0h1m4 0h1m-5 1h1m-37 1h1m35 0h1m-34 1h1m1 0h2m29 0h1m-11 1h1m2 0h2m1 0h1m-22 1h1m8 0h1m1 0h1m-1 1h1m2 0h1m5 0h1m-12 1h1m2 0h1" stroke="#2238e2"/>
<path d="M0 0m52 46h1m-5 1h1m4 0h1m1 0h1m3 0h1m-14 1h1m3 0h1m1 0h1m5 0h2m-19 1h1m4 0h1m1 0h1m3 0h3m1 0h5m-25 1h1m2 0h3m16 0h2m-26 1h2m1 0h1m2 0h1m-5 1h1m-7 1h1m1 0h1m1 0h1m24 0h1m-1 1h2m-33 1h2m29 0h1m-34 1h1m1 0h1m29 0h3m-37 1h1m-1 2h1m-4 1h1m-1 1h2m36 0h1m-40 1h2m38 0h1m-43 1h1m39 0h1m-41 1h4m36 0h1m-42 1h2m39 0h2m-2 1h1m-44 1h4m38 0h1m-43 1h3m38 0h1m-44 1h1m1 0h2m-1 1h2m36 0h1m-40 1h1m2 0h1m-10 1h1m5 0h2m35 0h1m-6 1h1m-31 1h1m1 0h1m27 0h1m2 0h1m1 0h1m-6 1h2m-26 1h1m21 0h2m-26 1h1m4 0h1m2 0h1m10 0h2m3 0h2m-24 1h2m13 0h1m2 0h1m-13 1h5m2 0h1m1 0h1m3 0h2m-15 1h1m10 0h1m-7 1h1" stroke="#1c40e4"/>
<path d="M0 0m54 48h1m-5 1h2m-10 1h2m1 0h3m1 0h6m1 0h1m-21 1h1m1 0h2m3 0h1m3 0h2m2 0h1m2 0h2m2 0h1m-22 1h1m4 0h1m3 0h1m7 0h1m1 0h2m2 0h1m-28 1h1m2 0h1m18 0h4m-26 1h1m22 0h2m-27 1h2m23 0h3m-29 1h3m24 0h1m3 0h1m-35 1h1m29 0h1m-32 1h2m31 0h1m-35 1h1m31 0h2m1 0h1m-38 1h1m33 0h1m1 0h2m-38 1h1m32 0h3m-37 1h2m34 0h1m-40 1h1m37 1h1m-39 1h1m1 0h1m34 0h1m-40 1h1m1 0h1m35 0h1m1 0h1m-39 1h2m-3 1h2m33 0h3m-38 1h4m30 0h3m-37 1h1m31 0h4m-35 1h1m31 0h1m-35 1h4m27 0h1m1 0h1m-34 1h3m26 0h1m1 0h1m-28 1h1m24 0h1m-29 1h2m1 0h1m19 0h1m2 0h1m1 0h1m-26 1h1m4 0h1m8 0h1m3 0h6m-22 1h1m1 0h1m1 0h1m2 0h2m2 0h3m6 0h1m-18 1h3m1 0h8m1 0h2m-7 1h1" stroke="#1f5aea"/>
<path d="M0 0m55 50h1m-15 1h1m3 0h1m4 0h1m5 0h1m-19 1h2m1 0h1m1 0h3m4 0h4m-17 1h2m8 0h1m5 0h2m-20 1h2m16 0h1m-21 1h1m21 0h1m-26 2h1m-3 1h1m28 0h2m-33 1h1m29 0h1m-1 3h1m-35 2h1m32 0h1m-36 2h1m33 0h1m-34 1h1m32 0h1m-35 1h2m30 0h1m-30 1h1m26 0h1m-32 1h2m1 1h1m24 0h4m-30 1h1m25 0h1m-28 1h1m6 1h1m15 0h2m-21 1h1m14 0h2m1 0h1m-14 1h2m2 0h1m3 0h1m-5 1h1" stroke="#1c9cd8"/>
<path d="M0 0m40 52h1m6 0h3m-10 1h1m1 0h5m1 0h1m1 0h3m-19 1h1m2 0h4m6 0h1m1 0h1m1 0h2m1 0h1m-21 1h2m1 0h2m10 0h1m3 0h2m-22 1h1m20 0h1m1 0h1m-26 1h2m21 0h3m-28 1h1m24 0h3m-30 1h3m24 0h1m-28 1h1m28 0h1m-33 1h4m26 0h2m-32 1h2m1 0h1m26 0h2m-33 1h1m30 0h1m1 0h1m-34 1h2m29 0h1m-33 1h1m31 0h1m-33 1h1m-1 1h1m27 0h4m-32 1h2m24 0h4m-30 1h1m26 0h1m1 0h1m-31 1h1m26 0h1m-29 1h2m1 0h1m22 0h1m-25 1h3m18 0h2m-24 1h6m17 0h2m-22 1h3m1 0h1m5 0h1m2 0h6m-21 1h1m2 0h5m3 0h1m1 0h4m4 0h1m-16 1h1m2 0h2m1 0h1m1 0h1" stroke="#18c088"/>
<path d="M0 0m39 53h1m9 0h1m-9 1h6m1 0h1m1 0h1m-12 1h10m1 0h3m-19 1h20m1 0h1m-23 1h21m-24 1h24m-24 1h13m1 0h10m1 0h1m-30 1h1m1 0h10m7 0h11m-28 1h7m11 0h1m1 0h6m-28 1h1m1 0h7m12 0h7m-30 1h10m13 0h7m-29 1h8m15 0h6m-31 1h9m15 0h7m-31 1h9m12 0h9m-30 1h8m1 0h2m9 0h7m-26 1h9m4 0h1m1 0h3m1 0h5m-24 1h9m1 0h1m2 0h12m-27 1h26m-24 1h22m-20 1h17m2 0h1m-19 1h17m-15 1h5m1 0h2m-7 1h3m1 0h1" stroke="#2cc84c"/>
<path d="M0 0m43 59h1m-6 1h7m-10 1h5m2 0h2m3 0h1m-13 1h4m5 0h1m1 0h1m-13 1h1m10 0h2m-14 1h3m9 0h3m-16 1h3m8 0h4m-15 1h4m5 0h3m-13 1h1m2 0h3m2 0h3m-9 1h4m1 0h1m3 0h1m-10 1h1m1 0h2" stroke="#7cd428"/>
<path d="M0 0m40 61h1m3 0h2m-7 1h1m2 0h2m1 0h1m-11 1h2m-1 1h1m5 0h3m-10 1h1m6 0h1m-7 1h2m-1 1h2m3 0h1" stroke="#d0d418"/>
<path d="M0 0m41 61h1m-2 1h2m-5 1h8m-8 1h5m-6 1h6m-4 1h3" stroke="#f0a018"/>
</g>
<g transform="scale(0.5) translate(0 .5)">
<path d="M0 0m167 2h1m-15 3h1m-6 3h1m-9 2h1m11 3h1m1 1h1m6 0h1m-19 1h1m5 1h1m2 0h1m-10 2h1m3 0h2m5 0h1m-8 2h1m5 0h1m-10 1h1m7 1h1m-20 1h1m8 0h1m1 0h2m-10 1h1m5 1h2m8 0h1m-16 1h1m4 0h2m9 0h1m-21 1h2m11 0h2m-11 1h1m10 0h2m-18 1h1m1 0h1m10 0h1m3 0h1m-14 1h1m9 0h1m3 0h2m-21 1h1m1 0h1m18 0h1m-18 1h1m1 0h2m1 0h1m10 0h1m-21 1h1m5 0h1m8 1h1m-8 1h1m8 0h1m6 0h1m-28 1h1m9 0h1m2 0h1m-9 1h1m2 0h2m1 0h1m10 0h1m-26 1h1m6 0h2m5 0h1m3 0h1m3 0h1m-20 1h1m8 0h1m1 0h2m1 0h1m5 0h1m-21 1h1m5 0h1m2 0h1m2 0h1m12 0h1m-34 1h1m8 0h1m3 0h1m6 0h1m-17 1h1m2 0h1m2 0h1m8 0h1m-18 1h2m8 0h1m1 0h1m1 0h2m8 0h1m-26 1h1m2 0h3m1 0h1m2 0h2m4 0h1m-19 1h1m15 0h2m2 0h1m-10 1h2m1 0h1m2 0h3m-17 1h1m3 0h2m1 0h1m5 0h1m-19 1h2m5 0h1m5 0h1m6 0h1m1 0h1m-23 1h1m10 0h1m11 0h1m-24 1h1m1 0h4m2 0h1m4 0h1m1 0h1m1 0h1m2 0h1m5 0h1m-22 1h1m2 0h1m1 0h1m1 0h1m6 0h2m3 0h1m-28 1h1m14 0h2m1 0h1m-15 1h1m7 0h1m4 0h1m13 0h1m-24 1h1m4 0h2m3 0h1m6 0h1m-23 1h2m6 0h1m1 0h1m4 0h1m9 0h1m-25 1h1m1 0h1m1 0h1m1 0h1m1 0h1m2 0h1m1 0h1m-19 1h1m3 0h1m1 0h1m1 0h2m9 0h1m-11 1h1m2 0h1m6 0h1m-21 1h2m2 0h1m3 0h2m2 0h2m-11 1h2m6 0h2m5 0h1m-11 1h1m3 0h3m2 0h1m7 0h1m-24 1h2m7 0h1m3 0h1m7 0h2m-24 1h1m5 0h2m-11 1h2m5 0h1m2 0h1m2 0h1m3 0h1m1 0h1m3 0h1m-20 1h1m7 0h1m1 0h1m1 0h1m-8 1h1m2 0h2m1 0h1m1 0h1m-17 1h1m3 0h1m2 0h1m5 0h1m1 0h1m-23 1h1m7 0h1m1 0h1m4 0h2m8 0h1m1 0h1m-21 1h1m3 0h1m2 0h1m1 0h1m1 0h1m-13 1h2m-2 1h1m3 0h1m1 0h1m2 0h1m3 0h1m1 0h2m-32 1h1m15 0h1m4 0h3m2 0h1m3 0h1m2 0h1m1 0h1m10 0h1m-36 1h1m2 0h1m2 0h1m5 0h1m6 0h1m1 0h1m15 0h1m-37 1h2m1 0h3m3 0h2m20 0h1m-28 1h2m6 0h1m3 0h3m-16 1h1m3 0h1m2 0h1m1 0h2m4 0h2m21 0h1m-49 1h1m9 0h1m5 0h1m6 0h1m3 0h1m1 0h1m-27 1h1m2 0h3m5 0h2m1 0h1m4 0h1m1 0h1m12 0h1m-36 1h2m3 0h1m1 0h1m1 0h2m2 0h1m6 0h1m2 0h1m6 0h1m3 0h1m-35 1h6m1 0h1m2 0h4m10 0h1m3 0h1m-39 1h1m1 0h2m9 0h2m1 0h1m1 0h1m4 0h1m4 0h2m2 0h1m4 0h1m1 0h1m-34 1h2m1 0h3m10 0h1m2 0h1m1 0h1m1 0h2m1 0h2m2 0h1m11 0h1m14 0h1m-67 1h1m1 0h2m9 0h1m3 0h1m1 0h1m1 0h1m4 0h1m11 0h1m-47 1h1m16 0h2m4 0h2m1 0h1m2 0h1m1 0h2m1 0h3m4 0h3m1 0h1m4 0h1m21 0h1m-64 1h1m3 0h2m3 0h1m3 0h1m1 0h1m3 0h1m1 0h2m1 0h3m2 0h3m2 0h1m5 0h1m4 0h1m11 0h1m-67 1h1m1 0h1m1 0h1m14 0h1m2 0h3m1 0h1m3 0h1m8 0h1m1 0h2m2 0h2m2 0h1m5 0h1m-48 1h1m17 0h2m1 0h3m1 0h2m1 0h2m1 0h1m3 0h1m1 0h1m11 0h1m14 0h1m-75 1h1m8 0h2m1 0h3m3 0h3m1 0h1m7 0h3m1 0h1m4 0h2m1 0h1m1 0h1m8 0h1m-56 1h2m8 0h1m9 0h1m4 0h1m6 0h2m1 0h1m2 0h1m2 0h1m1 0h1m2 0h2m3 0h1m-46 1h1m4 0h4m1 0h1m1 0h1m1 0h1m4 0h2m1 0h1m2 0h2m5 0h2m3 0h5m1 0h1m4 0h1m-51 1h1m1 0h1m4 0h1m9 0h3m7 0h1m1 0h1m1 0h1m2 0h1m1 0h1m3 0h1m1 0h1m4 0h2m1 0h1m5 0h1m-66 1h1m6 0h6m3 0h1m1 0h2m2 0h4m2 0h1m9 0h1m5 0h1m4 0h1m1 0h3m2 0h1m3 0h1m4 0h1m-72 1h1m10 0h1m4 0h1m1 0h1m1 0h1m3 0h1m6 0h1m2 0h1m17 0h1m3 0h2m3 0h1m1 0h1m3 0h1m3 0h1m-66 1h1m2 0h2m1 0h1m1 0h1m2 0h1m1 0h1m3 0h2m3 0h2m2 0h6m5 0h1m5 0h1m5 0h1m2 0h1m1 0h1m2 0h2m14 0h1m-78 1h1m1 0h1m3 0h1m16 0h1m9 0h1m10 0h1m11 0h2m1 0h1m19 0h1m-75 1h2m1 0h1m6 0h2m11 0h1m2 0h1m21 0h4m1 0h1m10 0h1m-73 1h1m4 0h3m1 0h1m1 0h2m5 0h3m1 0h1m23 0h1m8 0h1m1 0h1m2 0h1m6 0h1m5 0h1m3 0h2m1 0h1m-84 1h1m4 0h3m3 0h2m1 0h1m2 0h1m5 0h1m4 0h2m34 0h1m4 0h1m1 0h1m5 0h1m4 0h2m-84 1h1m1 0h1m1 0h1m2 0h1m2 0h1m1 0h2m1 0h2m43 0h5m2 0h2m2 0h1m5 0h1m-73 1h3m6 0h2m45 0h2m1 0h2m1 0h1m1 0h1m-66 1h1m2 0h1m52 0h1m4 0h5m-74 1h1m2 0h1m1 0h1m57 0h1m2 0h1m1 0h2m2 0h1m1 0h1m1 0h4m1 0h1m-79 1h2m1 0h1m58 0h1m1 0h2m3 0h1m-81 1h1m9 0h2m1 0h2m3 0h1m55 0h2m3 0h3m1 0h2m8 0h1m3 0h1m12 0h1m-100 1h4m60 0h1m1 0h1m1 0h1m2 0h1m9 0h1m1 0h1m5 0h1m-96 1h2m1 0h2m62 0h1m10 0h1m2 0h1m-90 1h1m7 0h2m1 0h1m63 0h1m1 0h1m1 0h1m1 0h5m2 0h1m2 0h1m6 0h1m-101 1h1m8 0h3m65 0h2m2 0h2m4 0h1m3 0h1m5 0h1m4 0h2m1 0h1m-108 1h1m4 0h1m1 0h1m1 0h1m2 0h1m1 0h1m1 0h1m66 0h1m1 0h2m17 0h1m-101 1h1m5 0h2m70 0h2m1 0h3m3 0h1m4 0h1m-94 1h2m4 0h4m68 0h1m7 0h2m4 0h2m-95 1h2m2 0h3m3 0h1m69 0h1m1 0h3m3 0h3m3 0h2m-97 1h1m1 0h2m1 0h1m1 0h1m74 0h2m2 0h1m2 0h1m1 0h2m1 0h1m-94 1h1m1 0h1m76 0h1m1 0h1m12 0h1m1 0h1m-101 1h1m3 0h2m76 0h2m2 0h1m1 0h1m4 0h2m-101 1h1m3 0h2m4 0h1m1 0h1m75 0h3m4 0h1m3 0h2m24 0h1m-120 1h1m1 0h1m2 0h2m74 0h1m1 0h1m3 0h1m7 0h1m3 0h1m-106 1h1m3 0h1m2 0h1m2 0h1m82 0h2m3 0h1m2 0h1m2 0h2m-106 1h2m4 0h3m82 0h2m3 0h1m4 0h1m9 0h1m3 0h1m-115 1h1m86 0h1m1 0h1m5 0h1m1 0h1m9 0h1m-113 1h1m4 0h1m4 0h1m87 0h3m7 0h1m-111 1h1m9 0h1m81 0h4m1 0h1m8 0h1m3 0h1m-107 1h1m2 0h4m84 0h1m3 0h1m5 0h1m1 0h1m-106 1h2m2 0h1m86 0h3m1 0h1m9 0h1m1 0h1m-112 1h1m4 0h1m1 0h2m1 0h1m80 0h1m5 0h1m1 0h1m1 0h1m1 0h1m2 0h1m8 0h1m-115 1h2m1 0h1m3 0h1m83 0h2m4 0h1m6 0h5m-110 1h1m14 0h1m78 0h2m1 0h1m1 0h1m1 0h1m2 0h1m-111 1h1m5 0h2m3 0h1m2 0h1m84 0h1m4 0h2m1 0h1m1 0h1m2 0h2m13 0h1m-123 1h1m5 0h1m87 0h1m1 0h1m4 0h1m1 0h1m1 0h1m5 0h1m-117 1h1m2 0h1m2 0h2m1 0h1m89 0h2m1 0h1m2 0h1m3 0h1m1 0h1m1 0h2m1 0h1m9 0h1m-134 1h1m6 0h1m2 0h2m1 0h5m1 0h1m88 0h2m3 0h2m3 0h1m9 0h1m8 0h1m-137 1h1m2 0h1m2 0h1m5 0h3m3 0h1m87 0h2m4 0h2m3 0h1m19 0h1m-129 1h2m2 0h1m3 0h1m87 0h1m2 0h1m2 0h1m2 0h2m1 0h1m20 0h1m-133 1h1m1 0h1m1 0h3m1 0h1m88 0h1m1 0h1m2 0h2m4 0h1m2 0h1m14 0h1m-130 1h2m1 0h3m4 0h1m89 0h2m1 0h2m3 0h1m1 0h1m6 0h1m3 0h1m6 0h1m-131 1h1m1 0h3m1 0h1m1 0h2m3 0h1m86 0h1m1 0h1m1 0h1m1 0h1m14 0h1m1 0h1m-126 1h1m2 0h2m1 0h2m1 0h2m92 0h1m3 0h1m1 0h3m1 0h1m2 0h1m9 0h1m-134 1h2m9 0h1m5 0h2m93 0h1m1 0h2m5 0h2m13 0h1m-130 1h1m3 0h1m4 0h2m86 0h1m1 0h1m4 0h1m2 0h2m3 0h1m14 0h1m-132 1h1m1 0h1m3 0h2m3 0h2m2 0h2m2 0h1m81 0h2m1 0h1m4 0h3m5 0h1m-108 1h6m84 0h1m1 0h1m1 0h5m4 0h1m13 0h1m-130 1h1m2 0h4m2 0h2m1 0h1m2 0h2m3 0h1m81 0h1m1 0h1m-107 1h3m1 0h1m3 0h1m2 0h1m1 0h1m1 0h1m3 0h1m84 0h4m1 0h1m3 0h1m2 0h3m-116 1h1m1 0h2m4 0h1m2 0h1m1 0h1m2 0h1m84 0h1m1 0h1m3 0h2m3 0h1m1 0h1m1 0h1m-122 1h1m10 0h3m2 0h1m4 0h1m2 0h1m81 0h2m6 0h2m5 0h1m-121 1h1m4 0h1m5 0h2m1 0h1m1 0h1m1 0h1m5 0h1m2 0h1m75 0h3m1 0h1m1 0h1m2 0h1m1 0h2m5 0h1m-122 1h2m5 0h1m6 0h3m1 0h1m4 0h1m3 0h1m75 0h1m3 0h2m6 0h1m-112 1h1m5 0h1m4 0h2m1 0h3m3 0h1m76 0h2m1 0h2m1 0h1m2 0h4m-111 1h1m6 0h3m2 0h1m2 0h2m1 0h2m79 0h1m2 0h1m2 0h3m1 0h2m10 0h1m-123 1h1m7 0h1m7 0h2m1 0h2m2 0h1m9 0h1m58 0h1m6 0h4m3 0h4m3 0h1m3 0h1m5 0h1m-120 1h1m4 0h3m1 0h1m1 0h4m4 0h1m3 0h1m67 0h3m1 0h1m1 0h1m5 0h1m3 0h1m10 0h1m-126 1h1m1 0h1m9 0h1m4 0h2m1 0h1m1 0h1m1 0h4m3 0h2m59 0h1m1 0h1m2 0h1m2 0h1m1 0h3m2 0h2m11 0h1m7 0h1m3 0h1m-118 1h1m2 0h2m2 0h3m3 0h2m1 0h1m59 0h1m2 0h3m6 0h1m2 0h2m2 0h2m3 0h1m2 0h1m-101 1h2m4 0h1m3 0h4m1 0h2m58 0h1m2 0h1m5 0h2m4 0h1m2 0h1m1 0h1m2 0h1m-105 1h1m7 0h1m1 0h1m2 0h1m4 0h1m9 0h1m49 0h1m6 0h1m2 0h1m3 0h3m6 0h1m-103 1h2m3 0h2m3 0h1m2 0h1m1 0h2m1 0h3m3 0h1m4 0h1m46 0h3m4 0h2m1 0h1m7 0h2m3 0h1m13 0h1m-104 1h1m1 0h1m4 0h2m4 0h2m5 0h1m44 0h1m2 0h4m2 0h1m5 0h4m22 0h1m2 0h1m-109 1h1m13 0h2m2 0h1m4 0h2m45 0h1m1 0h1m1 0h1m11 0h1m-91 1h1m6 0h1m3 0h1m5 0h2m1 0h2m1 0h4m1 0h4m2 0h1m40 0h2m3 0h1m1 0h1m6 0h1m3 0h1m2 0h1m12 0h1m-107 1h1m9 0h1m3 0h1m2 0h2m1 0h1m2 0h2m6 0h2m14 0h1m4 0h1m4 0h4m2 0h2m3 0h1m1 0h2m4 0h1m2 0h2m5 0h1m7 0h1m6 0h1m-106 1h1m23 0h1m3 0h3m8 0h1m1 0h2m3 0h1m1 0h1m3 0h1m2 0h2m4 0h1m1 0h1m1 0h1m2 0h3m3 0h2m3 0h2m3 0h1m1 0h1m-83 1h1m7 0h1m3 0h1m4 0h1m6 0h1m2 0h1m3 0h3m6 0h1m5 0h3m3 0h2m4 0h2m2 0h1m1 0h3m13 0h2m9 0h1m2 0h2m-83 1h1m2 0h1m3 0h1m4 0h3m2 0h1m3 0h2m1 0h2m1 0h1m4 0h3m6 0h1m2 0h1m1 0h6m5 0h1m1 0h2m1 0h1m1 0h2m2 0h2m3 0h1m20 0h1m-91 1h1m4 0h2m3 0h7m4 0h1m2 0h2m6 0h1m5 0h1m1 0h3m2 0h1m4 0h4m6 0h1m2 0h3m6 0h1m3 0h1m-77 1h1m6 0h1m5 0h1m4 0h1m1 0h1m6 0h1m3 0h1m1 0h1m4 0h1m5 0h4m8 0h1m2 0h1m3 0h1m2 0h2m10 0h1m-80 1h1m7 0h1m3 0h1m3 0h1m2 0h1m3 0h1m2 0h2m1 0h2m1 0h1m4 0h1m1 0h1m1 0h1m1 0h1m3 0h1m10 0h2m2 0h2m11 0h1m-69 1h1m2 0h1m6 0h1m3 0h1m1 0h1m1 0h1m1 0h1m1 0h1m5 0h1m1 0h1m1 0h1m1 0h1m4 0h3m6 0h1m7 0h1m16 0h1m-47 1h1m3 0h1m8 0h2m1 0h1m7 0h2m5 0h1m-51 1h1m8 0h2m2 0h1m6 0h1m6 0h1m3 0h2m2 0h1m26 0h1m-57 1h1m7 0h1m1 0h1m3 0h1m10 0h1m3 0h1m5 0h1m1 0h2m2 0h1m16 0h1m-35 1h1m9 0h1m9 0h1m3 0h1m-55 1h1m16 0h1m13 0h1m7 0h1m10 0h1m4 0h1m-62 1h1m21 0h1m29 0h1m-19 1h1m10 0h1m4 0h1m9 0h1m-22 2h1m9 0h1m2 0h1m3 0h1m-41 1h1m39 0h1m-47 1h1m28 12h1" stroke="#2238e2"/>
<path d="M0 0m114 88h1m-12 1h1m9 0h2m-9 1h1m4 0h4m-11 1h1m-2 1h1m6 1h2m-28 1h1m20 0h1m6 0h1m1 0h1m7 0h1m-40 1h2m9 0h1m3 0h1m4 0h3m2 0h2m3 0h2m5 0h2m1 0h1m-37 1h1m6 0h1m8 0h1m3 0h1m2 0h1m1 0h2m-32 1h1m11 0h5m3 0h2m3 0h1m4 0h1m-36 1h1m3 0h1m4 0h1m8 0h1m2 0h2m11 0h1m-33 1h3m2 0h5m1 0h1m3 0h2m-8 1h1m25 0h1m5 0h2m-55 1h1m8 0h1m12 0h1m24 0h2m-12 1h1m13 0h1m1 0h1m-23 1h1m20 0h2m-51 1h1m47 0h2m2 0h2m-59 1h1m2 0h2m1 0h1m39 0h1m4 0h2m1 0h1m3 0h1m4 0h1m-59 1h1m50 0h1m1 0h1m-4 1h1m-60 1h1m1 0h3m-6 1h2m1 0h1m52 0h1m-59 3h1m-5 1h2m68 0h1m-79 1h1m3 0h1m1 0h1m4 0h1m63 0h2m2 0h1m-76 1h3m67 0h3m-74 1h3m68 0h3m-75 1h1m-2 1h1m70 0h1m5 0h3m-80 1h1m70 0h2m4 0h1m-81 1h1m4 0h1m66 0h2m6 0h1m-81 1h2m76 0h3m-85 1h1m79 0h1m-81 1h2m78 0h1m-3 1h2m5 0h1m-87 1h1m74 0h2m7 0h1m-84 1h4m71 0h1m2 0h1m2 0h3m-89 1h1m85 1h1m-89 1h3m82 0h2m-87 1h1m77 1h1m8 0h1m-85 1h1m76 1h1m-3 1h1m1 0h1m2 0h2m-91 1h1m84 0h2m2 0h1m-91 1h2m87 0h1m-88 1h1m85 0h1m-87 1h2m4 0h1m76 0h3m-86 1h1m6 0h1m74 0h1m-84 1h1m82 0h1m-85 1h1m3 0h2m-3 1h1m2 0h1m2 0h1m69 0h3m-90 1h1m4 0h1m5 0h1m2 0h1m1 0h2m69 0h1m1 0h1m-81 1h1m1 0h1m73 0h1m2 0h1m8 0h1m-89 1h1m1 0h1m72 0h2m3 0h1m-78 1h2m66 0h7m-6 1h1m1 0h1m3 0h1m-69 1h1m58 0h2m1 0h1m3 0h1m-75 1h1m7 0h1m3 0h1m4 0h1m52 0h1m2 0h1m-72 1h1m3 0h1m62 0h1m4 0h1m-64 1h2m48 0h1m7 0h1m-81 1h1m14 0h1m3 0h3m1 0h1m52 0h1m2 0h1m-54 1h1m3 0h1m45 0h1m2 0h1m6 0h1m-64 1h1m6 0h1m7 0h1m22 0h1m4 0h2m3 0h1m11 0h1m3 0h1m-66 1h1m4 0h1m3 0h1m6 0h2m6 0h1m10 0h1m1 0h2m5 0h1m3 0h1m16 0h1m-56 1h2m32 0h2m1 0h4m-47 1h1m13 0h2m24 0h1m1 0h1m-41 1h1m5 0h1m1 0h4m16 0h2m2 0h3m-11 1h2m2 0h1m4 0h3m-36 1h1m7 0h2m4 0h1m3 0h4m11 0h1m-25 1h1m8 0h1m3 0h1m9 0h1m-20 1h2m2 0h1m3 0h1m11 0h1m-4 1h1" stroke="#1c40e4"/>
<path d="M0 0m99 99h1m11 0h1m-16 1h2m-2 1h1m23 0h1m-37 1h2m2 0h1m3 0h2m5 0h1m5 0h1m9 0h1m3 0h1m-36 1h1m7 0h1m6 0h1m6 0h2m-37 1h1m38 0h2m4 0h1m-46 2h1m48 0h1m-4 2h1m-56 1h1m1 0h1m46 0h1m5 0h1m-58 2h2m-3 1h1m-7 2h1m64 0h1m-1 1h2m-71 2h1m-4 2h1m1 1h1m0 1h1m67 0h1m-3 3h1m-72 2h1m-5 1h1m77 0h1m-6 1h1m4 0h1m-8 2h1m2 0h1m-74 1h1m68 0h1m3 0h2m-79 1h1m74 0h1m-76 1h1m76 3h1m-80 2h1m62 3h1m5 2h1m-7 1h1m-1 1h1m4 2h2m-69 1h1m3 0h2m5 0h1m54 0h1m-7 1h1m-51 1h2m43 0h1m-45 1h1m-8 1h1m3 0h1m3 0h2m-9 1h1m3 0h1m-1 1h1m31 0h1m-13 1h1m20 1h1m-36 1h1m18 1h1" stroke="#1f5aea"/>
<path d="M0 0m89 102h1m16 0h1m-2 1h1m8 0h2m-45 4h1m39 1h1m-51 2h1m10 0h2m-15 3h1m56 1h1m-61 1h2m58 0h2m-68 2h1m0 3h1m-2 1h2m-7 5h1m-1 1h1m68 0h1m-3 2h2m-74 2h1m1 1h2m62 0h1m6 0h1m-72 1h1m64 0h1m2 1h1m-12 7h1m-1 3h1m-50 1h1m41 0h1m-49 3h2m44 0h1m-47 1h1m2 0h1m43 0h1m-42 3h1m-1 1h2m24 0h2m-13 1h1m9 0h2m-3 1h1" stroke="#1c9cd8"/>
<path d="M0 0m89 103h1m-7 3h1m26 2h1m-39 3h1m-14 3h1m-2 1h1m51 11h2m-6 7h1m3 2h1m-12 5h1m-8 4h1m0 1h1m-3 3h1m-38 4h1m-1 1h1" stroke="#18c088"/>
<path d="M0 0m82 107h2m-25 8h1m50 12h1m-61 17h2m3 8h1m21 0h1" stroke="#2cc84c"/>
</g>
</g>
<rect x="706.9" y="391.6" width="97" height="95.7" fill="none" stroke="#000" stroke-width="1.5"/>
<line x1="759.8" y1="391.6" x2="759.8" y2="487.3" stroke="#000" stroke-width="1.3"/>
<line x1="706.9" y1="432.8" x2="803.9" y2="432.8" stroke="#000" stroke-width="1.3"/>
<line x1="711" y1="487.3" x2="711" y2="488.9" stroke="#444" stroke-width="0.8"/>
<line x1="715.1" y1="487.3" x2="715.1" y2="488.9" stroke="#444" stroke-width="0.8"/>
<line x1="719.2" y1="487.3" x2="719.2" y2="488.9" stroke="#444" stroke-width="0.8"/>
<line x1="723.3" y1="487.3" x2="723.3" y2="488.9" stroke="#444" stroke-width="0.8"/>
<line x1="727.4" y1="487.3" x2="727.4" y2="488.9" stroke="#444" stroke-width="0.8"/>
<line x1="731.5" y1="487.3" x2="731.5" y2="489.9" stroke="#444" stroke-width="0.8"/>
<line x1="735.6" y1="487.3" x2="735.6" y2="488.9" stroke="#444" stroke-width="0.8"/>
<line x1="739.7" y1="487.3" x2="739.7" y2="488.9" stroke="#444" stroke-width="0.8"/>
<line x1="743.8" y1="487.3" x2="743.8" y2="488.9" stroke="#444" stroke-width="0.8"/>
<line x1="747.9" y1="487.3" x2="747.9" y2="488.9" stroke="#444" stroke-width="0.8"/>
<line x1="752" y1="487.3" x2="752" y2="488.9" stroke="#444" stroke-width="0.8"/>
<line x1="756.1" y1="487.3" x2="756.1" y2="489.9" stroke="#444" stroke-width="0.8"/>
<line x1="760.2" y1="487.3" x2="760.2" y2="488.9" stroke="#444" stroke-width="0.8"/>
<line x1="764.3" y1="487.3" x2="764.3" y2="488.9" stroke="#444" stroke-width="0.8"/>
<line x1="768.4" y1="487.3" x2="768.4" y2="488.9" stroke="#444" stroke-width="0.8"/>
<line x1="772.5" y1="487.3" x2="772.5" y2="488.9" stroke="#444" stroke-width="0.8"/>
<line x1="776.6" y1="487.3" x2="776.6" y2="488.9" stroke="#444" stroke-width="0.8"/>
<line x1="780.7" y1="487.3" x2="780.7" y2="489.9" stroke="#444" stroke-width="0.8"/>
<line x1="784.8" y1="487.3" x2="784.8" y2="488.9" stroke="#444" stroke-width="0.8"/>
<line x1="788.9" y1="487.3" x2="788.9" y2="488.9" stroke="#444" stroke-width="0.8"/>
<line x1="793" y1="487.3" x2="793" y2="488.9" stroke="#444" stroke-width="0.8"/>
<line x1="797.1" y1="487.3" x2="797.1" y2="488.9" stroke="#444" stroke-width="0.8"/>
<line x1="801.2" y1="487.3" x2="801.2" y2="488.9" stroke="#444" stroke-width="0.8"/>
<line x1="703.9" y1="407" x2="706.9" y2="407" stroke="#333" stroke-width="1"/>
<line x1="703.9" y1="458" x2="706.9" y2="458" stroke="#333" stroke-width="1"/>
<text x="710.9" y="407.4" font-size="15.6" textLength="30.4" lengthAdjust="spacingAndGlyphs">0.80</text>
<text x="798.3" y="407.4" font-size="15.6" text-anchor="end" textLength="31" lengthAdjust="spacingAndGlyphs">2.54</text>
<text x="798.3" y="481.4" font-size="15.6" text-anchor="end" textLength="31" lengthAdjust="spacingAndGlyphs">6.84</text>
<g transform="translate(805 391)" fill="none" stroke-width="1">
<g shape-rendering="crispEdges" transform="translate(0 .5)">
<path d="M0 0m63 21h1m-1 1h1m-2 2h1m-9 1h1m-6 5h1m16 2h1m-24 1h1m4 1h1m1 1h1m-5 1h1m15 0h1m-12 1h1m8 0h1m0 1h1m-8 1h1m2 0h1m1 0h1m-2 1h1m2 0h1m-10 1h1m2 0h1m1 1h1m-10 1h1m6 0h1m2 0h1m5 0h1m-10 1h2m-2 1h1m3 0h1m-3 2h1m1 0h1m-3 1h1m-8 1h1m-3 1h1m14 0h1m-20 1h1m-2 1h1m11 0h1m3 0h1m-6 1h1m6 0h1m-3 2h1m-26 2h1m27 2h1m-36 1h2m33 1h1m-1 1h1m-2 1h2m-39 1h1m36 0h1m-41 1h1m38 2h2m-44 1h2m40 0h1m-44 1h1m44 0h1m-47 1h1m4 0h1m37 0h1m-1 2h1m-46 1h2m39 1h1m-41 1h1m1 1h1m2 0h1m34 0h1m-38 1h1m-4 1h1m32 0h1m3 1h2m-5 1h1m-26 1h1m16 0h2m-18 1h1m7 0h1m6 0h1m-12 1h2m4 0h2m4 0h2" stroke="#2238e2"/>
<path d="M0 0m59 24h1m1 0h1m1 1h1m-9 1h2m-2 1h1m-1 1h1m9 0h1m-1 1h1m-2 1h1m-1 1h1m0 1h1m-14 1h1m-2 1h2m10 0h1m-12 1h3m-1 1h1m6 0h1m-9 1h1m2 0h1m-5 1h1m4 7h1m-5 1h1m1 1h1m0 2h1m-3 1h4m-10 1h1m6 0h1m-5 1h1m4 0h2m-19 1h1m10 0h1m2 0h1m1 0h1m2 0h1m-12 1h4m-12 1h1m2 0h1m10 0h1m4 0h1m-23 1h3m3 0h1m12 0h2m1 0h1m-24 1h1m22 0h2m-28 1h1m24 0h1m2 0h1m-3 1h1m-29 1h1m29 0h1m-34 1h2m29 0h1m1 0h1m-38 2h1m3 0h1m31 0h2m-36 1h1m33 0h1m-38 1h1m36 0h1m-39 1h1m0 1h1m35 0h1m-38 1h1m-2 1h1m37 0h1m-40 1h1m36 0h1m-4 1h3m-37 1h1m33 0h1m-36 1h1m36 0h1m-38 1h1m34 0h1m-33 1h1m29 0h1m-34 1h2m0 1h1m28 0h1m-29 1h1m1 0h1m21 0h1m1 0h1m2 0h1m-23 1h1m10 0h1m3 0h2m-7 1h1m2 0h2m-17 1h2m3 0h3m4 0h1m5 0h1m-15 1h1m1 0h1m6 0h1" stroke="#1c40e4"/>
<path d="M0 0m60 24h1m-2 1h1m4 1h1m-9 1h1m-3 2h2m8 0h1m-11 1h2m-3 1h2m-2 2h2m8 0h1m-11 1h2m0 1h1m5 0h1m-7 1h2m1 0h2m-6 1h2m-1 1h1m2 0h1m-1 7h1m-4 3h1m-3 4h1m-3 1h1m-6 1h1m4 0h1m2 0h1m-11 1h2m1 0h1m2 0h1m3 0h1m2 0h1m-19 1h1m1 0h1m1 0h2m1 0h1m2 0h1m2 0h3m2 0h1m-22 1h3m11 0h1m1 0h1m1 0h2m-21 1h1m18 0h3m-26 1h2m1 0h2m-5 1h2m23 0h2m1 0h1m-30 1h3m-6 1h2m2 0h1m23 0h1m2 0h1m-33 1h1m30 0h2m-33 1h1m30 0h2m-33 1h1m29 0h1m-34 1h1m1 0h1m29 0h3m-34 1h2m29 0h3m-36 1h3m30 0h2m-35 1h2m32 0h2m-36 1h2m30 0h2m-34 1h1m2 0h1m-5 1h1m1 0h1m27 0h2m-33 1h2m1 0h1m27 0h1m-32 1h1m1 0h2m25 0h1m2 0h1m-30 1h1m24 0h3m-30 1h3m21 0h1m2 0h2m1 0h1m-29 1h1m2 0h2m16 0h2m-22 1h3m12 0h1m1 0h3m2 0h1m-23 1h1m2 0h1m1 0h1m2 0h1m3 0h1m4 0h1m-13 1h2m1 0h4m-8 1h1m5 0h1m4 0h1" stroke="#1f5aea"/>
<path d="M0 0m60 25h1m-3 1h1m3 0h1m-6 1h1m5 0h1m-1 1h1m-1 1h1m-1 1h1m-1 1h1m-9 1h1m7 0h1m-9 2h1m0 1h1m-11 20h1m2 0h1m1 0h2m-8 1h1m1 0h1m2 0h2m-13 1h2m5 0h1m2 0h1m1 0h1m1 0h1m2 0h1m-21 1h2m11 0h1m1 0h2m-17 1h1m15 0h1m1 0h1m1 0h1m-24 1h1m21 0h1m-27 1h1m3 0h1m22 0h1m-28 1h2m23 0h1m1 0h2m-31 2h1m28 0h1m-29 1h1m26 0h1m-30 1h1m-1 1h1m-2 1h1m28 0h1m-31 1h1m29 0h1m-31 1h1m-2 1h2m27 0h1m-29 1h1m-1 1h2m26 0h1m-29 1h2m22 0h1m-25 1h1m22 0h1m-4 1h1m-21 1h2m2 0h1m-2 1h2m3 0h1m1 0h2m1 0h1m-8 1h2m2 0h2" stroke="#1c9cd8"/>
<path d="M0 0m61 25h1m-3 1h2m-3 1h1m3 0h1m-6 1h1m4 0h1m-7 1h1m5 0h1m-8 2h1m0 1h1m5 1h1m-7 1h1m3 0h2m-4 1h2m-12 21h1m-8 1h5m1 0h2m-11 1h3m1 0h3m2 0h1m5 0h1m-17 1h2m3 0h2m5 0h3m1 0h1m1 0h1m-21 1h3m1 0h1m14 0h1m-21 1h3m14 0h1m2 0h2m-23 1h1m19 0h1m-25 1h2m1 0h1m20 0h4m-29 1h3m23 0h2m-27 1h1m24 0h1m-28 1h1m24 0h1m1 0h1m-3 1h2m-28 1h1m26 0h1m-3 1h3m-29 1h1m1 0h1m23 0h3m-28 1h1m23 0h2m-27 1h1m23 0h2m-25 1h1m20 0h4m-25 1h1m17 0h1m2 0h1m-22 1h1m16 0h4m-21 1h1m1 0h2m5 0h1m-7 1h2m1 0h2m1 0h9m-15 1h1m1 0h1m1 0h1m2 0h1m1 0h1m-6 1h1" stroke="#18c088"/>
<path d="M0 0m61 26h1m-3 1h3m-4 1h4m-5 1h5m-6 1h7m-7 1h7m-6 1h6m-7 1h6m-5 1h3m-19 24h1m3 0h2m1 0h1m-9 1h2m2 0h5m-15 1h1m3 0h1m1 0h14m-17 1h14m1 0h2m-20 1h19m-22 1h1m1 0h12m1 0h7m-22 1h10m6 0h7m-24 1h8m7 0h1m1 0h7m-26 1h8m10 0h1m1 0h4m1 0h1m-27 1h10m10 0h5m-25 1h7m12 0h7m-27 1h1m1 0h7m11 0h5m-25 1h1m1 0h6m11 0h6m-24 1h9m6 0h8m-24 1h13m1 0h9m-22 1h20m-20 1h17m1 0h2m-20 1h16m-18 1h1m4 0h5m1 0h7m-12 1h1m2 0h1m-5 1h1" stroke="#2cc84c"/>
<path d="M0 0m45 63h1m-5 1h6m-9 1h5m1 0h1m1 0h1m-11 1h4m2 0h1m1 0h2m1 0h1m-11 1h3m4 0h3m-13 1h3m8 0h1m-11 1h2m1 0h1m2 0h1m2 0h2m-12 1h5m2 0h4m-9 1h6m-3 1h1" stroke="#7cd428"/>
<path d="M0 0m43 65h1m-4 1h2m1 0h1m-2 1h2m-7 1h2m4 0h2m-8 1h1m1 0h1m3 0h1m-5 1h2" stroke="#d0d418"/>
<path d="M0 0m40 67h2m-3 1h4m-3 1h1m1 0h1" stroke="#f0a018"/>
</g>
<g transform="scale(0.5) translate(0 .5)">
<path d="M0 0m137 15h1m-16 1h1m16 6h1m-15 3h1m9 0h1m-19 1h1m7 1h1m12 0h1m-17 1h1m20 1h1m11 0h1m-81 1h1m68 0h1m0 1h1m-27 1h1m10 0h1m-16 1h1m4 0h1m8 0h1m-45 2h1m23 0h1m11 0h1m2 0h1m4 0h1m-10 1h1m7 0h1m-22 1h1m10 0h1m4 0h1m7 0h1m3 0h1m-43 1h1m21 0h3m10 0h1m1 0h1m7 0h2m-78 1h1m51 0h1m1 0h1m4 0h1m3 0h1m1 0h1m2 0h1m2 0h1m7 0h1m1 0h2m-39 1h1m1 0h1m5 0h1m2 0h5m4 0h2m3 0h2m4 0h1m8 0h1m-85 1h1m24 0h1m8 0h1m16 0h1m4 0h1m8 0h1m6 0h1m-58 1h1m15 0h1m7 0h2m6 0h1m6 0h1m6 0h3m4 0h1m4 0h2m6 0h1m-65 1h1m5 0h1m3 0h1m2 0h1m19 0h4m1 0h1m1 0h1m1 0h1m1 0h1m5 0h1m1 0h1m1 0h2m1 0h1m4 0h1m-51 1h1m6 0h1m11 0h1m5 0h2m2 0h1m2 0h1m1 0h1m3 0h1m2 0h3m5 0h1m2 0h1m-101 1h1m38 0h1m17 0h2m8 0h1m1 0h2m1 0h2m1 0h3m3 0h1m6 0h2m1 0h1m9 0h1m-66 1h1m7 0h1m13 0h2m4 0h1m3 0h2m1 0h2m2 0h5m1 0h3m1 0h3m1 0h1m4 0h1m7 0h1m5 0h1m-63 1h1m10 0h1m2 0h1m9 0h1m3 0h1m2 0h1m3 0h1m4 0h3m16 0h1m-76 1h1m12 0h1m14 0h1m1 0h2m2 0h1m2 0h1m1 0h2m3 0h1m8 0h2m2 0h1m3 0h2m1 0h1m-42 1h1m4 0h1m3 0h1m3 0h2m1 0h1m1 0h3m15 0h1m3 0h1m-95 1h1m30 0h1m24 0h1m1 0h2m2 0h1m1 0h1m3 0h1m1 0h1m1 0h1m10 0h1m4 0h3m4 0h2m2 0h1m9 0h1m-75 1h1m1 0h1m7 0h1m2 0h1m1 0h1m5 0h1m2 0h1m3 0h1m4 0h2m2 0h1m15 0h1m2 0h3m1 0h1m14 0h1m-82 1h1m5 0h1m3 0h1m1 0h2m3 0h1m1 0h1m11 0h1m1 0h2m2 0h2m21 0h2m4 0h2m2 0h1m-71 1h1m15 0h1m1 0h1m1 0h1m5 0h2m2 0h1m7 0h1m25 0h4m2 0h1m-73 1h1m15 0h1m1 0h1m5 0h1m3 0h1m3 0h1m1 0h1m1 0h1m3 0h1m23 0h3m4 0h1m1 0h1m-72 1h1m2 0h1m1 0h1m1 0h1m8 0h1m7 0h1m3 0h1m2 0h2m31 0h1m3 0h1m3 0h1m-85 1h1m24 0h1m3 0h2m4 0h3m1 0h1m2 0h3m2 0h1m1 0h2m25 0h1m1 0h1m7 0h2m-76 1h1m2 0h1m1 0h2m2 0h1m1 0h1m5 0h1m5 0h1m1 0h1m2 0h1m2 0h1m1 0h2m26 0h2m2 0h1m8 0h1m-80 1h1m6 0h1m6 0h1m3 0h1m4 0h1m5 0h1m2 0h2m1 0h1m1 0h1m34 0h1m3 0h3m1 0h1m-82 1h1m7 0h1m3 0h2m1 0h1m15 0h1m2 0h1m1 0h1m1 0h1m29 0h1m19 0h1m-90 1h1m5 0h1m13 0h1m4 0h2m4 0h3m7 0h1m24 0h1m1 0h2m5 0h1m-69 1h1m9 0h2m3 0h1m2 0h1m1 0h1m1 0h4m3 0h1m1 0h2m27 0h1m5 0h1m1 0h1m7 0h1m-77 1h1m5 0h1m2 0h3m6 0h1m2 0h3m1 0h1m1 0h2m1 0h3m26 0h4m-61 1h1m4 0h1m9 0h1m7 0h3m1 0h1m2 0h1m29 0h1m3 0h1m2 0h1m-71 1h1m3 0h1m9 0h1m3 0h1m1 0h2m1 0h2m3 0h1m1 0h1m34 0h1m7 0h1m-74 1h1m4 0h1m3 0h2m5 0h1m1 0h2m1 0h1m2 0h1m4 0h1m1 0h3m30 0h1m1 0h1m-60 1h1m2 0h1m1 0h3m4 0h2m2 0h1m1 0h1m1 0h1m1 0h3m27 0h1m2 0h1m2 0h1m-77 1h1m5 0h1m4 0h1m4 0h2m2 0h2m1 0h1m5 0h1m2 0h1m2 0h1m1 0h1m1 0h1m29 0h1m1 0h1m1 0h1m2 0h2m-74 1h2m4 0h1m1 0h1m4 0h2m2 0h1m1 0h1m1 0h1m1 0h1m1 0h1m1 0h1m1 0h1m5 0h3m28 0h6m2 0h3m-97 1h1m15 0h1m13 0h1m5 0h1m4 0h1m5 0h1m2 0h1m1 0h1m2 0h1m1 0h1m27 0h1m1 0h1m1 0h1m-85 1h1m22 0h1m4 0h2m3 0h1m2 0h2m9 0h1m1 0h3m26 0h1m2 0h2m4 0h1m1 0h1m-72 1h1m12 0h1m6 0h1m1 0h2m4 0h1m1 0h1m6 0h1m22 0h1m1 0h1m-73 1h1m7 0h1m5 0h1m5 0h1m3 0h1m4 0h1m4 0h1m3 0h1m2 0h4m26 0h1m1 0h3m4 0h1m1 0h1m-75 1h1m13 0h2m1 0h2m1 0h1m2 0h1m1 0h1m5 0h1m3 0h2m1 0h1m24 0h1m3 0h1m1 0h3m-69 1h2m4 0h1m1 0h2m1 0h1m2 0h1m6 0h1m1 0h1m2 0h1m1 0h3m1 0h1m1 0h1m20 0h3m5 0h2m-59 1h1m1 0h1m8 0h5m2 0h2m1 0h2m2 0h2m1 0h1m13 0h1m6 0h1m1 0h2m22 0h1m-78 1h4m7 0h1m2 0h3m1 0h1m4 0h1m1 0h1m3 0h1m5 0h2m7 0h1m11 0h3m7 0h1m3 0h1m-78 1h1m9 0h1m4 0h1m2 0h1m1 0h1m5 0h1m1 0h3m1 0h2m1 0h1m2 0h2m10 0h2m3 0h2m4 0h3m3 0h1m1 0h1m2 0h1m-78 1h1m2 0h1m22 0h2m6 0h2m1 0h5m3 0h1m15 0h1m5 0h1m2 0h1m1 0h1m-53 1h1m7 0h1m3 0h1m2 0h1m1 0h1m3 0h2m4 0h1m3 0h2m9 0h3m1 0h2m1 0h2m7 0h1m-59 1h1m7 0h1m7 0h3m1 0h1m1 0h1m2 0h1m1 0h2m1 0h2m1 0h1m2 0h1m3 0h1m1 0h1m2 0h2m5 0h2m3 0h1m-76 1h1m10 0h1m4 0h1m2 0h2m1 0h1m2 0h1m2 0h2m4 0h1m2 0h1m1 0h4m3 0h1m1 0h1m1 0h4m3 0h2m1 0h1m5 0h2m6 0h1m4 0h1m-73 1h1m12 0h1m2 0h1m2 0h2m2 0h4m2 0h1m3 0h1m5 0h2m10 0h1m1 0h1m1 0h5m2 0h1m-60 1h1m11 0h1m7 0h2m1 0h1m1 0h2m1 0h1m2 0h2m5 0h1m3 0h1m1 0h1m2 0h1m3 0h1m14 0h1m-69 1h1m6 0h1m2 0h1m2 0h1m4 0h2m10 0h1m2 0h1m2 0h5m1 0h1m5 0h1m1 0h1m1 0h1m2 0h1m1 0h1m5 0h1m8 0h1m3 0h1m2 0h1m-67 1h1m16 0h2m1 0h4m1 0h2m1 0h2m8 0h2m-45 1h1m5 0h1m7 0h1m2 0h2m3 0h1m1 0h1m1 0h1m1 0h3m1 0h1m2 0h1m2 0h1m3 0h1m2 0h2m6 0h1m-69 1h1m21 0h1m4 0h2m2 0h2m4 0h1m1 0h1m3 0h1m2 0h2m2 0h3m3 0h2m1 0h1m1 0h1m2 0h1m5 0h1m4 0h1m-47 1h2m4 0h2m1 0h3m3 0h1m2 0h1m11 0h2m1 0h4m3 0h1m-89 1h1m24 0h1m9 0h1m8 0h1m4 0h2m3 0h2m1 0h1m2 0h2m1 0h3m6 0h1m2 0h1m4 0h1m3 0h1m3 0h1m1 0h1m-48 1h1m4 0h1m8 0h3m1 0h1m1 0h2m4 0h2m7 0h1m1 0h1m1 0h1m1 0h1m7 0h1m-82 1h1m29 0h1m8 0h1m4 0h1m2 0h2m2 0h2m2 0h1m10 0h2m1 0h2m2 0h2m1 0h1m-38 1h1m2 0h1m2 0h1m4 0h1m3 0h1m7 0h1m1 0h1m2 0h2m2 0h1m2 0h1m2 0h1m48 0h1m-110 1h1m18 0h1m4 0h1m1 0h1m2 0h1m1 0h1m1 0h1m5 0h2m4 0h1m3 0h2m1 0h1m2 0h2m-33 1h2m3 0h2m1 0h1m3 0h1m12 0h1m6 0h2m3 0h2m2 0h2m5 0h1m-66 1h1m1 0h2m5 0h3m3 0h1m1 0h1m2 0h1m3 0h3m1 0h3m7 0h1m5 0h1m1 0h2m1 0h2m5 0h1m1 0h1m6 0h1m3 0h1m-63 1h1m4 0h2m3 0h1m1 0h1m3 0h2m1 0h1m1 0h1m2 0h1m7 0h1m1 0h1m5 0h1m1 0h1m-48 1h1m8 0h1m2 0h2m2 0h1m1 0h1m1 0h1m1 0h3m12 0h1m1 0h3m1 0h1m1 0h3m5 0h1m-64 1h1m8 0h1m5 0h2m4 0h2m2 0h1m6 0h1m2 0h1m1 0h1m9 0h2m1 0h2m1 0h1m2 0h2m6 0h1m7 0h1m36 0h1m-96 1h1m3 0h1m3 0h1m2 0h1m1 0h3m2 0h4m1 0h1m10 0h1m1 0h1m1 0h1m2 0h1m-41 1h1m4 0h2m1 0h1m5 0h1m3 0h1m1 0h2m11 0h3m1 0h1m1 0h1m3 0h3m1 0h1m10 0h1m17 0h1m-89 1h2m8 0h2m5 0h1m2 0h1m4 0h2m2 0h1m1 0h1m1 0h1m10 0h1m1 0h3m1 0h1m1 0h1m4 0h1m-51 1h1m2 0h3m6 0h3m4 0h1m13 0h1m2 0h1m1 0h2m1 0h2m4 0h1m-56 1h2m1 0h1m7 0h1m2 0h1m3 0h1m2 0h3m3 0h1m2 0h1m14 0h1m1 0h6m2 0h1m4 0h1m3 0h1m2 0h2m-79 1h1m5 0h1m3 0h1m6 0h1m1 0h1m2 0h1m11 0h1m1 0h1m1 0h1m21 0h2m2 0h1m3 0h1m1 0h1m6 0h1m-73 1h1m1 0h1m8 0h1m1 0h4m5 0h2m1 0h1m1 0h1m1 0h1m2 0h2m8 0h1m11 0h1m1 0h1m1 0h4m2 0h1m4 0h1m3 0h1m-77 1h1m2 0h1m7 0h1m4 0h1m1 0h1m2 0h2m1 0h1m1 0h1m1 0h1m27 0h1m4 0h1m1 0h1m1 0h1m23 0h1m9 0h1m-110 1h1m12 0h1m6 0h3m3 0h1m1 0h5m1 0h1m10 0h1m13 0h1m4 0h2m11 0h1m-58 1h2m5 0h2m22 0h1m12 0h1m1 0h1m7 0h1m1 0h1m9 0h1m10 0h1m-90 1h1m1 0h2m1 0h2m1 0h3m1 0h1m3 0h1m3 0h2m34 0h1m4 0h2m7 0h1m1 0h1m2 0h1m1 0h1m4 0h1m-77 1h1m8 0h1m44 0h2m1 0h1m1 0h1m3 0h1m3 0h2m8 0h1m-88 1h1m2 0h1m2 0h1m1 0h2m1 0h4m48 0h1m1 0h1m8 0h2m1 0h2m-78 1h4m3 0h2m2 0h1m47 0h2m1 0h1m1 0h2m1 0h1m1 0h1m45 0h1m-119 1h1m7 0h1m4 0h1m49 0h2m2 0h1m1 0h3m24 0h1m-96 1h2m2 0h3m3 0h1m52 0h1m1 0h2m3 0h3m8 0h1m2 0h1m3 0h1m-90 1h1m2 0h1m1 0h2m1 0h1m2 0h1m54 0h1m1 0h3m3 0h2m-72 1h2m6 0h1m53 0h2m1 0h1m1 0h1m4 0h2m4 0h1m-88 1h2m1 0h1m4 0h1m1 0h1m63 0h1m1 0h1m1 0h1m24 0h1m-114 1h1m7 0h2m9 0h1m57 0h2m3 0h1m5 0h1m10 0h1m6 0h1m-103 1h1m5 0h1m1 0h1m2 0h5m58 0h1m2 0h2m2 0h1m3 0h1m2 0h1m8 0h2m9 0h1m-101 1h1m68 0h1m1 0h3m3 0h1m14 0h1m-99 1h1m4 0h2m69 0h1m6 0h1m5 0h1m-100 1h1m4 0h1m8 0h1m77 0h1m1 0h1m7 0h1m-97 1h1m2 0h1m3 0h4m68 0h1m3 0h2m1 0h1m8 0h3m-94 1h1m4 0h1m68 0h3m6 0h2m1 0h1m8 0h1m-100 1h1m4 0h2m77 0h1m2 0h1m3 0h1m10 0h1m-114 1h1m10 0h1m1 0h1m3 0h2m78 0h1m2 0h1m3 0h1m-102 1h2m4 0h1m84 0h3m1 0h1m-93 1h1m2 0h1m1 0h1m1 0h1m75 0h1m5 0h1m3 0h1m4 0h1m2 0h1m-99 1h1m1 0h1m1 0h1m75 0h1m3 0h2m1 0h1m3 0h2m2 0h1m-102 1h1m2 0h1m9 0h2m73 0h3m6 0h1m6 0h1m-110 1h1m6 0h2m2 0h1m6 0h1m73 0h1m2 0h3m1 0h1m2 0h1m1 0h1m-108 1h1m11 0h3m78 0h1m3 0h1m1 0h1m2 0h1m4 0h1m1 0h1m-99 1h2m1 0h1m75 0h3m1 0h1m1 0h4m4 0h1m1 0h1m2 0h2m4 0h1m7 0h1m-127 1h1m8 0h1m2 0h1m1 0h1m3 0h1m82 0h1m2 0h1m13 0h1m1 0h1m-108 1h1m5 0h1m80 0h1m1 0h1m3 0h1m20 0h1m-124 1h1m3 0h1m1 0h1m88 0h2m1 0h2m3 0h2m-102 1h1m1 0h3m88 0h2m4 0h1m2 0h1m10 0h1m-115 1h1m2 0h1m88 0h1m5 0h1m2 0h1m1 0h1m7 0h1m15 0h1m-134 1h1m3 0h3m2 0h1m87 0h2m5 0h1m4 0h1m11 0h1m-122 1h1m2 0h1m92 0h2m3 0h1m3 0h1m1 0h1m5 0h1m-118 1h1m1 0h1m8 0h1m2 0h1m81 0h2m3 0h1m1 0h1m3 0h1m-105 1h1m1 0h1m5 0h1m2 0h1m83 0h2m2 0h2m2 0h2m1 0h1m1 0h1m3 0h1m1 0h1m-117 1h1m4 0h1m2 0h1m1 0h1m1 0h2m77 0h2m2 0h3m2 0h1m1 0h1m-102 1h1m2 0h2m2 0h1m1 0h4m2 0h1m76 0h2m4 0h1m3 0h2m-102 1h3m1 0h3m3 0h1m73 0h1m6 0h1m1 0h1m2 0h1m1 0h1m1 0h1m2 0h1m6 0h1m-112 1h1m1 0h1m6 0h1m80 0h1m1 0h1m2 0h1m3 0h6m-116 1h1m3 0h1m8 0h1m1 0h1m5 0h3m71 0h2m3 0h1m1 0h2m1 0h2m4 0h1m9 0h1m-120 1h1m1 0h1m6 0h3m4 0h1m1 0h2m1 0h1m73 0h1m3 0h1m1 0h4m2 0h3m5 0h1m2 0h1m1 0h1m-123 1h1m1 0h1m2 0h2m1 0h1m4 0h1m1 0h4m2 0h1m1 0h1m6 0h1m69 0h3m1 0h1m1 0h3m13 0h1m-117 1h4m2 0h1m3 0h1m7 0h2m71 0h5m2 0h1m1 0h1m7 0h1m3 0h1m4 0h1m-124 1h1m7 0h1m1 0h1m2 0h3m1 0h1m2 0h1m1 0h1m70 0h1m1 0h1m1 0h1m3 0h5m-115 1h1m11 0h2m2 0h1m2 0h2m1 0h1m1 0h1m5 0h1m72 0h1m2 0h1m3 0h1m3 0h1m4 0h1m4 0h1m5 0h1m-123 1h1m2 0h1m2 0h1m2 0h1m3 0h3m1 0h6m71 0h5m2 0h1m1 0h1m2 0h1m5 0h3m13 0h1m9 0h1m-135 1h1m4 0h1m3 0h3m1 0h2m2 0h1m1 0h1m3 0h1m66 0h2m5 0h3m4 0h2m2 0h1m-109 1h1m1 0h2m2 0h2m4 0h1m1 0h1m1 0h2m1 0h1m65 0h1m1 0h1m4 0h3m2 0h1m1 0h1m6 0h1m-110 1h1m6 0h1m2 0h1m2 0h1m14 0h1m62 0h3m1 0h1m1 0h2m-98 1h1m5 0h1m1 0h1m2 0h1m3 0h1m6 0h2m2 0h1m1 0h1m57 0h1m3 0h1m9 0h1m9 0h1m-107 1h1m1 0h1m6 0h1m4 0h2m4 0h1m1 0h1m55 0h3m1 0h1m2 0h1m8 0h1m3 0h1m3 0h1m3 0h1m-112 1h1m10 0h1m2 0h1m1 0h1m1 0h1m5 0h1m1 0h2m3 0h2m47 0h1m1 0h2m2 0h2m1 0h1m1 0h1m5 0h1m10 0h1m1 0h1m4 0h1m-96 1h1m2 0h1m1 0h2m1 0h1m2 0h1m1 0h1m48 0h4m2 0h2m3 0h2m1 0h1m1 0h1m4 0h1m13 0h1m-99 1h2m1 0h1m5 0h4m6 0h1m29 0h1m11 0h3m2 0h1m2 0h1m1 0h3m7 0h1m6 0h1m-95 1h1m4 0h1m6 0h1m1 0h6m6 0h1m21 0h2m12 0h1m3 0h2m1 0h1m1 0h1m1 0h1m1 0h1m4 0h1m2 0h1m5 0h2m2 0h1m2 0h1m-95 1h1m1 0h1m7 0h1m2 0h1m2 0h1m1 0h1m4 0h2m8 0h1m30 0h2m1 0h1m2 0h1m1 0h3m1 0h1m-85 1h1m15 0h1m2 0h8m1 0h1m4 0h1m6 0h1m14 0h1m8 0h6m1 0h1m2 0h3m2 0h1m12 0h1m3 0h1m1 0h1m-91 1h1m11 0h2m3 0h1m2 0h1m1 0h1m3 0h1m14 0h1m5 0h2m9 0h1m1 0h2m3 0h3m3 0h1m1 0h1m1 0h1m27 0h1m-93 1h1m4 0h5m1 0h1m2 0h2m3 0h1m4 0h1m2 0h3m6 0h2m2 0h2m1 0h1m6 0h1m1 0h1m2 0h1m2 0h1m4 0h2m1 0h2m12 0h1m-89 1h1m6 0h1m1 0h2m5 0h1m1 0h1m1 0h2m1 0h2m1 0h1m6 0h1m1 0h1m1 0h2m5 0h1m1 0h1m1 0h1m1 0h1m8 0h1m1 0h1m2 0h1m5 0h1m6 0h1m7 0h2m-75 1h1m2 0h2m2 0h1m1 0h4m2 0h3m1 0h1m1 0h2m2 0h1m1 0h2m2 0h1m2 0h1m1 0h1m1 0h1m1 0h2m1 0h3m4 0h1m2 0h1m1 0h1m2 0h1m19 0h1m-98 1h1m15 0h1m6 0h1m2 0h1m1 0h2m4 0h1m2 0h1m1 0h2m1 0h1m2 0h2m1 0h3m6 0h2m1 0h4m5 0h1m4 0h3m52 0h1m-107 1h1m4 0h1m1 0h2m6 0h1m5 0h1m1 0h1m1 0h2m1 0h1m3 0h2m2 0h1m1 0h2m1 0h2m7 0h2m35 0h1m-84 1h1m1 0h1m1 0h1m5 0h2m3 0h1m2 0h2m2 0h1m3 0h3m3 0h2m5 0h1m9 0h2m-44 1h1m5 0h2m1 0h1m4 0h2m1 0h3m1 0h1m1 0h3m1 0h1m2 0h1m6 0h1m8 0h1m2 0h1m5 0h1m-65 1h1m4 0h1m11 0h1m1 0h1m1 0h2m1 0h1m4 0h1m2 0h1m3 0h3m4 0h2m5 0h1m-39 1h1m10 0h1m8 0h2m11 0h1m5 0h2m2 0h1m-38 1h1m4 0h2m1 0h1m2 0h1m3 0h1m26 0h1m1 0h1m-60 1h1m12 0h1m20 0h1m3 0h1m-36 1h1m2 0h1m18 0h1m-23 1h1m37 0h1m13 0h1m-30 1h1m8 0h1m3 0h1m12 0h1m-46 1h1m9 8h1" stroke="#2238e2"/>
<path d="M0 0m123 45h1m5 0h1m-14 1h1m6 0h1m-9 1h1m7 0h1m2 0h2m-13 1h2m11 0h2m-3 1h1m1 0h1m-13 1h1m6 0h1m3 0h2m-15 1h2m8 0h1m2 0h1m-14 1h1m11 0h1m-21 1h1m23 0h2m-26 1h2m22 0h2m-24 1h1m18 0h1m1 0h2m-3 1h1m-24 1h2m21 0h1m-23 1h1m-2 1h1m-4 1h1m2 0h1m-6 1h1m2 0h2m1 0h1m-3 1h1m-2 1h2m25 0h1m-24 1h1m20 0h1m-26 1h1m2 0h1m21 0h1m-28 1h1m-6 1h1m4 0h2m21 2h1m-30 1h1m5 0h2m20 0h2m-31 1h1m28 0h1m-22 1h5m-5 1h2m1 0h1m14 0h1m-18 1h2m9 0h1m3 0h1m-15 1h1m8 0h1m2 0h1m1 0h1m-12 1h1m3 0h2m5 0h1m5 0h1m-35 1h1m8 0h1m6 0h2m4 0h1m4 0h1m-27 1h1m9 0h2m1 0h3m3 0h1m1 0h1m2 0h1m-18 1h1m2 0h1m0 1h1m8 2h1m-6 1h2m-1 5h1m5 0h1m6 1h1m-9 2h1m-9 1h1m7 0h2m2 0h1m-10 1h1m3 0h4m-12 1h2m2 0h2m3 0h1m-2 1h1m7 0h1m-9 1h2m-13 1h1m6 0h1m3 0h1m5 0h1m-11 1h1m1 0h2m3 0h2m-3 1h2m1 0h1m-16 1h1m13 0h1m-16 1h1m14 0h1m-17 1h1m4 0h4m3 0h1m1 0h2m-16 1h2m1 0h2m3 0h2m3 0h1m1 0h2m-29 1h3m13 0h2m10 0h1m3 0h1m-16 1h1m10 0h2m-31 1h1m5 0h1m1 0h2m7 0h1m7 0h3m-38 1h1m12 0h3m1 0h5m6 0h1m8 0h2m5 0h1m-46 1h3m5 0h3m3 0h1m15 0h2m2 0h1m1 0h1m3 0h1m4 0h1m-49 1h1m2 0h1m2 0h2m5 0h3m16 0h2m4 0h1m3 0h1m-43 1h4m3 0h3m13 0h1m14 0h1m-44 1h1m4 0h1m1 0h1m1 0h1m3 0h3m-16 1h1m11 0h1m-14 1h2m1 0h2m-7 1h2m48 0h1m-51 1h1m49 0h1m-53 1h1m2 0h1m49 0h1m2 0h1m-58 1h2m2 0h2m1 0h1m46 0h4m-62 1h1m8 0h1m46 0h1m5 0h1m-60 1h1m58 0h2m-63 1h1m57 0h1m-2 1h1m5 1h1m-5 1h1m-68 1h1m66 0h1m-69 1h1m1 0h1m65 0h2m1 0h1m-71 1h1m-4 1h1m2 0h1m-6 1h2m72 0h1m-79 1h1m4 0h1m-2 1h1m3 0h1m65 0h2m2 0h3m-76 1h1m2 0h1m69 0h1m-77 1h1m3 0h2m69 0h1m-75 1h1m3 0h1m-9 1h1m4 0h1m-8 1h4m66 0h1m9 0h1m-80 1h1m76 0h3m-79 1h1m72 0h5m-83 1h2m1 0h1m3 0h1m67 0h1m6 0h2m-84 1h1m2 0h1m3 0h1m74 0h1m-83 1h2m2 0h1m74 0h1m1 0h1m-83 1h1m1 0h1m3 0h1m-6 1h2m1 0h1m2 0h1m70 0h1m1 0h2m-81 1h1m1 0h4m-2 1h1m68 0h4m4 0h1m-81 1h1m2 0h1m68 0h2m1 0h2m2 0h1m-84 1h2m3 0h1m68 0h1m1 0h1m9 0h1m-76 1h1m64 0h1m3 0h1m-76 1h2m2 0h2m58 0h1m-72 1h1m6 0h1m62 0h2m5 0h2m-78 1h1m5 0h4m2 0h1m61 0h1m8 0h1m-79 1h2m1 0h1m65 0h1m4 0h1m-8 1h1m-12 1h3m4 0h1m12 0h1m-84 1h1m4 0h1m3 0h1m2 0h2m51 0h1m4 0h2m1 0h1m3 0h1m-70 1h1m5 0h2m50 0h2m5 0h1m-67 1h1m6 0h1m44 0h1m8 0h2m-63 1h1m6 0h2m42 0h2m-49 1h2m2 0h1m1 0h1m4 0h1m37 0h4m7 0h1m-65 1h1m3 0h2m2 0h3m3 0h1m25 0h1m6 0h2m5 0h1m-45 1h1m1 0h4m4 0h1m5 0h1m8 0h2m4 0h3m5 0h2m1 0h3m1 0h1m-47 1h1m1 0h1m3 0h1m2 0h1m16 0h2m12 0h1m1 0h2m-46 1h2m11 0h1m1 0h2m8 0h1m1 0h1m-15 1h2m10 0h3m7 0h2m5 0h1m2 0h1m-43 1h1m4 0h5m4 0h2m4 0h6m2 0h2m13 0h1m-38 1h1m2 0h3m2 0h1m8 0h2m3 0h1m0 1h1m-16 1h1m7 2h1m6 3h1" stroke="#1c40e4"/>
<path d="M0 0m117 51h1m8 1h1m-13 1h2m10 0h1m1 1h2m-2 3h1m-22 2h1m-1 1h1m-3 4h2m21 0h1m-24 1h2m3 1h1m13 2h1m-5 2h1m0 1h1m-7 1h1m4 0h2m-7 1h1m-7 3h1m14 0h1m-13 3h1m-4 18h1m-4 6h1m-2 3h1m-17 2h1m1 0h1m-7 1h1m3 0h2m21 0h1m1 0h1m-29 1h2m9 0h1m12 0h1m1 0h2m-17 1h1m12 0h1m2 0h1m-33 1h1m-1 1h1m32 2h1m-49 4h2m46 0h2m-58 2h2m58 1h2m-5 1h1m-59 3h1m-2 1h2m56 3h2m-70 1h1m68 0h2m-1 1h1m-70 2h1m61 0h1m8 0h1m-1 1h1m-78 1h1m72 0h1m-77 2h1m71 0h1m0 1h1m-71 1h1m72 0h1m-1 2h1m-73 1h2m0 1h1m-4 1h1m-3 1h1m5 0h1m60 0h1m-68 1h1m5 0h1m54 1h2m-57 2h1m5 0h1m-8 1h1m5 0h1m41 1h2m-46 1h2m51 0h1m-57 1h1m47 0h1m3 0h1m-6 1h1m-12 2h1m-32 1h1m2 0h1m20 0h1m5 0h1m3 0h1m-35 1h1m23 0h1m5 0h2m-29 1h1m2 0h1m18 0h1m-22 1h1m7 0h2m14 0h1m9 0h1" stroke="#1f5aea"/>
<path d="M0 0m112 56h2m-5 8h1m-1 1h1m1 1h1m12 3h1m-11 2h2m4 0h1m-7 1h1m1 2h3m-10 24h1m-9 18h1m12 6h1m-1 1h1m-51 1h2m-15 1h1m12 0h1m-11 5h2m-5 1h1m3 0h1m-11 1h1m1 3h1m66 6h1m-70 3h1m-1 1h1m57 4h1m-54 1h1m-2 2h1m37 0h1m6 0h1m-41 1h1m32 0h1m4 1h1m1 1h1m-14 1h1m-29 3h1m21 0h2m-23 1h2" stroke="#1c9cd8"/>
<path d="M0 0m113 57h1m-3 10h1m3 3h1m-16 46h1m-1 1h1m7 17h1m-59 4h2m2 0h1m-4 1h1m3 0h1m30 14h1m-7 4h1m-5 1h1" stroke="#18c088"/>
<path d="M0 0m78 118h1m-1 1h2m-25 19h1m-2 14h2" stroke="#2cc84c"/>
</g>
</g>
<rect x="805.8" y="391.6" width="97" height="95.7" fill="none" stroke="#000" stroke-width="1.5"/>
<line x1="859.3" y1="391.6" x2="859.3" y2="487.3" stroke="#000" stroke-width="1.3"/>
<line x1="805.8" y1="432.8" x2="902.8" y2="432.8" stroke="#000" stroke-width="1.3"/>
<line x1="809.9" y1="487.3" x2="809.9" y2="488.9" stroke="#444" stroke-width="0.8"/>
<line x1="814" y1="487.3" x2="814" y2="488.9" stroke="#444" stroke-width="0.8"/>
<line x1="818.1" y1="487.3" x2="818.1" y2="488.9" stroke="#444" stroke-width="0.8"/>
<line x1="822.2" y1="487.3" x2="822.2" y2="488.9" stroke="#444" stroke-width="0.8"/>
<line x1="826.3" y1="487.3" x2="826.3" y2="488.9" stroke="#444" stroke-width="0.8"/>
<line x1="830.4" y1="487.3" x2="830.4" y2="489.9" stroke="#444" stroke-width="0.8"/>
<line x1="834.5" y1="487.3" x2="834.5" y2="488.9" stroke="#444" stroke-width="0.8"/>
<line x1="838.6" y1="487.3" x2="838.6" y2="488.9" stroke="#444" stroke-width="0.8"/>
<line x1="842.7" y1="487.3" x2="842.7" y2="488.9" stroke="#444" stroke-width="0.8"/>
<line x1="846.8" y1="487.3" x2="846.8" y2="488.9" stroke="#444" stroke-width="0.8"/>
<line x1="850.9" y1="487.3" x2="850.9" y2="488.9" stroke="#444" stroke-width="0.8"/>
<line x1="855" y1="487.3" x2="855" y2="489.9" stroke="#444" stroke-width="0.8"/>
<line x1="859.1" y1="487.3" x2="859.1" y2="488.9" stroke="#444" stroke-width="0.8"/>
<line x1="863.2" y1="487.3" x2="863.2" y2="488.9" stroke="#444" stroke-width="0.8"/>
<line x1="867.3" y1="487.3" x2="867.3" y2="488.9" stroke="#444" stroke-width="0.8"/>
<line x1="871.4" y1="487.3" x2="871.4" y2="488.9" stroke="#444" stroke-width="0.8"/>
<line x1="875.5" y1="487.3" x2="875.5" y2="488.9" stroke="#444" stroke-width="0.8"/>
<line x1="879.6" y1="487.3" x2="879.6" y2="489.9" stroke="#444" stroke-width="0.8"/>
<line x1="883.7" y1="487.3" x2="883.7" y2="488.9" stroke="#444" stroke-width="0.8"/>
<line x1="887.8" y1="487.3" x2="887.8" y2="488.9" stroke="#444" stroke-width="0.8"/>
<line x1="891.9" y1="487.3" x2="891.9" y2="488.9" stroke="#444" stroke-width="0.8"/>
<line x1="896" y1="487.3" x2="896" y2="488.9" stroke="#444" stroke-width="0.8"/>
<line x1="900.1" y1="487.3" x2="900.1" y2="488.9" stroke="#444" stroke-width="0.8"/>
<line x1="802.8" y1="407" x2="805.8" y2="407" stroke="#333" stroke-width="1"/>
<line x1="802.8" y1="458" x2="805.8" y2="458" stroke="#333" stroke-width="1"/>
<text x="809.8" y="407.4" font-size="15.6" textLength="30.4" lengthAdjust="spacingAndGlyphs">9.12</text>
<text x="897.2" y="407.4" font-size="15.6" text-anchor="end" textLength="31" lengthAdjust="spacingAndGlyphs">14.4</text>
<text x="897.2" y="481.4" font-size="15.6" text-anchor="end" textLength="31" lengthAdjust="spacingAndGlyphs">5.28</text>
<g transform="translate(906 391)" fill="none" stroke-width="1">
<g shape-rendering="crispEdges" transform="translate(0 .5)">
<path d="M0 0m64 16h1m-12 25h1m-10 2h1m9 0h1m5 0h1m-17 1h2m7 0h1m-9 1h1m9 0h1m-15 1h2m14 3h1m-1 3h1m-32 1h1m30 0h1m-31 1h1m-10 5h1m40 1h1m-4 1h1m-2 2h1m2 0h1m-45 1h2m1 0h1m38 0h1m0 2h1m-46 2h1m1 0h1m-4 1h1m40 0h1m-6 1h2m3 0h1m-42 1h1m2 1h2m-4 1h1m36 0h1m-40 1h1m3 1h1m23 2h1m-17 2h1m3 0h2m-3 1h1m6 0h2" stroke="#2238e2"/>
<path d="M0 0m52 43h1m-5 1h3m-1 1h1m2 0h1m-11 1h1m2 0h3m2 0h1m1 0h3m-10 1h1m5 0h1m3 0h1m-20 1h3m1 0h1m1 0h1m2 0h1m8 0h2m-20 1h2m1 0h1m6 0h1m-9 1h2m-10 1h1m2 0h1m19 0h1m-26 2h1m26 0h1m-29 1h1m28 0h1m-33 1h2m28 0h1m-32 1h2m30 0h2m-35 1h1m1 0h1m29 1h2m-3 1h1m0 1h2m-40 1h1m1 0h1m1 0h1m-5 1h1m36 0h1m-37 1h1m34 0h1m-37 2h1m35 0h1m-38 1h2m33 0h1m1 0h1m-39 1h1m34 0h1m1 0h1m-40 1h1m35 0h1m2 0h1m-39 1h2m-3 1h1m32 0h1m3 0h1m-39 1h1m3 0h1m27 0h1m1 0h2m-36 1h2m29 0h1m3 0h1m-5 1h2m-31 1h1m1 0h1m24 0h2m2 0h1m-31 1h3m-2 1h3m15 0h2m3 0h1m-22 1h1m1 0h1m1 0h2m11 0h3m-17 1h2m1 0h1m2 0h4m1 0h1m-5 1h1m2 0h2" stroke="#1c40e4"/>
<path d="M0 0m43 47h1m3 0h1m1 0h1m1 0h1m1 0h1m1 0h1m-9 1h1m2 0h4m-15 1h1m2 0h2m2 0h1m4 0h1m-15 1h1m4 0h1m4 0h1m1 0h2m1 0h3m-23 1h1m2 0h1m1 0h1m1 0h2m11 0h2m1 0h1m-25 1h4m17 0h1m1 0h2m-26 1h2m1 0h1m19 0h2m-24 1h1m22 0h1m-28 1h1m1 0h1m24 0h1m-29 1h1m1 0h1m22 0h1m2 0h1m-29 1h1m27 0h1m-34 1h1m1 0h2m-4 1h1m1 0h1m29 0h1m-34 1h1m1 0h2m29 0h2m-35 1h1m32 0h1m-34 1h1m30 0h1m-33 1h2m29 0h2m-34 1h2m31 0h2m-35 1h1m31 0h1m1 0h1m-34 1h1m-4 1h3m32 0h1m-35 1h2m27 0h3m-33 1h2m-4 1h3m-4 1h1m4 0h1m26 0h1m-4 1h1m1 0h1m1 0h1m-31 1h2m19 0h2m1 0h2m-25 1h1m2 0h1m16 0h1m1 0h2m-23 1h1m16 0h2m-18 1h2m1 0h2m2 0h1m1 0h6m3 0h1m-19 1h1m1 0h1m2 0h1m1 0h3m3 0h2m-11 1h1m1 0h2" stroke="#1f5aea"/>
<path d="M0 0m49 49h2m-7 1h3m4 0h1m-16 1h1m1 0h1m3 0h1m3 0h1m2 0h1m1 0h1m-16 1h2m10 0h1m2 0h1m-18 1h1m16 0h1m-22 1h1m1 0h2m17 0h2m-25 1h1m1 0h1m20 0h2m-1 1h1m-25 1h2m23 0h1m-2 1h2m-28 1h1m-3 1h1m-2 1h1m25 0h1m2 0h1m-1 1h1m-32 1h2m26 0h1m-30 1h2m27 0h2m-4 1h1m0 2h1m-4 1h1m-28 1h1m26 0h2m-30 1h1m26 0h1m-28 1h1m23 0h3m-26 1h1m19 0h2m-21 1h1m-2 1h1m5 0h1m11 0h1m-18 1h1m9 0h1m1 0h4m-10 1h1m1 0h1" stroke="#1c9cd8"/>
<path d="M0 0m48 50h1m-6 1h3m1 0h2m-11 1h3m1 0h1m2 0h1m1 0h1m2 0h1m-16 1h3m12 0h1m1 0h1m-5 1h3m2 0h1m-23 1h3m16 0h1m2 0h1m-24 1h1m18 0h2m2 0h1m-4 1h3m-26 1h1m1 0h1m21 0h1m-28 1h1m2 0h1m21 0h3m-27 1h2m23 0h2m-28 1h1m23 0h1m1 0h2m-30 1h2m24 0h2m-2 1h1m-27 1h1m24 0h2m-29 1h1m1 0h1m23 0h1m1 0h2m-30 1h1m25 0h2m-28 1h1m23 0h4m-29 1h3m20 0h2m-25 1h3m21 0h1m-26 1h2m1 0h1m19 0h1m1 0h1m-25 1h2m17 0h3m-22 1h2m1 0h1m13 0h2m2 0h2m-24 1h1m1 0h1m1 0h3m7 0h3m1 0h1m2 0h1m-19 1h3m1 0h1m1 0h1m1 0h5m-10 1h4m2 0h1" stroke="#18c088"/>
<path d="M0 0m41 52h1m1 0h2m1 0h1m2 0h1m-12 1h12m-16 1h14m-14 1h16m-19 1h18m-19 1h11m1 0h8m-22 1h1m1 0h9m1 0h1m1 0h1m1 0h7m-26 1h1m2 0h9m7 0h5m-22 1h7m10 0h6m-25 1h7m12 0h4m-24 1h8m11 0h5m-25 1h9m11 0h5m-25 1h7m12 0h5m-24 1h7m10 0h6m-25 1h9m9 0h7m-25 1h9m4 0h1m3 0h6m-22 1h8m1 0h1m2 0h2m1 0h5m2 0h1m-23 1h8m1 0h12m1 0h1m-25 1h1m1 0h19m-20 1h17m-15 1h13m-11 1h7m3 0h1m-10 1h1m1 0h1m5 0h1m-12 1h1m4 0h1" stroke="#2cc84c"/>
<path d="M0 0m41 57h1m-3 1h1m1 0h1m1 0h1m-7 1h7m-10 1h3m4 0h3m-12 1h4m6 0h2m-12 1h2m7 0h2m-11 1h1m8 0h2m-13 1h2m8 0h2m-12 1h3m5 0h2m-10 1h1m7 0h1m-9 1h4m1 0h3m-8 1h1m1 0h2m2 0h1m-7 1h1" stroke="#7cd428"/>
<path d="M0 0m37 60h4m-5 1h2m-4 1h1m5 0h1m-8 1h2m4 0h2m-9 1h1m1 0h1m4 0h1m-6 1h2m-5 1h7" stroke="#d0d418"/>
<path d="M0 0m38 61h4m-7 1h5m-5 1h4m-6 1h1m1 0h4m-6 1h1m2 0h2" stroke="#f0a018"/>
</g>
<g transform="scale(0.5) translate(0 .5)">
<path d="M0 0m149 6h2m-6 1h1m3 1h1m-15 2h1m8 0h1m-1 1h1m-7 1h1m-4 2h1m4 0h2m-10 4h1m5 2h1m-11 1h1m1 0h2m1 1h2m1 0h1m3 0h1m-13 1h1m2 0h1m12 0h1m-19 1h1m5 0h2m1 0h1m2 0h1m-13 1h1m7 0h1m7 0h1m-26 1h1m5 0h1m3 0h1m2 1h1m7 0h1m-4 1h1m-7 1h1m6 0h1m-5 1h1m10 0h1m-21 1h2m8 0h1m1 0h1m1 0h1m-14 1h1m6 0h1m1 0h1m-16 1h1m4 0h2m6 0h1m2 0h1m-12 1h2m1 0h1m3 0h1m4 0h1m-13 1h1m1 0h1m7 0h1m-17 1h1m5 0h2m6 0h1m7 0h1m-20 1h1m2 0h1m1 0h1m6 0h1m6 0h1m-22 1h1m5 0h1m3 0h1m6 0h1m-19 1h1m3 0h1m3 0h1m8 0h1m-21 1h1m6 0h2m2 0h2m-6 1h1m1 0h1m1 0h1m5 0h1m-14 1h1m6 0h1m-9 1h1m3 0h1m2 0h1m8 0h1m4 0h1m-23 1h2m8 0h1m3 0h1m4 0h1m-26 1h1m1 0h1m5 0h1m-6 1h1m5 0h1m2 0h2m2 0h2m1 0h1m6 0h1m-23 1h1m6 0h2m7 0h1m-14 1h1m7 0h1m2 0h2m-11 1h1m5 0h1m2 0h1m-23 1h1m11 0h1m1 0h1m5 0h1m5 0h1m-22 1h1m4 0h1m2 0h1m3 0h1m-20 1h1m19 0h1m-11 1h1m5 0h1m4 0h1m-12 1h1m4 0h2m1 0h1m1 0h1m-8 1h1m1 0h1m2 0h1m3 0h2m-17 1h2m6 0h1m4 0h1m-12 1h1m1 0h1m7 0h2m1 0h1m-18 1h1m-9 1h1m10 0h1m1 0h1m4 0h1m-14 1h1m3 0h1m5 0h1m4 0h1m2 0h1m6 0h1m-18 1h1m-2 1h2m-10 1h1m6 0h3m2 0h1m28 0h1m-34 1h1m5 0h1m5 0h1m-20 1h1m3 0h1m3 0h1m4 0h3m-16 1h1m6 0h1m9 0h1m4 0h1m-20 1h1m1 0h1m2 0h1m3 0h1m2 0h1m-19 1h1m6 0h1m1 0h1m1 0h1m3 0h1m3 0h1m4 0h1m-34 1h1m7 0h1m7 0h1m1 0h2m2 0h1m6 0h1m-34 1h1m7 0h1m1 0h1m2 0h1m4 0h1m4 0h1m14 0h1m-38 1h1m8 0h1m1 0h2m2 0h1m2 0h1m1 0h1m3 0h1m3 0h1m-20 1h2m2 0h1m6 0h1m1 0h1m1 0h2m3 0h2m1 0h1m2 0h1m-36 1h1m11 0h1m2 0h1m2 0h1m1 0h1m-25 1h1m5 0h1m2 0h1m5 0h2m1 0h2m5 0h1m1 0h1m1 0h2m4 0h1m1 0h1m-26 1h1m6 0h1m2 0h5m13 0h1m40 0h1m-79 1h1m3 0h1m2 0h1m16 0h1m4 0h1m-25 1h1m2 0h1m6 0h1m1 0h1m4 0h2m1 0h1m1 0h1m6 0h1m2 0h1m-39 1h1m1 0h1m5 0h1m1 0h1m3 0h1m1 0h2m7 0h1m1 0h1m4 0h1m9 0h1m-52 1h1m10 0h1m2 0h9m5 0h3m1 0h1m3 0h2m5 0h1m2 0h2m-41 1h2m2 0h1m4 0h2m3 0h1m2 0h1m1 0h2m1 0h3m1 0h2m1 0h1m7 0h1m-41 1h1m1 0h1m3 0h1m1 0h2m3 0h1m1 0h2m2 0h1m1 0h2m2 0h2m1 0h2m2 0h1m2 0h1m2 0h1m1 0h1m3 0h1m-43 1h1m9 0h1m1 0h1m1 0h1m1 0h1m1 0h1m3 0h1m2 0h1m1 0h1m5 0h2m-39 1h1m6 0h1m1 0h2m1 0h1m1 0h1m2 0h3m1 0h3m2 0h2m1 0h1m3 0h1m1 0h2m3 0h2m1 0h1m3 0h1m-48 1h1m4 0h1m5 0h1m2 0h1m1 0h1m2 0h1m1 0h1m2 0h1m3 0h1m1 0h1m1 0h1m2 0h1m1 0h1m2 0h2m11 0h1m-51 1h1m1 0h2m1 0h1m1 0h1m1 0h1m1 0h1m1 0h2m2 0h1m2 0h4m1 0h1m2 0h1m1 0h4m6 0h2m16 0h1m-71 1h2m3 0h1m12 0h3m1 0h1m4 0h1m1 0h1m4 0h1m4 0h1m1 0h1m1 0h1m1 0h1m3 0h1m1 0h1m29 0h1m-81 1h2m1 0h2m1 0h1m4 0h2m5 0h1m1 0h1m1 0h1m1 0h1m2 0h1m5 0h1m5 0h1m-37 1h2m4 0h1m9 0h3m12 0h1m1 0h2m1 0h2m1 0h2m2 0h1m5 0h1m29 0h1m-90 1h1m2 0h1m4 0h1m1 0h2m1 0h6m1 0h1m4 0h3m16 0h1m1 0h2m4 0h2m1 0h1m1 0h1m-49 1h2m3 0h1m1 0h4m5 0h1m1 0h1m8 0h1m8 0h6m1 0h1m3 0h2m-53 1h1m5 0h4m1 0h2m1 0h1m5 0h1m1 0h4m7 0h1m7 0h2m2 0h2m3 0h1m-63 1h1m10 0h1m1 0h2m1 0h1m1 0h2m10 0h1m14 0h1m6 0h1m1 0h3m3 0h3m7 0h1m-65 1h1m3 0h1m1 0h1m5 0h1m1 0h1m8 0h1m10 0h2m13 0h1m1 0h1m2 0h1m6 0h1m14 0h1m-79 1h1m2 0h1m1 0h2m1 0h9m4 0h1m28 0h1m3 0h2m2 0h1m-57 1h1m3 0h1m4 0h1m5 0h1m1 0h1m24 0h1m5 0h1m4 0h3m6 0h1m4 0h1m-74 1h1m2 0h1m1 0h2m47 0h3m2 0h1m-60 1h1m2 0h1m3 0h1m2 0h3m41 0h1m3 0h1m16 0h2m17 0h1m-99 1h1m2 0h1m2 0h1m1 0h5m1 0h1m1 0h1m40 0h1m2 0h2m1 0h1m22 0h1m-80 1h1m1 0h2m6 0h1m36 0h1m1 0h1m3 0h1m3 0h3m8 0h1m-75 1h1m1 0h2m1 0h4m5 0h1m39 0h2m1 0h2m1 0h1m2 0h2m15 0h1m-84 1h3m2 0h2m1 0h1m49 0h1m1 0h1m1 0h3m1 0h1m3 0h2m5 0h1m1 0h2m3 0h1m1 0h1m7 0h1m-104 1h1m3 0h3m8 0h1m53 0h1m2 0h4m2 0h2m1 0h1m-80 1h2m3 0h2m5 0h2m53 0h1m1 0h2m1 0h3m1 0h2m3 0h1m19 0h1m-102 1h1m3 0h1m1 0h2m2 0h1m1 0h1m56 0h2m8 0h1m1 0h1m-78 1h1m2 0h3m1 0h1m59 0h3m10 0h1m-83 1h1m6 0h2m61 0h2m10 0h1m-88 1h1m3 0h4m4 0h1m59 0h1m1 0h1m2 0h2m2 0h2m3 0h1m10 0h1m-98 1h1m1 0h3m68 0h2m2 0h2m1 0h1m11 0h1m-98 1h1m4 0h1m2 0h5m1 0h1m62 0h1m2 0h1m2 0h2m4 0h1m-92 1h1m5 0h1m3 0h1m67 0h1m2 0h1m1 0h1m2 0h1m3 0h1m-87 1h2m2 0h2m69 0h2m1 0h2m3 0h1m-88 1h1m4 0h4m72 0h2m1 0h3m3 0h1m2 0h2m-101 1h1m5 0h1m2 0h1m4 0h2m70 0h1m5 0h1m5 0h1m1 0h1m-97 1h1m4 0h1m1 0h3m70 0h2m1 0h1m3 0h1m3 0h1m6 0h1m3 0h1m13 0h1m-116 1h2m1 0h3m2 0h1m67 0h1m2 0h1m2 0h1m17 0h1m8 0h1m-113 1h1m1 0h1m1 0h1m3 0h1m72 0h1m1 0h2m1 0h2m3 0h1m3 0h1m1 0h1m-100 1h1m4 0h2m76 0h1m1 0h1m1 0h2m1 0h1m1 0h1m7 0h1m1 0h1m-110 1h1m7 0h1m2 0h1m2 0h3m73 0h1m2 0h1m2 0h1m6 0h2m-97 1h1m1 0h2m3 0h1m71 0h1m1 0h2m1 0h1m3 0h5m-92 1h3m1 0h1m1 0h1m75 0h1m1 0h1m2 0h1m-91 1h5m2 0h1m1 0h1m75 0h1m1 0h1m4 0h2m-110 1h1m13 0h1m4 0h1m2 0h1m74 0h1m4 0h2m1 0h2m3 0h1m18 0h1m-113 1h3m82 0h1m1 0h2m5 0h1m3 0h1m-106 1h2m4 0h4m76 0h2m2 0h2m1 0h1m1 0h3m1 0h1m4 0h1m-111 1h1m1 0h1m4 0h2m1 0h2m1 0h1m1 0h1m73 0h1m5 0h1m2 0h2m6 0h3m-104 1h3m1 0h1m1 0h1m2 0h1m1 0h1m73 0h2m2 0h1m1 0h2m4 0h1m1 0h1m15 0h1m-123 1h1m8 0h2m1 0h1m1 0h2m2 0h2m73 0h1m2 0h2m1 0h1m6 0h1m2 0h1m-109 1h1m4 0h3m7 0h1m76 0h1m6 0h1m5 0h1m7 0h2m-115 1h1m4 0h1m4 0h1m79 0h1m1 0h1m1 0h1m-91 1h2m1 0h3m85 0h1m1 0h1m1 0h2m2 0h1m1 0h1m8 0h1m-115 1h1m3 0h2m2 0h2m2 0h2m78 0h2m1 0h2m1 0h2m5 0h1m1 0h1m-107 1h1m2 0h3m1 0h1m1 0h2m1 0h1m79 0h1m5 0h1m14 0h1m-112 1h1m4 0h1m3 0h2m77 0h2m1 0h2m12 0h1m1 0h1m3 0h1m11 0h1m-129 1h2m4 0h3m4 0h1m78 0h2m1 0h1m1 0h1m1 0h1m8 0h2m-117 1h1m3 0h2m1 0h2m1 0h2m1 0h2m85 0h1m3 0h2m2 0h1m2 0h1m-117 1h1m5 0h2m7 0h1m3 0h2m82 0h2m1 0h1m1 0h2m19 0h1m2 0h1m-123 1h2m1 0h5m1 0h1m7 0h1m77 0h1m1 0h1m1 0h1m2 0h2m-106 1h1m2 0h1m1 0h1m4 0h1m3 0h1m1 0h1m78 0h1m1 0h4m7 0h2m4 0h1m4 0h1m-123 1h1m1 0h1m2 0h2m2 0h1m2 0h1m4 0h1m70 0h1m5 0h1m4 0h1m1 0h1m1 0h1m2 0h1m2 0h2m26 0h1m-143 1h1m2 0h1m3 0h1m6 0h2m1 0h2m1 0h1m1 0h1m80 0h2m1 0h1m4 0h1m-112 1h1m8 0h2m2 0h1m1 0h2m1 0h5m76 0h2m2 0h1m3 0h1m6 0h1m-116 1h1m3 0h1m1 0h2m1 0h1m2 0h1m2 0h1m3 0h1m76 0h2m4 0h1m2 0h1m1 0h1m5 0h1m-115 1h1m10 0h3m1 0h4m1 0h1m9 0h1m67 0h3m2 0h3m6 0h1m-109 1h1m2 0h1m4 0h1m1 0h1m2 0h2m1 0h1m1 0h1m74 0h2m1 0h1m3 0h2m-101 1h1m1 0h2m1 0h1m3 0h3m78 0h2m1 0h1m1 0h4m4 0h1m-106 1h1m1 0h1m2 0h1m2 0h1m1 0h1m3 0h2m1 0h1m1 0h1m2 0h1m69 0h1m4 0h2m1 0h2m2 0h3m-103 1h2m4 0h1m1 0h1m1 0h1m1 0h1m1 0h1m70 0h1m1 0h2m3 0h1m-88 1h1m2 0h3m6 0h2m65 0h2m3 0h1m4 0h1m2 0h1m2 0h1m2 0h1m3 0h1m-105 1h1m1 0h1m1 0h1m6 0h1m4 0h1m64 0h1m2 0h2m1 0h1m3 0h2m2 0h1m8 0h1m4 0h2m-112 1h3m5 0h1m2 0h4m1 0h2m55 0h1m1 0h1m8 0h3m2 0h1m2 0h1m2 0h1m1 0h1m2 0h1m-105 1h1m8 0h2m1 0h1m1 0h3m1 0h1m1 0h1m52 0h2m4 0h2m3 0h2m1 0h1m3 0h1m8 0h1m5 0h1m-109 1h1m15 0h2m5 0h3m53 0h2m1 0h2m2 0h1m3 0h1m1 0h1m2 0h1m5 0h1m1 0h2m-101 1h1m14 0h2m2 0h2m2 0h1m48 0h2m1 0h2m1 0h1m2 0h1m17 0h1m-101 1h1m5 0h1m6 0h1m3 0h1m2 0h2m1 0h2m1 0h1m44 0h2m1 0h2m1 0h2m2 0h1m2 0h2m2 0h1m1 0h1m14 0h1m-105 1h1m13 0h3m4 0h2m1 0h4m44 0h2m1 0h2m1 0h2m4 0h1m6 0h2m7 0h1m12 0h1m-117 1h1m8 0h1m5 0h1m7 0h1m1 0h2m1 0h2m1 0h5m28 0h1m2 0h1m2 0h1m1 0h1m1 0h1m1 0h1m4 0h2m1 0h1m3 0h1m8 0h1m9 0h1m-90 1h2m1 0h3m1 0h1m3 0h3m3 0h1m27 0h3m3 0h3m2 0h1m2 0h1m1 0h2m1 0h3m7 0h1m1 0h1m7 0h1m5 0h1m6 0h1m-98 1h1m4 0h1m4 0h1m1 0h3m2 0h1m8 0h1m1 0h1m8 0h1m7 0h1m2 0h1m1 0h1m1 0h3m1 0h2m4 0h1m7 0h1m1 0h1m20 0h1m-108 1h1m17 0h1m2 0h2m2 0h1m4 0h2m1 0h2m3 0h2m10 0h2m6 0h2m1 0h2m2 0h3m1 0h6m3 0h1m1 0h1m1 0h1m-78 1h1m14 0h1m3 0h1m1 0h1m8 0h2m1 0h1m1 0h1m2 0h2m2 0h4m2 0h1m6 0h2m1 0h1m1 0h3m1 0h1m6 0h1m3 0h1m8 0h1m-73 1h2m2 0h1m6 0h1m1 0h3m3 0h1m1 0h3m2 0h1m4 0h2m1 0h1m1 0h1m8 0h1m14 0h1m-50 1h1m1 0h1m2 0h2m2 0h1m1 0h1m1 0h1m1 0h1m2 0h2m1 0h1m10 0h2m3 0h1m1 0h2m1 0h1m2 0h1m2 0h2m7 0h1m-51 1h1m2 0h1m1 0h1m4 0h4m1 0h1m2 0h1m2 0h1m1 0h1m3 0h2m1 0h2m5 0h1m11 0h1m2 0h1m6 0h1m-60 1h1m2 0h1m9 0h1m6 0h1m5 0h2m1 0h1m8 0h3m2 0h1m1 0h1m4 0h1m-64 1h1m9 0h1m14 0h1m1 0h2m3 0h2m10 0h1m4 0h1m1 0h1m2 0h1m1 0h1m8 0h1m-35 1h3m2 0h1m3 0h1m4 0h1m1 0h1m8 0h1m12 0h1m8 0h1m-56 1h1m8 0h1m1 0h1m1 0h1m7 0h1m1 0h1m7 0h1m33 0h1m-60 1h1m8 0h1m24 0h1m-56 1h1m1 0h1m20 0h1m6 0h1m3 0h1m1 0h2m7 0h1m9 0h1m-34 1h1m27 0h1m-40 1h1m27 0h1m4 0h1m-36 1h1" stroke="#2238e2"/>
<path d="M0 0m114 81h1m-22 2h1m11 1h1m-11 1h1m7 0h2m-2 1h1m6 0h1m-21 1h2m8 0h1m5 0h1m5 0h1m1 0h1m-12 1h3m-3 1h1m1 0h1m3 0h1m2 0h1m-24 1h1m8 0h1m3 0h1m2 0h1m2 0h2m-23 1h3m8 0h2m2 0h1m6 0h1m-29 1h1m6 0h1m2 0h1m7 0h1m1 0h1m2 0h1m-24 1h1m6 0h1m2 0h1m7 0h1m4 0h1m7 0h1m-31 1h1m8 0h1m4 0h1m4 0h1m-26 1h1m2 0h1m2 0h1m5 0h2m6 0h2m11 0h1m-42 1h2m3 0h1m10 0h1m3 0h2m6 0h2m1 0h1m9 0h1m-41 1h1m3 0h1m6 0h2m2 0h1m3 0h1m1 0h2m6 0h1m9 0h2m-41 1h1m3 0h1m30 0h3m1 0h5m-44 1h2m12 0h1m12 0h1m7 0h1m1 0h1m-40 1h2m8 0h1m8 0h1m-21 1h2m1 0h4m4 0h1m32 0h2m1 0h1m-48 1h1m46 0h1m-53 1h1m4 0h1m46 0h1m-1 1h1m-57 1h1m1 0h2m46 0h1m4 0h2m-59 1h1m54 0h1m-57 1h2m54 0h2m5 0h1m-60 1h1m51 0h4m2 0h1m-65 1h1m57 0h1m2 0h1m-1 1h2m-67 1h1m63 0h3m3 0h1m-8 1h1m-65 1h1m7 0h1m54 0h1m-62 1h1m60 0h1m1 0h3m-5 1h2m5 0h1m-74 1h2m63 0h1m-69 1h1m2 0h1m-4 1h1m2 0h2m65 0h2m2 0h2m-76 1h1m3 0h1m-4 1h2m-7 3h1m71 0h3m-76 1h3m3 0h1m64 0h1m4 0h2m-78 1h1m2 0h1m64 1h1m-76 1h1m75 0h1m0 1h3m1 0h2m-80 1h2m-3 1h2m-1 1h2m4 0h1m63 0h2m4 0h1m-83 1h1m73 0h2m2 0h1m8 0h1m-83 1h1m67 0h2m3 0h2m4 0h1m2 0h1m-89 1h2m2 0h1m69 0h1m-74 1h3m70 0h1m-69 1h1m69 0h3m-73 1h1m68 0h2m-6 1h2m1 0h3m-75 1h1m66 0h2m2 0h2m1 0h1m-4 1h2m-80 2h1m7 0h4m64 0h2m2 0h1m-73 1h1m67 0h1m-77 1h1m75 0h1m-78 1h2m11 0h1m57 0h2m-70 1h1m4 0h1m2 0h1m54 0h1m5 0h1m5 0h1m-71 1h4m53 0h2m5 0h1m-65 1h1m2 0h2m44 0h1m11 0h2m-59 1h1m44 0h1m9 0h3m-64 1h1m52 0h1m1 0h1m1 0h1m3 0h2m1 0h1m-49 1h1m32 0h3m1 0h1m2 0h1m7 0h1m-17 1h1m3 0h1m3 0h2m-11 1h2m2 0h2m-19 1h2m1 0h1m5 0h2m-20 1h2m6 0h3m7 0h1m-28 1h1m21 0h1m2 0h2m3 0h1m-9 1h1m2 0h1m4 0h3m-33 1h2m3 0h2m2 0h1m7 0h1m7 0h1m-9 1h1m2 0h1m7 0h1" stroke="#1c40e4"/>
<path d="M0 0m102 89h1m-5 4h1m-9 2h2m8 0h1m-21 1h1m4 0h1m4 0h1m5 1h1m-9 1h1m2 0h1m4 0h2m-10 1h3m16 0h2m-33 1h1m-4 1h1m8 0h1m3 0h2m13 1h1m-35 1h1m44 0h1m-52 1h1m8 0h1m35 0h2m-38 1h1m-6 2h1m-7 1h1m-2 4h1m-5 1h1m3 0h1m52 0h1m-58 1h1m-7 1h2m1 1h1m56 0h1m-59 1h2m-9 4h1m0 1h2m62 0h2m-71 2h1m66 0h1m-3 3h1m-67 3h2m62 0h1m-67 2h1m60 1h1m-59 1h1m-15 1h1m72 0h1m-9 6h1m-58 3h1m1 0h1m55 0h1m-59 1h3m7 0h1m46 1h1m-14 2h1m-7 1h1m-30 1h1m1 0h1m30 0h1m-36 1h1m2 0h1m1 0h1m31 0h1m4 0h1m-41 1h1m6 0h1m-8 1h1m5 0h1m1 1h1m12 1h1m-2 1h1" stroke="#1f5aea"/>
<path d="M0 0m101 95h1m-3 2h1m-9 2h1m-9 1h1m-1 1h1m17 2h1m-31 1h1m-8 2h2m-7 7h1m-6 2h1m-3 1h2m-1 1h1m50 2h1m-1 1h1m-1 1h2m-61 2h1m-3 1h1m-1 1h1m52 7h1m1 0h2m-62 2h1m-1 1h1m-6 1h1m-2 1h2m50 3h2m4 0h2m-50 4h2m-2 2h1m0 1h1m-5 1h1m30 1h1m-28 1h1m1 0h1m30 0h1m-34 2h1m17 3h2" stroke="#1c9cd8"/>
<path d="M0 0m83 102h1m-2 1h2m16 0h1m-46 12h1m49 3h1m-1 1h1m-6 5h2m-1 1h1m-60 5h1m-1 1h2m-7 2h1m58 0h1m-12 8h1m-48 7h1m31 0h1m-33 1h1m10 4h1" stroke="#18c088"/>
<path d="M0 0m42 147h1" stroke="#2cc84c"/>
</g>
</g>
<rect x="906" y="391.6" width="97" height="95.7" fill="none" stroke="#000" stroke-width="1.5"/>
<line x1="959.2" y1="391.6" x2="959.2" y2="487.3" stroke="#000" stroke-width="1.3"/>
<line x1="906" y1="432.8" x2="1003" y2="432.8" stroke="#000" stroke-width="1.3"/>
<line x1="910.1" y1="487.3" x2="910.1" y2="488.9" stroke="#444" stroke-width="0.8"/>
<line x1="914.2" y1="487.3" x2="914.2" y2="488.9" stroke="#444" stroke-width="0.8"/>
<line x1="918.3" y1="487.3" x2="918.3" y2="488.9" stroke="#444" stroke-width="0.8"/>
<line x1="922.4" y1="487.3" x2="922.4" y2="488.9" stroke="#444" stroke-width="0.8"/>
<line x1="926.5" y1="487.3" x2="926.5" y2="488.9" stroke="#444" stroke-width="0.8"/>
<line x1="930.6" y1="487.3" x2="930.6" y2="489.9" stroke="#444" stroke-width="0.8"/>
<line x1="934.7" y1="487.3" x2="934.7" y2="488.9" stroke="#444" stroke-width="0.8"/>
<line x1="938.8" y1="487.3" x2="938.8" y2="488.9" stroke="#444" stroke-width="0.8"/>
<line x1="942.9" y1="487.3" x2="942.9" y2="488.9" stroke="#444" stroke-width="0.8"/>
<line x1="947" y1="487.3" x2="947" y2="488.9" stroke="#444" stroke-width="0.8"/>
<line x1="951.1" y1="487.3" x2="951.1" y2="488.9" stroke="#444" stroke-width="0.8"/>
<line x1="955.2" y1="487.3" x2="955.2" y2="489.9" stroke="#444" stroke-width="0.8"/>
<line x1="959.3" y1="487.3" x2="959.3" y2="488.9" stroke="#444" stroke-width="0.8"/>
<line x1="963.4" y1="487.3" x2="963.4" y2="488.9" stroke="#444" stroke-width="0.8"/>
<line x1="967.5" y1="487.3" x2="967.5" y2="488.9" stroke="#444" stroke-width="0.8"/>
<line x1="971.6" y1="487.3" x2="971.6" y2="488.9" stroke="#444" stroke-width="0.8"/>
<line x1="975.7" y1="487.3" x2="975.7" y2="488.9" stroke="#444" stroke-width="0.8"/>
<line x1="979.8" y1="487.3" x2="979.8" y2="489.9" stroke="#444" stroke-width="0.8"/>
<line x1="983.9" y1="487.3" x2="983.9" y2="488.9" stroke="#444" stroke-width="0.8"/>
<line x1="988" y1="487.3" x2="988" y2="488.9" stroke="#444" stroke-width="0.8"/>
<line x1="992.1" y1="487.3" x2="992.1" y2="488.9" stroke="#444" stroke-width="0.8"/>
<line x1="996.2" y1="487.3" x2="996.2" y2="488.9" stroke="#444" stroke-width="0.8"/>
<line x1="1000.3" y1="487.3" x2="1000.3" y2="488.9" stroke="#444" stroke-width="0.8"/>
<line x1="903" y1="407" x2="906" y2="407" stroke="#333" stroke-width="1"/>
<line x1="903" y1="458" x2="906" y2="458" stroke="#333" stroke-width="1"/>
<text x="910" y="407.4" font-size="15.6" textLength="30.4" lengthAdjust="spacingAndGlyphs">1.83</text>
<text x="997.4" y="407.4" font-size="15.6" text-anchor="end" textLength="31" lengthAdjust="spacingAndGlyphs">3.26</text>
<text x="997.4" y="481.4" font-size="15.6" text-anchor="end" textLength="31" lengthAdjust="spacingAndGlyphs">3.75</text>
<text x="641.6" y="385.6" font-size="16.3" textLength="28.8" lengthAdjust="spacingAndGlyphs">Con</text>
<text x="736.8" y="385.6" font-size="16.3" textLength="30.2" lengthAdjust="spacingAndGlyphs">LPS</text>
<text x="808" y="367.2" font-size="16.3" textLength="39.6" lengthAdjust="spacingAndGlyphs">LPS+</text>
<text x="808" y="385.8" font-size="16.3" textLength="74.5" lengthAdjust="spacingAndGlyphs">Intact-Res</text>
<text x="915.5" y="385.8" font-size="16.3" textLength="82" lengthAdjust="spacingAndGlyphs">LPS+<tspan font-family='"Liberation Serif", "Times New Roman", Times, serif' font-size="17.5">γ</tspan>-Res</text>
<line x1="1012.7" y1="390.6" x2="1012.7" y2="489.3" stroke="#000" stroke-width="1.3"/>
<text x="1016.3" y="417.6" font-size="15.8" textLength="46.6" lengthAdjust="spacingAndGlyphs" transform="rotate(90 1016.3 417.6)">BMDC</text>
<text x="602.6" y="457.8" font-size="16" textLength="13.8" lengthAdjust="spacingAndGlyphs" transform="rotate(-90 602.6 457.8)">PI</text>
<path d="M598.3 477V497H616" fill="none" stroke="#000" stroke-width="1.1"/>
<polygon points="592.3,477.6 598.3,465.4 604.4,477.6" fill="#000"/>
<polygon points="615.4,491 627.4,497 615.4,503" fill="#000"/>
<text x="632.2" y="504.6" font-size="16.6" textLength="76.2" lengthAdjust="spacingAndGlyphs">Annexin V</text>
<text x="613.6" y="739.5" font-size="19.3" font-weight="bold" textLength="214" lengthAdjust="spacingAndGlyphs" transform="rotate(-90 613.6 739.5)">Cell death in BMDC (%)</text>
<line x1="655.4" y1="560" x2="655.4" y2="697.8" stroke="#000" stroke-width="1.6"/>
<line x1="654.6" y1="697" x2="858.6" y2="697" stroke="#000" stroke-width="1.8"/>
<line x1="646.8" y1="697" x2="655.4" y2="697" stroke="#000" stroke-width="1.6"/>
<text x="643.6" y="702.4" font-size="15.4" text-anchor="end">0</text>
<line x1="646.8" y1="662.92" x2="655.4" y2="662.92" stroke="#000" stroke-width="1.6"/>
<text x="643.6" y="668.32" font-size="15.4" text-anchor="end">5</text>
<line x1="646.8" y1="628.85" x2="655.4" y2="628.85" stroke="#000" stroke-width="1.6"/>
<text x="643.6" y="634.25" font-size="15.4" text-anchor="end">10</text>
<line x1="646.8" y1="594.77" x2="655.4" y2="594.77" stroke="#000" stroke-width="1.6"/>
<text x="643.6" y="600.17" font-size="15.4" text-anchor="end">15</text>
<line x1="646.8" y1="560.7" x2="655.4" y2="560.7" stroke="#000" stroke-width="1.6"/>
<text x="643.6" y="566.1" font-size="15.4" text-anchor="end">20</text>
<rect x="658.5" y="689.28" width="7.8" height="7.72" fill="#fff" stroke="#000" stroke-width="1.6"/>
<rect x="672.3" y="689.62" width="8.8" height="7.38" fill="#000" stroke="#000" stroke-width="1.6"/>
<line x1="676.7" y1="686.78" x2="676.7" y2="688.82" stroke="#000" stroke-width="1.5"/>
<line x1="673.1" y1="686.78" x2="680.3" y2="686.78" stroke="#000" stroke-width="1.5"/>
<rect x="687" y="637.49" width="8.8" height="59.51" fill="#f01212" stroke="#000" stroke-width="1.6"/>
<line x1="691.4" y1="633.82" x2="691.4" y2="639.55" stroke="#000" stroke-width="1.5"/>
<line x1="687.8" y1="633.82" x2="695" y2="633.82" stroke="#000" stroke-width="1.5"/>
<line x1="687.8" y1="639.55" x2="695" y2="639.55" stroke="#000" stroke-width="1.5"/>
<rect x="702.7" y="677.01" width="7.2" height="19.99" fill="#ffff00" stroke="#000" stroke-width="1.6"/>
<line x1="706.3" y1="667.49" x2="706.3" y2="684.94" stroke="#000" stroke-width="1.5"/>
<line x1="702.7" y1="667.49" x2="709.9" y2="667.49" stroke="#000" stroke-width="1.5"/>
<line x1="702.7" y1="684.94" x2="709.9" y2="684.94" stroke="#000" stroke-width="1.5"/>
<rect x="731.1" y="675.65" width="7.7" height="21.35" fill="#fff" stroke="#000" stroke-width="1.6"/>
<line x1="734.95" y1="669.4" x2="734.95" y2="680.3" stroke="#000" stroke-width="1.5"/>
<line x1="731.35" y1="669.4" x2="738.55" y2="669.4" stroke="#000" stroke-width="1.5"/>
<line x1="731.35" y1="680.3" x2="738.55" y2="680.3" stroke="#000" stroke-width="1.5"/>
<rect x="744.8" y="680.08" width="8.9" height="16.92" fill="#000" stroke="#000" stroke-width="1.6"/>
<line x1="749.25" y1="678.94" x2="749.25" y2="679.28" stroke="#000" stroke-width="1.5"/>
<line x1="745.65" y1="678.94" x2="752.85" y2="678.94" stroke="#000" stroke-width="1.5"/>
<rect x="759.6" y="606.48" width="8.6" height="90.52" fill="#f01212" stroke="#000" stroke-width="1.6"/>
<line x1="763.9" y1="596.14" x2="763.9" y2="615.22" stroke="#000" stroke-width="1.5"/>
<line x1="760.3" y1="596.14" x2="767.5" y2="596.14" stroke="#000" stroke-width="1.5"/>
<line x1="760.3" y1="615.22" x2="767.5" y2="615.22" stroke="#000" stroke-width="1.5"/>
<rect x="774.3" y="669.86" width="8.2" height="27.14" fill="#ffff00" stroke="#000" stroke-width="1.6"/>
<line x1="778.4" y1="665.11" x2="778.4" y2="673.01" stroke="#000" stroke-width="1.5"/>
<line x1="774.8" y1="665.11" x2="782" y2="665.11" stroke="#000" stroke-width="1.5"/>
<line x1="774.8" y1="673.01" x2="782" y2="673.01" stroke="#000" stroke-width="1.5"/>
<rect x="803.3" y="689.49" width="8.2" height="7.51" fill="#fff" stroke="#000" stroke-width="1.6"/>
<line x1="807.4" y1="683.37" x2="807.4" y2="694" stroke="#000" stroke-width="1.5"/>
<line x1="803.8" y1="683.37" x2="811" y2="683.37" stroke="#000" stroke-width="1.5"/>
<line x1="803.8" y1="694" x2="811" y2="694" stroke="#000" stroke-width="1.5"/>
<rect x="817.6" y="660.32" width="8.2" height="36.68" fill="#000" stroke="#000" stroke-width="1.6"/>
<line x1="821.7" y1="651.34" x2="821.7" y2="659.52" stroke="#000" stroke-width="1.5"/>
<line x1="818.1" y1="651.34" x2="825.3" y2="651.34" stroke="#000" stroke-width="1.5"/>
<rect x="832.3" y="663.72" width="8.2" height="33.28" fill="#f01212" stroke="#000" stroke-width="1.6"/>
<line x1="836.4" y1="660.74" x2="836.4" y2="665.11" stroke="#000" stroke-width="1.5"/>
<line x1="832.8" y1="660.74" x2="840" y2="660.74" stroke="#000" stroke-width="1.5"/>
<line x1="832.8" y1="665.11" x2="840" y2="665.11" stroke="#000" stroke-width="1.5"/>
<rect x="847" y="682.13" width="7.8" height="14.87" fill="#ffff00" stroke="#000" stroke-width="1.6"/>
<line x1="850.9" y1="679.28" x2="850.9" y2="683.37" stroke="#000" stroke-width="1.5"/>
<line x1="847.3" y1="679.28" x2="854.5" y2="679.28" stroke="#000" stroke-width="1.5"/>
<line x1="847.3" y1="683.37" x2="854.5" y2="683.37" stroke="#000" stroke-width="1.5"/>
<line x1="719.1" y1="560.5" x2="719.1" y2="728" stroke="#000" stroke-width="1.8" stroke-dasharray="4.2 2.2"/>
<line x1="792.6" y1="560.5" x2="792.6" y2="728" stroke="#000" stroke-width="1.8" stroke-dasharray="4.2 2.2"/>
<path d="M678.7 632.3V624.6H691.5V633.8" fill="none" stroke="#000" stroke-width="1.5"/>
<path d="M677.7 609.3V600.5H706.2V660.9" fill="none" stroke="#000" stroke-width="1.5"/>
<text x="670.6" y="625.6" font-size="19" font-family='"Liberation Serif", "Times New Roman", Times, serif'>***</text>
<text x="680.4" y="597.4" font-size="17" textLength="27.2" lengthAdjust="spacingAndGlyphs" font-style="italic">n.s.</text>
<path d="M750.9 591.6V583.8H763.7V591.6" fill="none" stroke="#000" stroke-width="1.5"/>
<path d="M748.6 570V561.8H777.8V661.3" fill="none" stroke="#000" stroke-width="1.5"/>
<text x="742.6" y="585.2" font-size="19" font-family='"Liberation Serif", "Times New Roman", Times, serif'>***</text>
<text x="751.7" y="559.2" font-size="17" textLength="26.4" lengthAdjust="spacingAndGlyphs" font-style="italic">n.s.</text>
<text x="649.2" y="717.8" font-size="16.5" textLength="63" lengthAdjust="spacingAndGlyphs">Necrosis</text>
<text x="723.6" y="718" font-size="16.5" textLength="29.8" lengthAdjust="spacingAndGlyphs">Late</text>
<text x="723.6" y="737.6" font-size="16.5" textLength="68.2" lengthAdjust="spacingAndGlyphs">apoptosis</text>
<text x="797.2" y="718" font-size="16.5" textLength="70.6" lengthAdjust="spacingAndGlyphs">Apoptosis</text>
<rect x="872.6" y="542.4" width="23.1" height="11.5" fill="#fff" stroke="#000" stroke-width="1.6"/>
<text x="905.7" y="554.8" font-size="16.3" textLength="28.5" lengthAdjust="spacingAndGlyphs">Con</text>
<rect x="872.6" y="567.3" width="23.1" height="11.2" fill="#000" stroke="#000" stroke-width="1.6"/>
<text x="905.7" y="579.4" font-size="16.3" textLength="29.5" lengthAdjust="spacingAndGlyphs">LPS</text>
<rect x="872.6" y="592.4" width="23.1" height="11.2" fill="#f01212" stroke="#000" stroke-width="1.6"/>
<text x="905.7" y="604.5" font-size="16.3" textLength="116.4" lengthAdjust="spacingAndGlyphs">LPS+Intact-Res</text>
<rect x="872.6" y="621.3" width="23.1" height="11.1" fill="#ffff00" stroke="#000" stroke-width="1.6"/>
<text x="905.7" y="633.3" font-size="16.3" textLength="82.4" lengthAdjust="spacingAndGlyphs">LPS+<tspan font-family='"Liberation Serif", "Times New Roman", Times, serif' font-size="17.5">γ</tspan>-Res</text>
<!-- Panel E -->
<text x="534.6" y="783" font-size="34.5" font-weight="bold">E</text>
<text x="613.4" y="910.8" font-size="19.8" font-weight="bold" textLength="118.7" lengthAdjust="spacingAndGlyphs" transform="rotate(-90 613.4 910.8)">Viablility (%)</text>
<line x1="667" y1="799.6" x2="667" y2="896" stroke="#000" stroke-width="1.6"/>
<line x1="657.8" y1="895.2" x2="763.8" y2="895.2" stroke="#000" stroke-width="1.8"/>
<line x1="657.8" y1="895.2" x2="667" y2="895.2" stroke="#000" stroke-width="1.6"/>
<text x="655.2" y="900.8" font-size="15.6" text-anchor="end">0</text>
<line x1="657.8" y1="863.66" x2="667" y2="863.66" stroke="#000" stroke-width="1.6"/>
<text x="655.2" y="869.26" font-size="15.6" text-anchor="end">40</text>
<line x1="657.8" y1="832.12" x2="667" y2="832.12" stroke="#000" stroke-width="1.6"/>
<text x="655.2" y="837.72" font-size="15.6" text-anchor="end">80</text>
<line x1="657.8" y1="800.58" x2="667" y2="800.58" stroke="#000" stroke-width="1.6"/>
<text x="655.2" y="806.18" font-size="15.6" text-anchor="end">120</text>
<rect x="671.1" y="817.15" width="14.6" height="78.05" fill="#fff" stroke="#000" stroke-width="1.6"/>
<line x1="678.4" y1="813.51" x2="678.4" y2="819.19" stroke="#000" stroke-width="1.5"/>
<line x1="673" y1="813.51" x2="683.8" y2="813.51" stroke="#000" stroke-width="1.5"/>
<line x1="673" y1="819.19" x2="683.8" y2="819.19" stroke="#000" stroke-width="1.5"/>
<rect x="694.8" y="816.76" width="15.3" height="78.44" fill="#000" stroke="#000" stroke-width="1.6"/>
<line x1="697.05" y1="815.36" x2="707.85" y2="815.36" stroke="#000" stroke-width="1.4"/>
<rect x="719.3" y="849.32" width="14.4" height="45.88" fill="#f01212" stroke="#000" stroke-width="1.6"/>
<line x1="721.1" y1="847.92" x2="731.9" y2="847.92" stroke="#000" stroke-width="1.4"/>
<rect x="743.8" y="820.46" width="14.1" height="74.74" fill="#ffff00" stroke="#000" stroke-width="1.6"/>
<line x1="745.45" y1="819.06" x2="756.25" y2="819.06" stroke="#000" stroke-width="1.4"/>
<path d="M704.7 799.5V791.8H744.5V799.5" fill="none" stroke="#000" stroke-width="1.5"/>
<line x1="717.2" y1="798.6" x2="759" y2="798.6" stroke="#000" stroke-width="1.5"/>
<text x="713.6" y="847.2" font-size="16.4" font-family='"Liberation Serif", "Times New Roman", Times, serif' fill="#3a3a3a" class="ns">***</text>
<text x="741.2" y="816" font-size="16.6" textLength="24.6" lengthAdjust="spacingAndGlyphs" font-style="italic">n.s.</text>
<rect x="787.2" y="789.7" width="22.6" height="10.9" fill="#fff" stroke="#000" stroke-width="1.6"/>
<text x="819.7" y="801.5" font-size="16.3" textLength="28.5" lengthAdjust="spacingAndGlyphs">Con</text>
<rect x="787.2" y="814.4" width="22.6" height="11.3" fill="#000" stroke="#000" stroke-width="1.6"/>
<text x="819.7" y="826.6" font-size="16.3" textLength="29.5" lengthAdjust="spacingAndGlyphs">LPS</text>
<rect x="787.2" y="838.8" width="22.6" height="11" fill="#f01212" stroke="#000" stroke-width="1.6"/>
<text x="819.7" y="850.7" font-size="16.3" textLength="116.9" lengthAdjust="spacingAndGlyphs">LPS+Intact-Res</text>
<rect x="787.2" y="865.2" width="22.6" height="10.8" fill="#ffff00" stroke="#000" stroke-width="1.6"/>
<text x="819.7" y="876.9" font-size="16.3" textLength="83.8" lengthAdjust="spacingAndGlyphs">LPS+<tspan font-family='"Liberation Serif", "Times New Roman", Times, serif' font-size="17.5">γ</tspan>-Res</text>
</svg></body></html>
